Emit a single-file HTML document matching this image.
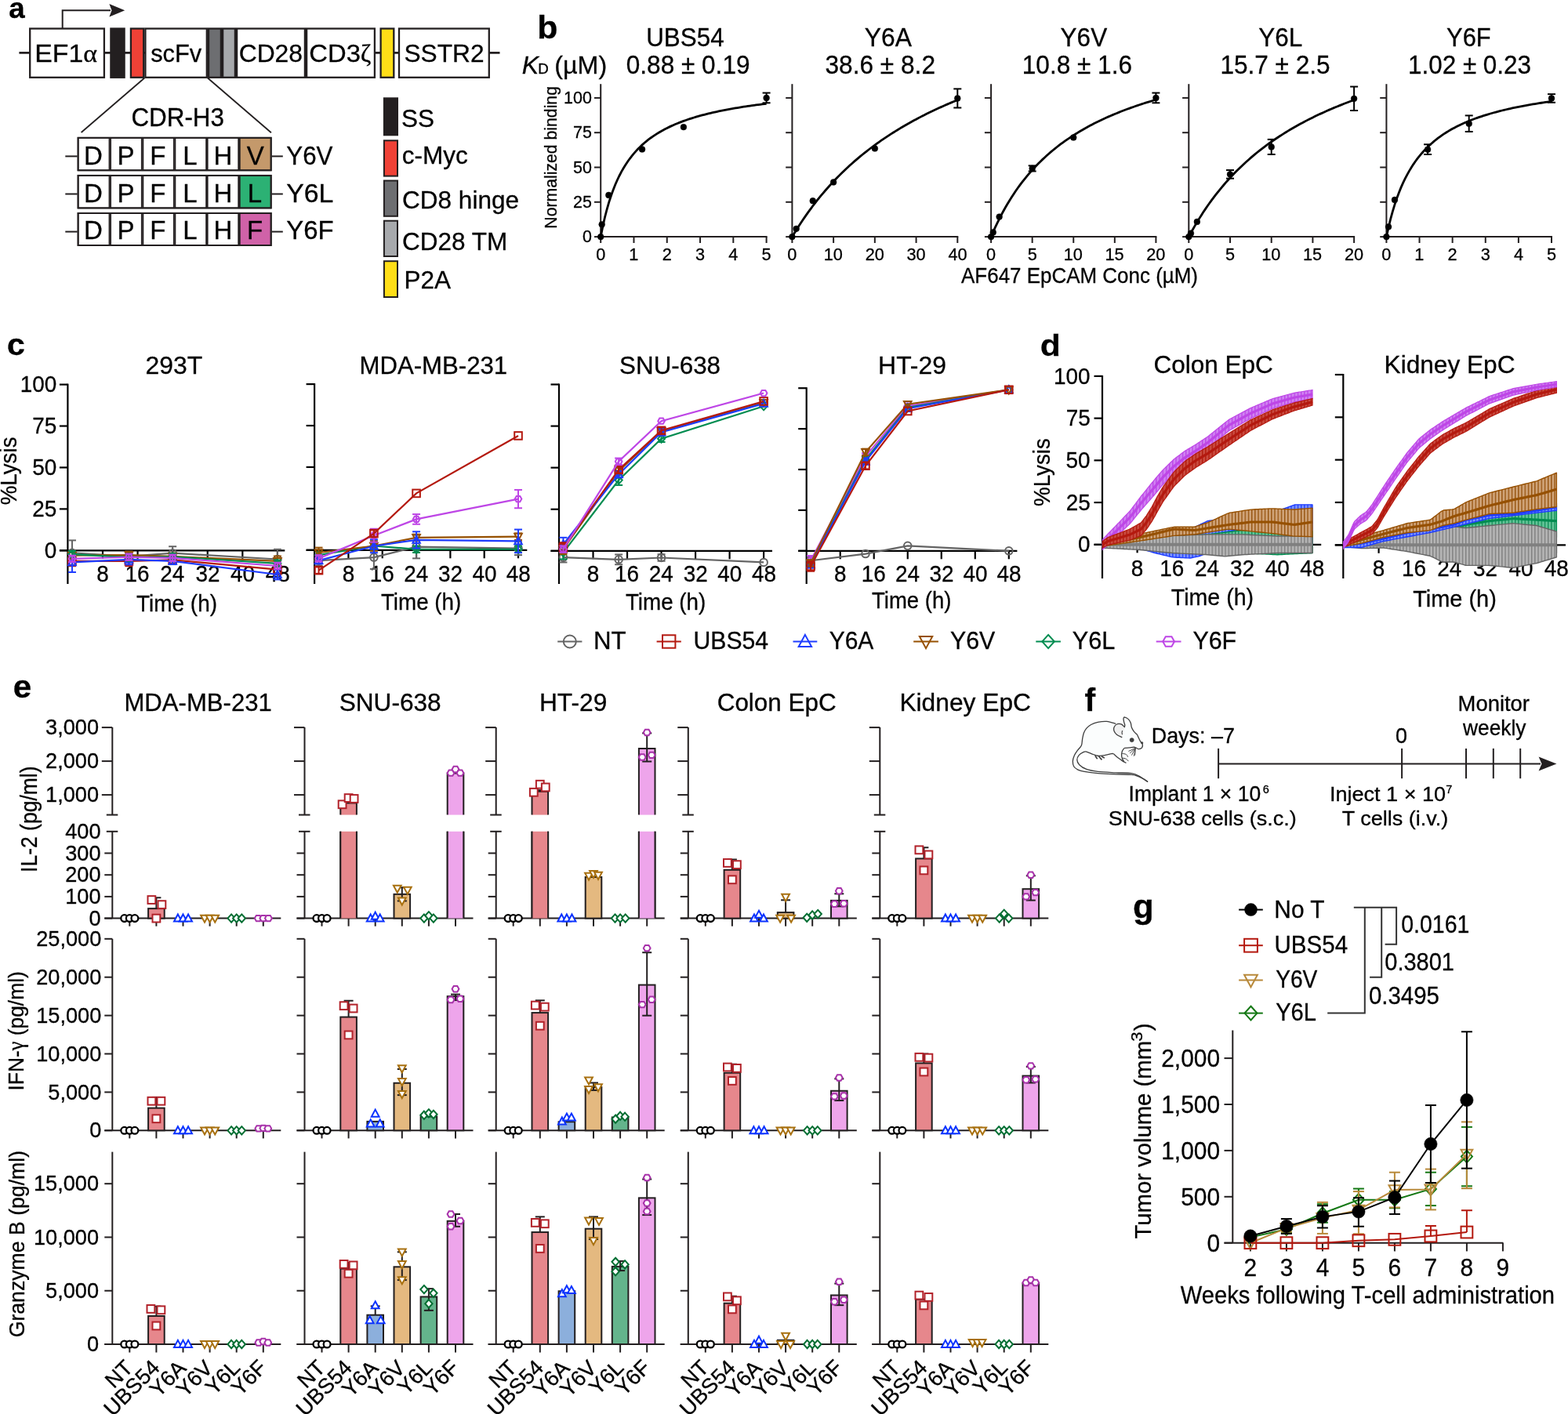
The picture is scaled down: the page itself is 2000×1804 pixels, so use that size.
<!DOCTYPE html><html><head><meta charset="utf-8"><title>Figure</title><style>html,body{margin:0;padding:0;background:#fff;}svg{display:block;}</style></head><body>
<svg width="2000" height="1804" viewBox="0 0 2000 1804" font-family="Liberation Sans, Arial, Helvetica, sans-serif" fill="#000">
<style>text{stroke:#000;stroke-width:0.3px;}</style>
<rect x="0" y="0" width="2000" height="1804" fill="#fff"/>
<text x="11.32" y="22.6" font-size="36.5" font-weight="bold" textLength="20.44" lengthAdjust="spacingAndGlyphs">a</text>
<polyline points="79.7,36 79.7,13.2 141,13.2" fill="none" stroke="#231f20" stroke-width="2"/>
<polygon points="139.4,5 159.2,13.2 139.4,21.5 142.5,13.2" fill="#231f20"/>
<line x1="24.4" y1="67.4" x2="637.5" y2="67.4" stroke="#231f20" stroke-width="2.8"/>
<rect x="38.2" y="36.5" width="94.7" height="62.3" fill="#fff" stroke="#231f20" stroke-width="2.3"/>
<rect x="141.4" y="36.5" width="17.2" height="62.3" fill="#231f20" stroke="#231f20" stroke-width="2.3"/>
<rect x="166.9" y="36.5" width="16.3" height="62.3" fill="#ef4136" stroke="#231f20" stroke-width="2.3"/>
<rect x="185.4" y="36.5" width="78.4" height="62.3" fill="#fff" stroke="#231f20" stroke-width="2.3"/>
<rect x="266" y="36.5" width="15.9" height="62.3" fill="#6d6e71" stroke="#231f20" stroke-width="2.3"/>
<rect x="284.1" y="36.5" width="15.8" height="62.3" fill="#a7a9ac" stroke="#231f20" stroke-width="2.3"/>
<rect x="302.1" y="36.5" width="86.8" height="62.3" fill="#fff" stroke="#231f20" stroke-width="2.3"/>
<rect x="391.1" y="36.5" width="86.8" height="62.3" fill="#fff" stroke="#231f20" stroke-width="2.3"/>
<rect x="485.6" y="36.5" width="16.7" height="62.3" fill="#ffde17" stroke="#231f20" stroke-width="2.3"/>
<rect x="509" y="36.5" width="114.8" height="62.3" fill="#fff" stroke="#231f20" stroke-width="2.3"/>
<text x="44.29" y="79.2" font-size="32" textLength="79.66" lengthAdjust="spacingAndGlyphs">EF1<tspan font-family="Liberation Serif, serif">α</tspan></text>
<text x="192.14" y="79.2" font-size="32" textLength="64.96" lengthAdjust="spacingAndGlyphs">scFv</text>
<text x="304.69" y="78.7" font-size="32" textLength="81.3" lengthAdjust="spacingAndGlyphs">CD28</text>
<text x="394.36" y="78.7" font-size="32" textLength="79.06" lengthAdjust="spacingAndGlyphs">CD3<tspan font-family="Liberation Serif, serif">ζ</tspan></text>
<text x="515.46" y="78.7" font-size="32" textLength="102.03" lengthAdjust="spacingAndGlyphs">SSTR2</text>
<line x1="184.3" y1="99.5" x2="103.6" y2="169" stroke="#231f20" stroke-width="1.8"/>
<line x1="264.9" y1="99.5" x2="345.9" y2="169.2" stroke="#231f20" stroke-width="1.8"/>
<text x="167.41" y="161" font-size="32.5" textLength="118.57" lengthAdjust="spacingAndGlyphs">CDR-H3</text>
<line x1="83.3" y1="199.4" x2="98.7" y2="199.4" stroke="#231f20" stroke-width="2"/>
<line x1="346.6" y1="199.4" x2="360.8" y2="199.4" stroke="#231f20" stroke-width="2"/>
<rect x="99.5" y="175.8" width="40" height="41.5" fill="#fff" stroke="#231f20" stroke-width="1.8"/>
<rect x="141.1" y="175.8" width="39.7" height="41.5" fill="#fff" stroke="#231f20" stroke-width="1.8"/>
<rect x="182.4" y="175.8" width="39.4" height="41.5" fill="#fff" stroke="#231f20" stroke-width="1.8"/>
<rect x="223.4" y="175.8" width="39.7" height="41.5" fill="#fff" stroke="#231f20" stroke-width="1.8"/>
<rect x="264.7" y="175.8" width="39.5" height="41.5" fill="#fff" stroke="#231f20" stroke-width="1.8"/>
<rect x="305.8" y="175.8" width="40" height="41.5" fill="#c4996b" stroke="#231f20" stroke-width="1.8"/>
<rect x="99.7" y="175.8" width="245.9" height="41.5" fill="none" stroke="#231f20" stroke-width="2"/>
<text x="107.02" y="209.6" font-size="33">D</text>
<text x="149.46" y="209.6" font-size="33">P</text>
<text x="191.33" y="209.6" font-size="33">F</text>
<text x="233.27" y="209.6" font-size="33">L</text>
<text x="272.53" y="209.6" font-size="33">H</text>
<text x="314.79" y="209.6" font-size="33">V</text>
<text x="365.31" y="209.6" font-size="33" textLength="59.12" lengthAdjust="spacingAndGlyphs">Y6V</text>
<line x1="83.3" y1="247.5" x2="98.7" y2="247.5" stroke="#231f20" stroke-width="2"/>
<line x1="346.6" y1="247.5" x2="360.8" y2="247.5" stroke="#231f20" stroke-width="2"/>
<rect x="99.5" y="223.9" width="40" height="41.5" fill="#fff" stroke="#231f20" stroke-width="1.8"/>
<rect x="141.1" y="223.9" width="39.7" height="41.5" fill="#fff" stroke="#231f20" stroke-width="1.8"/>
<rect x="182.4" y="223.9" width="39.4" height="41.5" fill="#fff" stroke="#231f20" stroke-width="1.8"/>
<rect x="223.4" y="223.9" width="39.7" height="41.5" fill="#fff" stroke="#231f20" stroke-width="1.8"/>
<rect x="264.7" y="223.9" width="39.5" height="41.5" fill="#fff" stroke="#231f20" stroke-width="1.8"/>
<rect x="305.8" y="223.9" width="40" height="41.5" fill="#2cb174" stroke="#231f20" stroke-width="1.8"/>
<rect x="99.7" y="223.9" width="245.9" height="41.5" fill="none" stroke="#231f20" stroke-width="2"/>
<text x="107.02" y="257.7" font-size="33">D</text>
<text x="149.46" y="257.7" font-size="33">P</text>
<text x="191.33" y="257.7" font-size="33">F</text>
<text x="233.27" y="257.7" font-size="33">L</text>
<text x="272.53" y="257.7" font-size="33">H</text>
<text x="315.82" y="257.7" font-size="33">L</text>
<text x="365.26" y="257.7" font-size="33" textLength="60.17" lengthAdjust="spacingAndGlyphs">Y6L</text>
<line x1="83.3" y1="295.6" x2="98.7" y2="295.6" stroke="#231f20" stroke-width="2"/>
<line x1="346.6" y1="295.6" x2="360.8" y2="295.6" stroke="#231f20" stroke-width="2"/>
<rect x="99.5" y="272" width="40" height="41" fill="#fff" stroke="#231f20" stroke-width="1.8"/>
<rect x="141.1" y="272" width="39.7" height="41" fill="#fff" stroke="#231f20" stroke-width="1.8"/>
<rect x="182.4" y="272" width="39.4" height="41" fill="#fff" stroke="#231f20" stroke-width="1.8"/>
<rect x="223.4" y="272" width="39.7" height="41" fill="#fff" stroke="#231f20" stroke-width="1.8"/>
<rect x="264.7" y="272" width="39.5" height="41" fill="#fff" stroke="#231f20" stroke-width="1.8"/>
<rect x="305.8" y="272" width="40" height="41" fill="#d062a8" stroke="#231f20" stroke-width="1.8"/>
<rect x="99.7" y="272" width="245.9" height="41" fill="none" stroke="#231f20" stroke-width="2"/>
<text x="107.02" y="305.3" font-size="33">D</text>
<text x="149.46" y="305.3" font-size="33">P</text>
<text x="191.33" y="305.3" font-size="33">F</text>
<text x="233.27" y="305.3" font-size="33">L</text>
<text x="272.53" y="305.3" font-size="33">H</text>
<text x="315.03" y="305.3" font-size="33">F</text>
<text x="365.28" y="305.3" font-size="33" textLength="60.34" lengthAdjust="spacingAndGlyphs">Y6F</text>
<rect x="489.9" y="125.3" width="17.1" height="47" fill="#231f20" stroke="#231f20" stroke-width="2"/>
<text x="511.97" y="162" font-size="31.5">SS</text>
<rect x="489.9" y="179.3" width="17.1" height="45.3" fill="#ef4136" stroke="#231f20" stroke-width="2"/>
<text x="512.66" y="209.3" font-size="31.5">c-Myc</text>
<rect x="489.9" y="230.5" width="17.1" height="45.3" fill="#6d6e71" stroke="#231f20" stroke-width="2"/>
<text x="513.1" y="266" font-size="31.5">CD8 hinge</text>
<rect x="489.9" y="281.7" width="17.1" height="45.3" fill="#a7a9ac" stroke="#231f20" stroke-width="2"/>
<text x="513.1" y="318.7" font-size="31.5">CD28 TM</text>
<rect x="489.9" y="333.2" width="17.1" height="45.8" fill="#ffde17" stroke="#231f20" stroke-width="2"/>
<text x="515.42" y="368.3" font-size="31.5">P2A</text>
<text x="685.17" y="49" font-size="40.5" font-weight="bold" textLength="26.18" lengthAdjust="spacingAndGlyphs">b</text>
<text x="665.67" y="93.5" font-size="32" font-style="italic">K</text>
<text x="686.37" y="93.9" font-size="18.7">D</text>
<text x="707.3" y="93.5" font-size="32" textLength="66.9" lengthAdjust="spacingAndGlyphs">(µM)</text>
<text x="824.18" y="58.7" font-size="33.4" textLength="99.44" lengthAdjust="spacingAndGlyphs">UBS54</text>
<text x="798.77" y="93.8" font-size="33.4" textLength="157.73" lengthAdjust="spacingAndGlyphs">0.88 ± 0.19</text>
<line x1="766.2" y1="107.2" x2="766.2" y2="303.1" stroke="#231f20" stroke-width="2"/>
<line x1="765.2" y1="302.1" x2="978.6" y2="302.1" stroke="#231f20" stroke-width="2"/>
<line x1="758" y1="302.1" x2="766.2" y2="302.1" stroke="#231f20" stroke-width="2"/>
<text x="742.9" y="309.3" font-size="22.6" textLength="11.94" lengthAdjust="spacingAndGlyphs">0</text>
<line x1="758" y1="257.8" x2="766.2" y2="257.8" stroke="#231f20" stroke-width="2"/>
<text x="731.02" y="265" font-size="22.6" textLength="23.88" lengthAdjust="spacingAndGlyphs">25</text>
<line x1="758" y1="213.5" x2="766.2" y2="213.5" stroke="#231f20" stroke-width="2"/>
<text x="730.96" y="220.7" font-size="22.6" textLength="23.88" lengthAdjust="spacingAndGlyphs">50</text>
<line x1="758" y1="169.2" x2="766.2" y2="169.2" stroke="#231f20" stroke-width="2"/>
<text x="731.02" y="176.4" font-size="22.6" textLength="23.88" lengthAdjust="spacingAndGlyphs">75</text>
<line x1="758" y1="124.9" x2="766.2" y2="124.9" stroke="#231f20" stroke-width="2"/>
<text x="719.02" y="132.1" font-size="22.6" textLength="35.82" lengthAdjust="spacingAndGlyphs">100</text>
<line x1="766.2" y1="302.1" x2="766.2" y2="310" stroke="#231f20" stroke-width="2"/>
<text x="760.17" y="332" font-size="22.6" textLength="12.07" lengthAdjust="spacingAndGlyphs">0</text>
<line x1="808.48" y1="302.1" x2="808.48" y2="310" stroke="#231f20" stroke-width="2"/>
<text x="802.15" y="332" font-size="22.6" textLength="12.07" lengthAdjust="spacingAndGlyphs">1</text>
<line x1="850.76" y1="302.1" x2="850.76" y2="310" stroke="#231f20" stroke-width="2"/>
<text x="844.73" y="332" font-size="22.6" textLength="12.07" lengthAdjust="spacingAndGlyphs">2</text>
<line x1="893.04" y1="302.1" x2="893.04" y2="310" stroke="#231f20" stroke-width="2"/>
<text x="887.07" y="332" font-size="22.6" textLength="12.07" lengthAdjust="spacingAndGlyphs">3</text>
<line x1="935.32" y1="302.1" x2="935.32" y2="310" stroke="#231f20" stroke-width="2"/>
<text x="929.36" y="332" font-size="22.6" textLength="12.07" lengthAdjust="spacingAndGlyphs">4</text>
<line x1="977.6" y1="302.1" x2="977.6" y2="310" stroke="#231f20" stroke-width="2"/>
<text x="971.59" y="332" font-size="22.6" textLength="12.07" lengthAdjust="spacingAndGlyphs">5</text>
<polyline points="766.2,302.1 768.84,288.86 771.49,277.26 774.13,267.02 776.77,257.92 779.41,249.77 782.06,242.43 784.7,235.78 787.34,229.74 789.98,224.23 792.62,219.17 795.27,214.51 797.91,210.21 800.55,206.23 803.2,202.53 805.84,199.09 808.48,195.87 811.12,192.87 813.77,190.05 816.41,187.4 819.05,184.9 821.69,182.55 824.34,180.33 826.98,178.23 829.62,176.24 832.26,174.35 834.91,172.55 837.55,170.84 840.19,169.22 842.83,167.67 845.48,166.19 848.12,164.77 850.76,163.42 853.4,162.12 856.05,160.88 858.69,159.69 861.33,158.54 863.97,157.44 866.62,156.39 869.26,155.37 871.9,154.39 874.54,153.45 877.19,152.54 879.83,151.66 882.47,150.81 885.11,149.99 887.75,149.2 890.4,148.43 893.04,147.69 895.68,146.97 898.33,146.28 900.97,145.6 903.61,144.95 906.25,144.31 908.89,143.7 911.54,143.1 914.18,142.52 916.82,141.95 919.47,141.41 922.11,140.87 924.75,140.35 927.39,139.85 930.04,139.35 932.68,138.88 935.32,138.41 937.96,137.95 940.61,137.51 943.25,137.08 945.89,136.65 948.53,136.24 951.17,135.84 953.82,135.44 956.46,135.06 959.1,134.69 961.75,134.32 964.39,133.96 967.03,133.61 969.67,133.27 972.32,132.93 974.96,132.6 977.6,132.28" fill="none" stroke="#000" stroke-width="2.8"/>
<circle cx="766.2" cy="302.1" r="3.9" fill="#000" stroke="#000" stroke-width="0.5"/>
<circle cx="767.68" cy="286.33" r="3.9" fill="#000" stroke="#000" stroke-width="0.5"/>
<circle cx="776.35" cy="248.94" r="3.9" fill="#000" stroke="#000" stroke-width="0.5"/>
<circle cx="819.05" cy="190.46" r="3.9" fill="#000" stroke="#000" stroke-width="0.5"/>
<circle cx="871.9" cy="162.11" r="3.9" fill="#000" stroke="#000" stroke-width="0.5"/>
<line x1="977.6" y1="131.28" x2="977.6" y2="118.52" stroke="#000" stroke-width="2"/>
<line x1="972.6" y1="131.28" x2="982.6" y2="131.28" stroke="#000" stroke-width="2"/>
<line x1="972.6" y1="118.52" x2="982.6" y2="118.52" stroke="#000" stroke-width="2"/>
<circle cx="977.6" cy="124.9" r="3.9" fill="#000" stroke="#000" stroke-width="0.5"/>
<text x="1102.8" y="58.7" font-size="33.4" textLength="60.16" lengthAdjust="spacingAndGlyphs">Y6A</text>
<text x="1052.5" y="93.8" font-size="33.4" textLength="140.5" lengthAdjust="spacingAndGlyphs">38.6 ± 8.2</text>
<line x1="1010.4" y1="107.2" x2="1010.4" y2="303.1" stroke="#231f20" stroke-width="2"/>
<line x1="1009.4" y1="302.1" x2="1222.3" y2="302.1" stroke="#231f20" stroke-width="2"/>
<line x1="1002.2" y1="302.1" x2="1010.4" y2="302.1" stroke="#231f20" stroke-width="2"/>
<line x1="1002.2" y1="257.8" x2="1010.4" y2="257.8" stroke="#231f20" stroke-width="2"/>
<line x1="1002.2" y1="213.5" x2="1010.4" y2="213.5" stroke="#231f20" stroke-width="2"/>
<line x1="1002.2" y1="169.2" x2="1010.4" y2="169.2" stroke="#231f20" stroke-width="2"/>
<line x1="1002.2" y1="124.9" x2="1010.4" y2="124.9" stroke="#231f20" stroke-width="2"/>
<line x1="1010.4" y1="302.1" x2="1010.4" y2="310" stroke="#231f20" stroke-width="2"/>
<text x="1004.37" y="332" font-size="22.6" textLength="12.07" lengthAdjust="spacingAndGlyphs">0</text>
<line x1="1063.12" y1="302.1" x2="1063.12" y2="310" stroke="#231f20" stroke-width="2"/>
<text x="1050.66" y="332" font-size="22.6" textLength="24.13" lengthAdjust="spacingAndGlyphs">10</text>
<line x1="1115.85" y1="302.1" x2="1115.85" y2="310" stroke="#231f20" stroke-width="2"/>
<text x="1103.66" y="332" font-size="22.6" textLength="24.13" lengthAdjust="spacingAndGlyphs">20</text>
<line x1="1168.58" y1="302.1" x2="1168.58" y2="310" stroke="#231f20" stroke-width="2"/>
<text x="1156.52" y="332" font-size="22.6" textLength="24.13" lengthAdjust="spacingAndGlyphs">30</text>
<line x1="1221.3" y1="302.1" x2="1221.3" y2="310" stroke="#231f20" stroke-width="2"/>
<text x="1209.41" y="332" font-size="22.6" textLength="24.13" lengthAdjust="spacingAndGlyphs">40</text>
<polyline points="1010.4,302.1 1013.04,297.72 1015.67,293.44 1018.31,289.27 1020.94,285.21 1023.58,281.24 1026.22,277.37 1028.85,273.59 1031.49,269.9 1034.13,266.3 1036.76,262.78 1039.4,259.34 1042.04,255.97 1044.67,252.68 1047.31,249.46 1049.94,246.32 1052.58,243.24 1055.22,240.22 1057.85,237.27 1060.49,234.38 1063.12,231.55 1065.76,228.77 1068.4,226.06 1071.03,223.39 1073.67,220.78 1076.31,218.22 1078.94,215.72 1081.58,213.25 1084.21,210.84 1086.85,208.47 1089.49,206.14 1092.12,203.86 1094.76,201.62 1097.4,199.42 1100.03,197.26 1102.67,195.14 1105.31,193.06 1107.94,191.01 1110.58,189 1113.21,187.02 1115.85,185.08 1118.49,183.16 1121.12,181.29 1123.76,179.44 1126.39,177.62 1129.03,175.83 1131.67,174.08 1134.3,172.35 1136.94,170.64 1139.58,168.97 1142.21,167.32 1144.85,165.7 1147.48,164.1 1150.12,162.52 1152.76,160.97 1155.39,159.45 1158.03,157.95 1160.67,156.46 1163.3,155.01 1165.94,153.57 1168.58,152.15 1171.21,150.76 1173.85,149.38 1176.48,148.02 1179.12,146.69 1181.76,145.37 1184.39,144.07 1187.03,142.79 1189.66,141.52 1192.3,140.27 1194.94,139.04 1197.57,137.83 1200.21,136.63 1202.85,135.45 1205.48,134.29 1208.12,133.14 1210.75,132 1213.39,130.88 1216.03,129.78 1218.66,128.68 1221.3,127.61" fill="none" stroke="#000" stroke-width="2.8"/>
<circle cx="1010.4" cy="302.1" r="3.9" fill="#000" stroke="#000" stroke-width="0.5"/>
<circle cx="1015.67" cy="291.82" r="3.9" fill="#000" stroke="#000" stroke-width="0.5"/>
<circle cx="1036.76" cy="256.21" r="3.9" fill="#000" stroke="#000" stroke-width="0.5"/>
<circle cx="1063.12" cy="232.46" r="3.9" fill="#000" stroke="#000" stroke-width="0.5"/>
<circle cx="1115.85" cy="189.4" r="3.9" fill="#000" stroke="#000" stroke-width="0.5"/>
<line x1="1221.3" y1="137.48" x2="1221.3" y2="113.38" stroke="#000" stroke-width="2"/>
<line x1="1216.3" y1="137.48" x2="1226.3" y2="137.48" stroke="#000" stroke-width="2"/>
<line x1="1216.3" y1="113.38" x2="1226.3" y2="113.38" stroke="#000" stroke-width="2"/>
<circle cx="1221.3" cy="125.43" r="3.9" fill="#000" stroke="#000" stroke-width="0.5"/>
<text x="1352.61" y="58.7" font-size="33.4" textLength="59.53" lengthAdjust="spacingAndGlyphs">Y6V</text>
<text x="1303.8" y="93.8" font-size="33.4" textLength="140.19" lengthAdjust="spacingAndGlyphs">10.8 ± 1.6</text>
<line x1="1264.1" y1="107.2" x2="1264.1" y2="303.1" stroke="#231f20" stroke-width="2"/>
<line x1="1263.1" y1="302.1" x2="1475.4" y2="302.1" stroke="#231f20" stroke-width="2"/>
<line x1="1255.9" y1="302.1" x2="1264.1" y2="302.1" stroke="#231f20" stroke-width="2"/>
<line x1="1255.9" y1="257.8" x2="1264.1" y2="257.8" stroke="#231f20" stroke-width="2"/>
<line x1="1255.9" y1="213.5" x2="1264.1" y2="213.5" stroke="#231f20" stroke-width="2"/>
<line x1="1255.9" y1="169.2" x2="1264.1" y2="169.2" stroke="#231f20" stroke-width="2"/>
<line x1="1255.9" y1="124.9" x2="1264.1" y2="124.9" stroke="#231f20" stroke-width="2"/>
<line x1="1264.1" y1="302.1" x2="1264.1" y2="310" stroke="#231f20" stroke-width="2"/>
<text x="1258.07" y="332" font-size="22.6" textLength="12.07" lengthAdjust="spacingAndGlyphs">0</text>
<line x1="1316.67" y1="302.1" x2="1316.67" y2="310" stroke="#231f20" stroke-width="2"/>
<text x="1310.66" y="332" font-size="22.6" textLength="12.07" lengthAdjust="spacingAndGlyphs">5</text>
<line x1="1369.25" y1="302.1" x2="1369.25" y2="310" stroke="#231f20" stroke-width="2"/>
<text x="1356.78" y="332" font-size="22.6" textLength="24.13" lengthAdjust="spacingAndGlyphs">10</text>
<line x1="1421.83" y1="302.1" x2="1421.83" y2="310" stroke="#231f20" stroke-width="2"/>
<text x="1409.39" y="332" font-size="22.6" textLength="24.13" lengthAdjust="spacingAndGlyphs">15</text>
<line x1="1474.4" y1="302.1" x2="1474.4" y2="310" stroke="#231f20" stroke-width="2"/>
<text x="1462.21" y="332" font-size="22.6" textLength="24.13" lengthAdjust="spacingAndGlyphs">20</text>
<polyline points="1264.1,302.1 1266.73,296.01 1269.36,290.18 1271.99,284.61 1274.62,279.27 1277.24,274.16 1279.87,269.25 1282.5,264.54 1285.13,260.02 1287.76,255.66 1290.39,251.47 1293.02,247.44 1295.64,243.55 1298.27,239.8 1300.9,236.18 1303.53,232.68 1306.16,229.3 1308.79,226.04 1311.42,222.88 1314.05,219.82 1316.67,216.86 1319.3,214 1321.93,211.22 1324.56,208.52 1327.19,205.91 1329.82,203.37 1332.45,200.9 1335.08,198.51 1337.7,196.18 1340.33,193.91 1342.96,191.71 1345.59,189.57 1348.22,187.49 1350.85,185.45 1353.48,183.48 1356.11,181.55 1358.73,179.67 1361.36,177.84 1363.99,176.05 1366.62,174.31 1369.25,172.61 1371.88,170.95 1374.51,169.32 1377.14,167.74 1379.77,166.19 1382.39,164.68 1385.02,163.2 1387.65,161.75 1390.28,160.34 1392.91,158.96 1395.54,157.6 1398.17,156.28 1400.8,154.98 1403.42,153.71 1406.05,152.46 1408.68,151.25 1411.31,150.05 1413.94,148.88 1416.57,147.73 1419.2,146.61 1421.83,145.5 1424.45,144.42 1427.08,143.36 1429.71,142.32 1432.34,141.3 1434.97,140.29 1437.6,139.31 1440.23,138.34 1442.86,137.39 1445.48,136.46 1448.11,135.54 1450.74,134.64 1453.37,133.76 1456,132.89 1458.63,132.04 1461.26,131.2 1463.88,130.37 1466.51,129.56 1469.14,128.76 1471.77,127.97 1474.4,127.2" fill="none" stroke="#000" stroke-width="2.8"/>
<circle cx="1264.1" cy="302.1" r="3.9" fill="#000" stroke="#000" stroke-width="0.5"/>
<circle cx="1266.73" cy="296.43" r="3.9" fill="#000" stroke="#000" stroke-width="0.5"/>
<circle cx="1274.62" cy="276.58" r="3.9" fill="#000" stroke="#000" stroke-width="0.5"/>
<line x1="1316.67" y1="218.46" x2="1316.67" y2="211.37" stroke="#000" stroke-width="2"/>
<line x1="1311.67" y1="218.46" x2="1321.67" y2="218.46" stroke="#000" stroke-width="2"/>
<line x1="1311.67" y1="211.37" x2="1321.67" y2="211.37" stroke="#000" stroke-width="2"/>
<circle cx="1316.67" cy="214.92" r="3.9" fill="#000" stroke="#000" stroke-width="0.5"/>
<circle cx="1369.25" cy="175.4" r="3.9" fill="#000" stroke="#000" stroke-width="0.5"/>
<line x1="1474.4" y1="131.28" x2="1474.4" y2="118.52" stroke="#000" stroke-width="2"/>
<line x1="1469.4" y1="131.28" x2="1479.4" y2="131.28" stroke="#000" stroke-width="2"/>
<line x1="1469.4" y1="118.52" x2="1479.4" y2="118.52" stroke="#000" stroke-width="2"/>
<circle cx="1474.4" cy="124.9" r="3.9" fill="#000" stroke="#000" stroke-width="0.5"/>
<text x="1605.31" y="58.7" font-size="33.4" textLength="56.04" lengthAdjust="spacingAndGlyphs">Y6L</text>
<text x="1556.39" y="93.8" font-size="33.4" textLength="140.23" lengthAdjust="spacingAndGlyphs">15.7 ± 2.5</text>
<line x1="1516.3" y1="107.2" x2="1516.3" y2="303.1" stroke="#231f20" stroke-width="2"/>
<line x1="1515.3" y1="302.1" x2="1728.1" y2="302.1" stroke="#231f20" stroke-width="2"/>
<line x1="1508.1" y1="302.1" x2="1516.3" y2="302.1" stroke="#231f20" stroke-width="2"/>
<line x1="1508.1" y1="257.8" x2="1516.3" y2="257.8" stroke="#231f20" stroke-width="2"/>
<line x1="1508.1" y1="213.5" x2="1516.3" y2="213.5" stroke="#231f20" stroke-width="2"/>
<line x1="1508.1" y1="169.2" x2="1516.3" y2="169.2" stroke="#231f20" stroke-width="2"/>
<line x1="1508.1" y1="124.9" x2="1516.3" y2="124.9" stroke="#231f20" stroke-width="2"/>
<line x1="1516.3" y1="302.1" x2="1516.3" y2="310" stroke="#231f20" stroke-width="2"/>
<text x="1510.27" y="332" font-size="22.6" textLength="12.07" lengthAdjust="spacingAndGlyphs">0</text>
<line x1="1569" y1="302.1" x2="1569" y2="310" stroke="#231f20" stroke-width="2"/>
<text x="1562.99" y="332" font-size="22.6" textLength="12.07" lengthAdjust="spacingAndGlyphs">5</text>
<line x1="1621.7" y1="302.1" x2="1621.7" y2="310" stroke="#231f20" stroke-width="2"/>
<text x="1609.23" y="332" font-size="22.6" textLength="24.13" lengthAdjust="spacingAndGlyphs">10</text>
<line x1="1674.4" y1="302.1" x2="1674.4" y2="310" stroke="#231f20" stroke-width="2"/>
<text x="1661.96" y="332" font-size="22.6" textLength="24.13" lengthAdjust="spacingAndGlyphs">15</text>
<line x1="1727.1" y1="302.1" x2="1727.1" y2="310" stroke="#231f20" stroke-width="2"/>
<text x="1714.91" y="332" font-size="22.6" textLength="24.13" lengthAdjust="spacingAndGlyphs">20</text>
<polyline points="1516.3,302.1 1518.93,297.22 1521.57,292.49 1524.2,287.9 1526.84,283.45 1529.47,279.13 1532.11,274.93 1534.74,270.86 1537.38,266.9 1540.01,263.05 1542.65,259.31 1545.28,255.67 1547.92,252.12 1550.55,248.67 1553.19,245.31 1555.83,242.04 1558.46,238.85 1561.1,235.74 1563.73,232.7 1566.37,229.74 1569,226.85 1571.63,224.03 1574.27,221.28 1576.9,218.59 1579.54,215.97 1582.17,213.4 1584.81,210.89 1587.44,208.44 1590.08,206.04 1592.71,203.69 1595.35,201.39 1597.98,199.15 1600.62,196.95 1603.25,194.79 1605.89,192.68 1608.52,190.62 1611.16,188.59 1613.79,186.61 1616.43,184.66 1619.07,182.76 1621.7,180.89 1624.34,179.05 1626.97,177.26 1629.61,175.49 1632.24,173.76 1634.88,172.06 1637.51,170.39 1640.14,168.75 1642.78,167.15 1645.41,165.57 1648.05,164.02 1650.68,162.49 1653.32,160.99 1655.95,159.52 1658.59,158.08 1661.22,156.65 1663.86,155.26 1666.49,153.88 1669.13,152.53 1671.76,151.2 1674.4,149.89 1677.03,148.61 1679.67,147.34 1682.3,146.09 1684.94,144.87 1687.57,143.66 1690.21,142.47 1692.84,141.3 1695.48,140.15 1698.12,139.01 1700.75,137.9 1703.38,136.8 1706.02,135.71 1708.65,134.64 1711.29,133.59 1713.92,132.55 1716.56,131.53 1719.19,130.52 1721.83,129.53 1724.46,128.55 1727.1,127.58" fill="none" stroke="#000" stroke-width="2.8"/>
<circle cx="1516.3" cy="302.1" r="3.9" fill="#000" stroke="#000" stroke-width="0.5"/>
<circle cx="1518.93" cy="297.67" r="3.9" fill="#000" stroke="#000" stroke-width="0.5"/>
<circle cx="1526.84" cy="282.96" r="3.9" fill="#000" stroke="#000" stroke-width="0.5"/>
<line x1="1569" y1="227.68" x2="1569" y2="217.04" stroke="#000" stroke-width="2"/>
<line x1="1564" y1="227.68" x2="1574" y2="227.68" stroke="#000" stroke-width="2"/>
<line x1="1564" y1="217.04" x2="1574" y2="217.04" stroke="#000" stroke-width="2"/>
<circle cx="1569" cy="222.36" r="3.9" fill="#000" stroke="#000" stroke-width="0.5"/>
<line x1="1621.7" y1="197.02" x2="1621.7" y2="177.88" stroke="#000" stroke-width="2"/>
<line x1="1616.7" y1="197.02" x2="1626.7" y2="197.02" stroke="#000" stroke-width="2"/>
<line x1="1616.7" y1="177.88" x2="1626.7" y2="177.88" stroke="#000" stroke-width="2"/>
<circle cx="1621.7" cy="187.45" r="3.9" fill="#000" stroke="#000" stroke-width="0.5"/>
<line x1="1727.1" y1="141.03" x2="1727.1" y2="110.55" stroke="#000" stroke-width="2"/>
<line x1="1722.1" y1="141.03" x2="1732.1" y2="141.03" stroke="#000" stroke-width="2"/>
<line x1="1722.1" y1="110.55" x2="1732.1" y2="110.55" stroke="#000" stroke-width="2"/>
<circle cx="1727.1" cy="125.79" r="3.9" fill="#000" stroke="#000" stroke-width="0.5"/>
<text x="1845.02" y="58.7" font-size="33.4" textLength="56.72" lengthAdjust="spacingAndGlyphs">Y6F</text>
<text x="1796.11" y="93.8" font-size="33.4" textLength="156.77" lengthAdjust="spacingAndGlyphs">1.02 ± 0.23</text>
<line x1="1768.4" y1="107.2" x2="1768.4" y2="303.1" stroke="#231f20" stroke-width="2"/>
<line x1="1767.4" y1="302.1" x2="1980" y2="302.1" stroke="#231f20" stroke-width="2"/>
<line x1="1760.2" y1="302.1" x2="1768.4" y2="302.1" stroke="#231f20" stroke-width="2"/>
<line x1="1760.2" y1="257.8" x2="1768.4" y2="257.8" stroke="#231f20" stroke-width="2"/>
<line x1="1760.2" y1="213.5" x2="1768.4" y2="213.5" stroke="#231f20" stroke-width="2"/>
<line x1="1760.2" y1="169.2" x2="1768.4" y2="169.2" stroke="#231f20" stroke-width="2"/>
<line x1="1760.2" y1="124.9" x2="1768.4" y2="124.9" stroke="#231f20" stroke-width="2"/>
<line x1="1768.4" y1="302.1" x2="1768.4" y2="310" stroke="#231f20" stroke-width="2"/>
<text x="1762.37" y="332" font-size="22.6" textLength="12.07" lengthAdjust="spacingAndGlyphs">0</text>
<line x1="1810.52" y1="302.1" x2="1810.52" y2="310" stroke="#231f20" stroke-width="2"/>
<text x="1804.19" y="332" font-size="22.6" textLength="12.07" lengthAdjust="spacingAndGlyphs">1</text>
<line x1="1852.64" y1="302.1" x2="1852.64" y2="310" stroke="#231f20" stroke-width="2"/>
<text x="1846.61" y="332" font-size="22.6" textLength="12.07" lengthAdjust="spacingAndGlyphs">2</text>
<line x1="1894.76" y1="302.1" x2="1894.76" y2="310" stroke="#231f20" stroke-width="2"/>
<text x="1888.79" y="332" font-size="22.6" textLength="12.07" lengthAdjust="spacingAndGlyphs">3</text>
<line x1="1936.88" y1="302.1" x2="1936.88" y2="310" stroke="#231f20" stroke-width="2"/>
<text x="1930.92" y="332" font-size="22.6" textLength="12.07" lengthAdjust="spacingAndGlyphs">4</text>
<line x1="1979" y1="302.1" x2="1979" y2="310" stroke="#231f20" stroke-width="2"/>
<text x="1972.99" y="332" font-size="22.6" textLength="12.07" lengthAdjust="spacingAndGlyphs">5</text>
<polyline points="1768.4,302.1 1771.03,290.09 1773.67,279.39 1776.3,269.8 1778.93,261.15 1781.56,253.31 1784.2,246.18 1786.83,239.65 1789.46,233.67 1792.09,228.15 1794.73,223.06 1797.36,218.34 1799.99,213.95 1802.62,209.86 1805.26,206.04 1807.89,202.47 1810.52,199.11 1813.15,195.96 1815.79,192.99 1818.42,190.19 1821.05,187.54 1823.68,185.04 1826.32,182.67 1828.95,180.41 1831.58,178.27 1834.21,176.23 1836.85,174.29 1839.48,172.44 1842.11,170.67 1844.74,168.98 1847.38,167.36 1850.01,165.81 1852.64,164.33 1855.27,162.91 1857.9,161.54 1860.54,160.22 1863.17,158.96 1865.8,157.74 1868.43,156.57 1871.07,155.44 1873.7,154.35 1876.33,153.3 1878.97,152.28 1881.6,151.3 1884.23,150.35 1886.86,149.43 1889.5,148.55 1892.13,147.69 1894.76,146.85 1897.39,146.04 1900.03,145.26 1902.66,144.5 1905.29,143.76 1907.92,143.04 1910.56,142.35 1913.19,141.67 1915.82,141.01 1918.45,140.37 1921.09,139.75 1923.72,139.14 1926.35,138.55 1928.98,137.98 1931.62,137.42 1934.25,136.87 1936.88,136.34 1939.51,135.82 1942.14,135.31 1944.78,134.81 1947.41,134.33 1950.04,133.86 1952.67,133.4 1955.31,132.95 1957.94,132.51 1960.57,132.08 1963.2,131.66 1965.84,131.25 1968.47,130.84 1971.1,130.45 1973.73,130.06 1976.37,129.69 1979,129.32" fill="none" stroke="#000" stroke-width="2.8"/>
<circle cx="1768.4" cy="302.1" r="3.9" fill="#000" stroke="#000" stroke-width="0.5"/>
<circle cx="1771.03" cy="289.34" r="3.9" fill="#000" stroke="#000" stroke-width="0.5"/>
<circle cx="1778.93" cy="254.96" r="3.9" fill="#000" stroke="#000" stroke-width="0.5"/>
<line x1="1821.05" y1="197.02" x2="1821.05" y2="184.26" stroke="#000" stroke-width="2"/>
<line x1="1816.05" y1="197.02" x2="1826.05" y2="197.02" stroke="#000" stroke-width="2"/>
<line x1="1816.05" y1="184.26" x2="1826.05" y2="184.26" stroke="#000" stroke-width="2"/>
<circle cx="1821.05" cy="190.64" r="3.9" fill="#000" stroke="#000" stroke-width="0.5"/>
<line x1="1873.7" y1="167.96" x2="1873.7" y2="147.4" stroke="#000" stroke-width="2"/>
<line x1="1868.7" y1="167.96" x2="1878.7" y2="167.96" stroke="#000" stroke-width="2"/>
<line x1="1868.7" y1="147.4" x2="1878.7" y2="147.4" stroke="#000" stroke-width="2"/>
<circle cx="1873.7" cy="157.68" r="3.9" fill="#000" stroke="#000" stroke-width="0.5"/>
<line x1="1979" y1="130.75" x2="1979" y2="120.12" stroke="#000" stroke-width="2"/>
<line x1="1974" y1="130.75" x2="1984" y2="130.75" stroke="#000" stroke-width="2"/>
<line x1="1974" y1="120.12" x2="1984" y2="120.12" stroke="#000" stroke-width="2"/>
<circle cx="1979" cy="125.43" r="3.9" fill="#000" stroke="#000" stroke-width="0.5"/>
<text transform="translate(709.6,289.9) rotate(-90)" x="-1.74" y="0" font-size="22" textLength="181.61" lengthAdjust="spacingAndGlyphs">Normalized binding</text>
<text x="1226.05" y="360.6" font-size="27.9" textLength="301.96" lengthAdjust="spacingAndGlyphs">AF647 EpCAM Conc (µM)</text>
<text x="8.9" y="453.4" font-size="38" font-weight="bold" textLength="22.8" lengthAdjust="spacingAndGlyphs">c</text>
<text x="185.4" y="476.6" font-size="31.5" textLength="72.74" lengthAdjust="spacingAndGlyphs">293T</text>
<text x="174.08" y="779.6" font-size="30" textLength="102.94" lengthAdjust="spacingAndGlyphs">Time (h)</text>
<line x1="86.4" y1="489.6" x2="86.4" y2="745" stroke="#000" stroke-width="2.2"/>
<line x1="75.9" y1="702.3" x2="363.3" y2="702.3" stroke="#000" stroke-width="2.2"/>
<line x1="75.9" y1="702.3" x2="86.4" y2="702.3" stroke="#000" stroke-width="2.2"/>
<text x="56.77" y="711.9" font-size="30" textLength="15.52" lengthAdjust="spacingAndGlyphs">0</text>
<line x1="75.9" y1="649.38" x2="86.4" y2="649.38" stroke="#000" stroke-width="2.2"/>
<text x="41.34" y="658.98" font-size="30" textLength="31.03" lengthAdjust="spacingAndGlyphs">25</text>
<line x1="75.9" y1="596.45" x2="86.4" y2="596.45" stroke="#000" stroke-width="2.2"/>
<text x="41.26" y="606.05" font-size="30" textLength="31.03" lengthAdjust="spacingAndGlyphs">50</text>
<line x1="75.9" y1="543.52" x2="86.4" y2="543.52" stroke="#000" stroke-width="2.2"/>
<text x="41.34" y="553.12" font-size="30" textLength="31.03" lengthAdjust="spacingAndGlyphs">75</text>
<line x1="75.9" y1="490.6" x2="86.4" y2="490.6" stroke="#000" stroke-width="2.2"/>
<text x="25.74" y="500.2" font-size="30" textLength="46.55" lengthAdjust="spacingAndGlyphs">100</text>
<line x1="130.98" y1="702.3" x2="130.98" y2="712.8" stroke="#000" stroke-width="2.2"/>
<text x="123.23" y="742.3" font-size="30" textLength="15.52" lengthAdjust="spacingAndGlyphs">8</text>
<line x1="175.57" y1="702.3" x2="175.57" y2="712.8" stroke="#000" stroke-width="2.2"/>
<text x="159.6" y="742.3" font-size="30" textLength="31.03" lengthAdjust="spacingAndGlyphs">16</text>
<line x1="220.15" y1="702.3" x2="220.15" y2="712.8" stroke="#000" stroke-width="2.2"/>
<text x="204.34" y="742.3" font-size="30" textLength="31.03" lengthAdjust="spacingAndGlyphs">24</text>
<line x1="264.74" y1="702.3" x2="264.74" y2="712.8" stroke="#000" stroke-width="2.2"/>
<text x="249.39" y="742.3" font-size="30" textLength="31.03" lengthAdjust="spacingAndGlyphs">32</text>
<line x1="309.32" y1="702.3" x2="309.32" y2="712.8" stroke="#000" stroke-width="2.2"/>
<text x="294.03" y="742.3" font-size="30" textLength="31.03" lengthAdjust="spacingAndGlyphs">40</text>
<line x1="353.9" y1="702.3" x2="353.9" y2="712.8" stroke="#000" stroke-width="2.2"/>
<text x="338.67" y="742.3" font-size="30" textLength="31.03" lengthAdjust="spacingAndGlyphs">48</text>
<polyline points="91.97,705.26 164.42,709.92 220.15,705.69 353.9,713.52" fill="none" stroke="#646464" stroke-width="2.2"/>
<line x1="91.97" y1="689.39" x2="91.97" y2="721.14" stroke="#646464" stroke-width="2"/>
<line x1="86.97" y1="689.39" x2="96.97" y2="689.39" stroke="#646464" stroke-width="2"/>
<line x1="86.97" y1="721.14" x2="96.97" y2="721.14" stroke="#646464" stroke-width="2"/>
<line x1="164.42" y1="703.57" x2="164.42" y2="716.27" stroke="#646464" stroke-width="2"/>
<line x1="159.42" y1="703.57" x2="169.42" y2="703.57" stroke="#646464" stroke-width="2"/>
<line x1="159.42" y1="716.27" x2="169.42" y2="716.27" stroke="#646464" stroke-width="2"/>
<line x1="220.15" y1="697.22" x2="220.15" y2="714.16" stroke="#646464" stroke-width="2"/>
<line x1="215.15" y1="697.22" x2="225.15" y2="697.22" stroke="#646464" stroke-width="2"/>
<line x1="215.15" y1="714.16" x2="225.15" y2="714.16" stroke="#646464" stroke-width="2"/>
<line x1="353.9" y1="700.82" x2="353.9" y2="726.22" stroke="#646464" stroke-width="2"/>
<line x1="348.9" y1="700.82" x2="358.9" y2="700.82" stroke="#646464" stroke-width="2"/>
<line x1="348.9" y1="726.22" x2="358.9" y2="726.22" stroke="#646464" stroke-width="2"/>
<circle cx="91.97" cy="705.26" r="4.8" fill="none" stroke="#646464" stroke-width="2"/>
<circle cx="164.42" cy="709.92" r="4.8" fill="none" stroke="#646464" stroke-width="2"/>
<circle cx="220.15" cy="705.69" r="4.8" fill="none" stroke="#646464" stroke-width="2"/>
<circle cx="353.9" cy="713.52" r="4.8" fill="none" stroke="#646464" stroke-width="2"/>
<polyline points="91.97,715.85 164.42,715.85 220.15,714.37 353.9,726.65" fill="none" stroke="#b4190f" stroke-width="2.2"/>
<line x1="91.97" y1="709.5" x2="91.97" y2="722.2" stroke="#b4190f" stroke-width="2"/>
<line x1="86.97" y1="709.5" x2="96.97" y2="709.5" stroke="#b4190f" stroke-width="2"/>
<line x1="86.97" y1="722.2" x2="96.97" y2="722.2" stroke="#b4190f" stroke-width="2"/>
<line x1="164.42" y1="709.5" x2="164.42" y2="722.2" stroke="#b4190f" stroke-width="2"/>
<line x1="159.42" y1="709.5" x2="169.42" y2="709.5" stroke="#b4190f" stroke-width="2"/>
<line x1="159.42" y1="722.2" x2="169.42" y2="722.2" stroke="#b4190f" stroke-width="2"/>
<line x1="220.15" y1="710.13" x2="220.15" y2="718.6" stroke="#b4190f" stroke-width="2"/>
<line x1="215.15" y1="710.13" x2="225.15" y2="710.13" stroke="#b4190f" stroke-width="2"/>
<line x1="215.15" y1="718.6" x2="225.15" y2="718.6" stroke="#b4190f" stroke-width="2"/>
<line x1="353.9" y1="720.29" x2="353.9" y2="733" stroke="#b4190f" stroke-width="2"/>
<line x1="348.9" y1="720.29" x2="358.9" y2="720.29" stroke="#b4190f" stroke-width="2"/>
<line x1="348.9" y1="733" x2="358.9" y2="733" stroke="#b4190f" stroke-width="2"/>
<rect x="87.17" y="711.05" width="9.6" height="9.6" fill="none" stroke="#b4190f" stroke-width="2"/>
<rect x="159.62" y="711.05" width="9.6" height="9.6" fill="none" stroke="#b4190f" stroke-width="2"/>
<rect x="215.35" y="709.57" width="9.6" height="9.6" fill="none" stroke="#b4190f" stroke-width="2"/>
<rect x="349.1" y="721.85" width="9.6" height="9.6" fill="none" stroke="#b4190f" stroke-width="2"/>
<polyline points="91.97,717.33 164.42,713.94 220.15,715.85 353.9,733" fill="none" stroke="#1e3cff" stroke-width="2.2"/>
<line x1="91.97" y1="704.63" x2="91.97" y2="730.03" stroke="#1e3cff" stroke-width="2"/>
<line x1="86.97" y1="704.63" x2="96.97" y2="704.63" stroke="#1e3cff" stroke-width="2"/>
<line x1="86.97" y1="730.03" x2="96.97" y2="730.03" stroke="#1e3cff" stroke-width="2"/>
<line x1="164.42" y1="707.59" x2="164.42" y2="720.29" stroke="#1e3cff" stroke-width="2"/>
<line x1="159.42" y1="707.59" x2="169.42" y2="707.59" stroke="#1e3cff" stroke-width="2"/>
<line x1="159.42" y1="720.29" x2="169.42" y2="720.29" stroke="#1e3cff" stroke-width="2"/>
<line x1="220.15" y1="711.61" x2="220.15" y2="720.08" stroke="#1e3cff" stroke-width="2"/>
<line x1="215.15" y1="711.61" x2="225.15" y2="711.61" stroke="#1e3cff" stroke-width="2"/>
<line x1="215.15" y1="720.08" x2="225.15" y2="720.08" stroke="#1e3cff" stroke-width="2"/>
<line x1="353.9" y1="726.65" x2="353.9" y2="739.35" stroke="#1e3cff" stroke-width="2"/>
<line x1="348.9" y1="726.65" x2="358.9" y2="726.65" stroke="#1e3cff" stroke-width="2"/>
<line x1="348.9" y1="739.35" x2="358.9" y2="739.35" stroke="#1e3cff" stroke-width="2"/>
<polygon points="91.97,712.29 96.77,721.17 87.17,721.17" fill="none" stroke="#1e3cff" stroke-width="2"/>
<polygon points="164.42,708.9 169.22,717.78 159.62,717.78" fill="none" stroke="#1e3cff" stroke-width="2"/>
<polygon points="220.15,710.81 224.95,719.69 215.35,719.69" fill="none" stroke="#1e3cff" stroke-width="2"/>
<polygon points="353.9,727.96 358.7,736.84 349.1,736.84" fill="none" stroke="#1e3cff" stroke-width="2"/>
<polyline points="91.97,708.65 164.42,708.02 220.15,709.92 353.9,715.85" fill="none" stroke="#965000" stroke-width="2.2"/>
<line x1="91.97" y1="704.42" x2="91.97" y2="712.88" stroke="#965000" stroke-width="2"/>
<line x1="86.97" y1="704.42" x2="96.97" y2="704.42" stroke="#965000" stroke-width="2"/>
<line x1="86.97" y1="712.88" x2="96.97" y2="712.88" stroke="#965000" stroke-width="2"/>
<line x1="164.42" y1="703.78" x2="164.42" y2="712.25" stroke="#965000" stroke-width="2"/>
<line x1="159.42" y1="703.78" x2="169.42" y2="703.78" stroke="#965000" stroke-width="2"/>
<line x1="159.42" y1="712.25" x2="169.42" y2="712.25" stroke="#965000" stroke-width="2"/>
<line x1="220.15" y1="705.69" x2="220.15" y2="714.16" stroke="#965000" stroke-width="2"/>
<line x1="215.15" y1="705.69" x2="225.15" y2="705.69" stroke="#965000" stroke-width="2"/>
<line x1="215.15" y1="714.16" x2="225.15" y2="714.16" stroke="#965000" stroke-width="2"/>
<line x1="353.9" y1="709.5" x2="353.9" y2="722.2" stroke="#965000" stroke-width="2"/>
<line x1="348.9" y1="709.5" x2="358.9" y2="709.5" stroke="#965000" stroke-width="2"/>
<line x1="348.9" y1="722.2" x2="358.9" y2="722.2" stroke="#965000" stroke-width="2"/>
<polygon points="91.97,713.69 96.77,704.81 87.17,704.81" fill="none" stroke="#965000" stroke-width="2"/>
<polygon points="164.42,713.06 169.22,704.18 159.62,704.18" fill="none" stroke="#965000" stroke-width="2"/>
<polygon points="220.15,714.96 224.95,706.08 215.35,706.08" fill="none" stroke="#965000" stroke-width="2"/>
<polygon points="353.9,720.89 358.7,712.01 349.1,712.01" fill="none" stroke="#965000" stroke-width="2"/>
<polyline points="91.97,707.17 164.42,711.19 220.15,710.34 353.9,718.81" fill="none" stroke="#008c50" stroke-width="2.2"/>
<line x1="91.97" y1="702.94" x2="91.97" y2="711.4" stroke="#008c50" stroke-width="2"/>
<line x1="86.97" y1="702.94" x2="96.97" y2="702.94" stroke="#008c50" stroke-width="2"/>
<line x1="86.97" y1="711.4" x2="96.97" y2="711.4" stroke="#008c50" stroke-width="2"/>
<line x1="164.42" y1="706.96" x2="164.42" y2="715.43" stroke="#008c50" stroke-width="2"/>
<line x1="159.42" y1="706.96" x2="169.42" y2="706.96" stroke="#008c50" stroke-width="2"/>
<line x1="159.42" y1="715.43" x2="169.42" y2="715.43" stroke="#008c50" stroke-width="2"/>
<line x1="220.15" y1="706.11" x2="220.15" y2="714.58" stroke="#008c50" stroke-width="2"/>
<line x1="215.15" y1="706.11" x2="225.15" y2="706.11" stroke="#008c50" stroke-width="2"/>
<line x1="215.15" y1="714.58" x2="225.15" y2="714.58" stroke="#008c50" stroke-width="2"/>
<line x1="353.9" y1="714.58" x2="353.9" y2="723.05" stroke="#008c50" stroke-width="2"/>
<line x1="348.9" y1="714.58" x2="358.9" y2="714.58" stroke="#008c50" stroke-width="2"/>
<line x1="348.9" y1="723.05" x2="358.9" y2="723.05" stroke="#008c50" stroke-width="2"/>
<polygon points="91.97,702.13 96.53,707.17 91.97,712.21 87.41,707.17" fill="none" stroke="#008c50" stroke-width="2"/>
<polygon points="164.42,706.15 168.98,711.19 164.42,716.23 159.86,711.19" fill="none" stroke="#008c50" stroke-width="2"/>
<polygon points="220.15,705.3 224.71,710.34 220.15,715.38 215.59,710.34" fill="none" stroke="#008c50" stroke-width="2"/>
<polygon points="353.9,713.77 358.46,718.81 353.9,723.85 349.34,718.81" fill="none" stroke="#008c50" stroke-width="2"/>
<polyline points="91.97,712.88 164.42,710.77 220.15,711.83 353.9,721.99" fill="none" stroke="#be46e6" stroke-width="2.2"/>
<line x1="91.97" y1="708.65" x2="91.97" y2="717.12" stroke="#be46e6" stroke-width="2"/>
<line x1="86.97" y1="708.65" x2="96.97" y2="708.65" stroke="#be46e6" stroke-width="2"/>
<line x1="86.97" y1="717.12" x2="96.97" y2="717.12" stroke="#be46e6" stroke-width="2"/>
<line x1="164.42" y1="706.53" x2="164.42" y2="715" stroke="#be46e6" stroke-width="2"/>
<line x1="159.42" y1="706.53" x2="169.42" y2="706.53" stroke="#be46e6" stroke-width="2"/>
<line x1="159.42" y1="715" x2="169.42" y2="715" stroke="#be46e6" stroke-width="2"/>
<line x1="220.15" y1="707.59" x2="220.15" y2="716.06" stroke="#be46e6" stroke-width="2"/>
<line x1="215.15" y1="707.59" x2="225.15" y2="707.59" stroke="#be46e6" stroke-width="2"/>
<line x1="215.15" y1="716.06" x2="225.15" y2="716.06" stroke="#be46e6" stroke-width="2"/>
<line x1="353.9" y1="717.75" x2="353.9" y2="726.22" stroke="#be46e6" stroke-width="2"/>
<line x1="348.9" y1="717.75" x2="358.9" y2="717.75" stroke="#be46e6" stroke-width="2"/>
<line x1="348.9" y1="726.22" x2="358.9" y2="726.22" stroke="#be46e6" stroke-width="2"/>
<polygon points="87.65,712.88 89.72,709.24 94.23,709.24 96.29,712.88 94.23,716.53 89.72,716.53" fill="none" stroke="#be46e6" stroke-width="2"/>
<polygon points="160.1,710.77 162.17,707.12 166.68,707.12 168.74,710.77 166.68,714.42 162.17,714.42" fill="none" stroke="#be46e6" stroke-width="2"/>
<polygon points="215.83,711.83 217.9,708.18 222.41,708.18 224.47,711.83 222.41,715.47 217.9,715.47" fill="none" stroke="#be46e6" stroke-width="2"/>
<polygon points="349.58,721.99 351.65,718.34 356.16,718.34 358.22,721.99 356.16,725.64 351.65,725.64" fill="none" stroke="#be46e6" stroke-width="2"/>
<text x="458.44" y="476.6" font-size="31.5" textLength="188.68" lengthAdjust="spacingAndGlyphs">MDA-MB-231</text>
<text x="485.88" y="778.2" font-size="30" textLength="102.42" lengthAdjust="spacingAndGlyphs">Time (h)</text>
<line x1="401.1" y1="489.1" x2="401.1" y2="745" stroke="#000" stroke-width="2.2"/>
<line x1="390.6" y1="701.8" x2="672.3" y2="701.8" stroke="#000" stroke-width="2.2"/>
<line x1="390.6" y1="701.8" x2="401.1" y2="701.8" stroke="#000" stroke-width="2.2"/>
<line x1="390.6" y1="648.88" x2="401.1" y2="648.88" stroke="#000" stroke-width="2.2"/>
<line x1="390.6" y1="595.95" x2="401.1" y2="595.95" stroke="#000" stroke-width="2.2"/>
<line x1="390.6" y1="543.02" x2="401.1" y2="543.02" stroke="#000" stroke-width="2.2"/>
<line x1="390.6" y1="490.1" x2="401.1" y2="490.1" stroke="#000" stroke-width="2.2"/>
<line x1="444.42" y1="701.8" x2="444.42" y2="712.3" stroke="#000" stroke-width="2.2"/>
<text x="436.66" y="742.3" font-size="30" textLength="15.52" lengthAdjust="spacingAndGlyphs">8</text>
<line x1="487.74" y1="701.8" x2="487.74" y2="712.3" stroke="#000" stroke-width="2.2"/>
<text x="471.77" y="742.3" font-size="30" textLength="31.03" lengthAdjust="spacingAndGlyphs">16</text>
<line x1="531.06" y1="701.8" x2="531.06" y2="712.3" stroke="#000" stroke-width="2.2"/>
<text x="515.25" y="742.3" font-size="30" textLength="31.03" lengthAdjust="spacingAndGlyphs">24</text>
<line x1="574.38" y1="701.8" x2="574.38" y2="712.3" stroke="#000" stroke-width="2.2"/>
<text x="559.03" y="742.3" font-size="30" textLength="31.03" lengthAdjust="spacingAndGlyphs">32</text>
<line x1="617.7" y1="701.8" x2="617.7" y2="712.3" stroke="#000" stroke-width="2.2"/>
<text x="602.41" y="742.3" font-size="30" textLength="31.03" lengthAdjust="spacingAndGlyphs">40</text>
<line x1="661.02" y1="701.8" x2="661.02" y2="712.3" stroke="#000" stroke-width="2.2"/>
<text x="645.79" y="742.3" font-size="30" textLength="31.03" lengthAdjust="spacingAndGlyphs">48</text>
<polyline points="406.52,715.14 476.91,711.11 531.06,697.57 661.02,699.68" fill="none" stroke="#646464" stroke-width="2.2"/>
<line x1="406.52" y1="708.79" x2="406.52" y2="721.49" stroke="#646464" stroke-width="2"/>
<line x1="401.52" y1="708.79" x2="411.52" y2="708.79" stroke="#646464" stroke-width="2"/>
<line x1="401.52" y1="721.49" x2="411.52" y2="721.49" stroke="#646464" stroke-width="2"/>
<line x1="476.91" y1="696.3" x2="476.91" y2="725.93" stroke="#646464" stroke-width="2"/>
<line x1="471.91" y1="696.3" x2="481.91" y2="696.3" stroke="#646464" stroke-width="2"/>
<line x1="471.91" y1="725.93" x2="481.91" y2="725.93" stroke="#646464" stroke-width="2"/>
<line x1="531.06" y1="682.75" x2="531.06" y2="712.38" stroke="#646464" stroke-width="2"/>
<line x1="526.06" y1="682.75" x2="536.06" y2="682.75" stroke="#646464" stroke-width="2"/>
<line x1="526.06" y1="712.38" x2="536.06" y2="712.38" stroke="#646464" stroke-width="2"/>
<line x1="661.02" y1="691.22" x2="661.02" y2="708.15" stroke="#646464" stroke-width="2"/>
<line x1="656.02" y1="691.22" x2="666.02" y2="691.22" stroke="#646464" stroke-width="2"/>
<line x1="656.02" y1="708.15" x2="666.02" y2="708.15" stroke="#646464" stroke-width="2"/>
<circle cx="406.52" cy="715.14" r="4.8" fill="none" stroke="#646464" stroke-width="2"/>
<circle cx="476.91" cy="711.11" r="4.8" fill="none" stroke="#646464" stroke-width="2"/>
<circle cx="531.06" cy="697.57" r="4.8" fill="none" stroke="#646464" stroke-width="2"/>
<circle cx="661.02" cy="699.68" r="4.8" fill="none" stroke="#646464" stroke-width="2"/>
<polyline points="406.52,708.15 476.91,696.51 531.06,700.74 661.02,700.74" fill="none" stroke="#008c50" stroke-width="2.2"/>
<line x1="406.52" y1="703.92" x2="406.52" y2="712.38" stroke="#008c50" stroke-width="2"/>
<line x1="401.52" y1="703.92" x2="411.52" y2="703.92" stroke="#008c50" stroke-width="2"/>
<line x1="401.52" y1="712.38" x2="411.52" y2="712.38" stroke="#008c50" stroke-width="2"/>
<line x1="476.91" y1="692.27" x2="476.91" y2="700.74" stroke="#008c50" stroke-width="2"/>
<line x1="471.91" y1="692.27" x2="481.91" y2="692.27" stroke="#008c50" stroke-width="2"/>
<line x1="471.91" y1="700.74" x2="481.91" y2="700.74" stroke="#008c50" stroke-width="2"/>
<line x1="531.06" y1="696.51" x2="531.06" y2="704.98" stroke="#008c50" stroke-width="2"/>
<line x1="526.06" y1="696.51" x2="536.06" y2="696.51" stroke="#008c50" stroke-width="2"/>
<line x1="526.06" y1="704.98" x2="536.06" y2="704.98" stroke="#008c50" stroke-width="2"/>
<line x1="661.02" y1="696.51" x2="661.02" y2="704.98" stroke="#008c50" stroke-width="2"/>
<line x1="656.02" y1="696.51" x2="666.02" y2="696.51" stroke="#008c50" stroke-width="2"/>
<line x1="656.02" y1="704.98" x2="666.02" y2="704.98" stroke="#008c50" stroke-width="2"/>
<polygon points="406.52,703.11 411.08,708.15 406.52,713.19 401.96,708.15" fill="none" stroke="#008c50" stroke-width="2"/>
<polygon points="476.91,691.47 481.47,696.51 476.91,701.55 472.35,696.51" fill="none" stroke="#008c50" stroke-width="2"/>
<polygon points="531.06,695.7 535.62,700.74 531.06,705.78 526.5,700.74" fill="none" stroke="#008c50" stroke-width="2"/>
<polygon points="661.02,695.7 665.58,700.74 661.02,705.78 656.46,700.74" fill="none" stroke="#008c50" stroke-width="2"/>
<polyline points="406.52,704.98 476.91,696.51 531.06,685.92 661.02,684.65" fill="none" stroke="#965000" stroke-width="2.2"/>
<line x1="406.52" y1="698.62" x2="406.52" y2="711.33" stroke="#965000" stroke-width="2"/>
<line x1="401.52" y1="698.62" x2="411.52" y2="698.62" stroke="#965000" stroke-width="2"/>
<line x1="401.52" y1="711.33" x2="411.52" y2="711.33" stroke="#965000" stroke-width="2"/>
<line x1="476.91" y1="690.16" x2="476.91" y2="702.86" stroke="#965000" stroke-width="2"/>
<line x1="471.91" y1="690.16" x2="481.91" y2="690.16" stroke="#965000" stroke-width="2"/>
<line x1="471.91" y1="702.86" x2="481.91" y2="702.86" stroke="#965000" stroke-width="2"/>
<line x1="531.06" y1="681.69" x2="531.06" y2="690.16" stroke="#965000" stroke-width="2"/>
<line x1="526.06" y1="681.69" x2="536.06" y2="681.69" stroke="#965000" stroke-width="2"/>
<line x1="526.06" y1="690.16" x2="536.06" y2="690.16" stroke="#965000" stroke-width="2"/>
<line x1="661.02" y1="680.42" x2="661.02" y2="688.89" stroke="#965000" stroke-width="2"/>
<line x1="656.02" y1="680.42" x2="666.02" y2="680.42" stroke="#965000" stroke-width="2"/>
<line x1="656.02" y1="688.89" x2="666.02" y2="688.89" stroke="#965000" stroke-width="2"/>
<polygon points="406.52,710.02 411.32,701.14 401.72,701.14" fill="none" stroke="#965000" stroke-width="2"/>
<polygon points="476.91,701.55 481.71,692.67 472.11,692.67" fill="none" stroke="#965000" stroke-width="2"/>
<polygon points="531.06,690.96 535.86,682.08 526.26,682.08" fill="none" stroke="#965000" stroke-width="2"/>
<polygon points="661.02,689.69 665.82,680.81 656.22,680.81" fill="none" stroke="#965000" stroke-width="2"/>
<polyline points="406.52,715.14 476.91,696.72 531.06,688.89 661.02,690.37" fill="none" stroke="#1e3cff" stroke-width="2.2"/>
<line x1="406.52" y1="710.9" x2="406.52" y2="719.37" stroke="#1e3cff" stroke-width="2"/>
<line x1="401.52" y1="710.9" x2="411.52" y2="710.9" stroke="#1e3cff" stroke-width="2"/>
<line x1="401.52" y1="719.37" x2="411.52" y2="719.37" stroke="#1e3cff" stroke-width="2"/>
<line x1="476.91" y1="688.25" x2="476.91" y2="705.19" stroke="#1e3cff" stroke-width="2"/>
<line x1="471.91" y1="688.25" x2="481.91" y2="688.25" stroke="#1e3cff" stroke-width="2"/>
<line x1="471.91" y1="705.19" x2="481.91" y2="705.19" stroke="#1e3cff" stroke-width="2"/>
<line x1="531.06" y1="678.3" x2="531.06" y2="699.47" stroke="#1e3cff" stroke-width="2"/>
<line x1="526.06" y1="678.3" x2="536.06" y2="678.3" stroke="#1e3cff" stroke-width="2"/>
<line x1="526.06" y1="699.47" x2="536.06" y2="699.47" stroke="#1e3cff" stroke-width="2"/>
<line x1="661.02" y1="675.55" x2="661.02" y2="705.19" stroke="#1e3cff" stroke-width="2"/>
<line x1="656.02" y1="675.55" x2="666.02" y2="675.55" stroke="#1e3cff" stroke-width="2"/>
<line x1="656.02" y1="705.19" x2="666.02" y2="705.19" stroke="#1e3cff" stroke-width="2"/>
<polygon points="406.52,710.1 411.32,718.98 401.72,718.98" fill="none" stroke="#1e3cff" stroke-width="2"/>
<polygon points="476.91,691.68 481.71,700.56 472.11,700.56" fill="none" stroke="#1e3cff" stroke-width="2"/>
<polygon points="531.06,683.85 535.86,692.73 526.26,692.73" fill="none" stroke="#1e3cff" stroke-width="2"/>
<polygon points="661.02,685.33 665.82,694.21 656.22,694.21" fill="none" stroke="#1e3cff" stroke-width="2"/>
<polyline points="406.52,712.38 476.91,683.17 531.06,662.42 661.02,636.6" fill="none" stroke="#be46e6" stroke-width="2.2"/>
<line x1="406.52" y1="708.15" x2="406.52" y2="716.62" stroke="#be46e6" stroke-width="2"/>
<line x1="401.52" y1="708.15" x2="411.52" y2="708.15" stroke="#be46e6" stroke-width="2"/>
<line x1="401.52" y1="716.62" x2="411.52" y2="716.62" stroke="#be46e6" stroke-width="2"/>
<line x1="476.91" y1="674.7" x2="476.91" y2="691.64" stroke="#be46e6" stroke-width="2"/>
<line x1="471.91" y1="674.7" x2="481.91" y2="674.7" stroke="#be46e6" stroke-width="2"/>
<line x1="471.91" y1="691.64" x2="481.91" y2="691.64" stroke="#be46e6" stroke-width="2"/>
<line x1="531.06" y1="656.07" x2="531.06" y2="668.77" stroke="#be46e6" stroke-width="2"/>
<line x1="526.06" y1="656.07" x2="536.06" y2="656.07" stroke="#be46e6" stroke-width="2"/>
<line x1="526.06" y1="668.77" x2="536.06" y2="668.77" stroke="#be46e6" stroke-width="2"/>
<line x1="661.02" y1="624.95" x2="661.02" y2="648.24" stroke="#be46e6" stroke-width="2"/>
<line x1="656.02" y1="624.95" x2="666.02" y2="624.95" stroke="#be46e6" stroke-width="2"/>
<line x1="656.02" y1="648.24" x2="666.02" y2="648.24" stroke="#be46e6" stroke-width="2"/>
<polygon points="402.2,712.38 404.26,708.74 408.77,708.74 410.84,712.38 408.77,716.03 404.26,716.03" fill="none" stroke="#be46e6" stroke-width="2"/>
<polygon points="472.59,683.17 474.65,679.52 479.17,679.52 481.23,683.17 479.17,686.82 474.65,686.82" fill="none" stroke="#be46e6" stroke-width="2"/>
<polygon points="526.74,662.42 528.8,658.78 533.32,658.78 535.38,662.42 533.32,666.07 528.8,666.07" fill="none" stroke="#be46e6" stroke-width="2"/>
<polygon points="656.7,636.6 658.76,632.95 663.28,632.95 665.34,636.6 663.28,640.24 658.76,640.24" fill="none" stroke="#be46e6" stroke-width="2"/>
<polyline points="406.52,727.63 476.91,680.63 531.06,629.4 661.02,555.94" fill="none" stroke="#b4190f" stroke-width="2.2"/>
<line x1="406.52" y1="723.39" x2="406.52" y2="731.86" stroke="#b4190f" stroke-width="2"/>
<line x1="401.52" y1="723.39" x2="411.52" y2="723.39" stroke="#b4190f" stroke-width="2"/>
<line x1="401.52" y1="731.86" x2="411.52" y2="731.86" stroke="#b4190f" stroke-width="2"/>
<line x1="476.91" y1="676.4" x2="476.91" y2="684.86" stroke="#b4190f" stroke-width="2"/>
<line x1="471.91" y1="676.4" x2="481.91" y2="676.4" stroke="#b4190f" stroke-width="2"/>
<line x1="471.91" y1="684.86" x2="481.91" y2="684.86" stroke="#b4190f" stroke-width="2"/>
<rect x="401.72" y="722.83" width="9.6" height="9.6" fill="none" stroke="#b4190f" stroke-width="2"/>
<rect x="472.11" y="675.83" width="9.6" height="9.6" fill="none" stroke="#b4190f" stroke-width="2"/>
<rect x="526.26" y="624.6" width="9.6" height="9.6" fill="none" stroke="#b4190f" stroke-width="2"/>
<rect x="656.22" y="551.14" width="9.6" height="9.6" fill="none" stroke="#b4190f" stroke-width="2"/>
<text x="790.08" y="476.6" font-size="31.5" textLength="128.99" lengthAdjust="spacingAndGlyphs">SNU-638</text>
<text x="797.88" y="778.2" font-size="30" textLength="102.42" lengthAdjust="spacingAndGlyphs">Time (h)</text>
<line x1="713" y1="489.5" x2="713" y2="745" stroke="#000" stroke-width="2.2"/>
<line x1="702.5" y1="702.8" x2="985" y2="702.8" stroke="#000" stroke-width="2.2"/>
<line x1="702.5" y1="702.8" x2="713" y2="702.8" stroke="#000" stroke-width="2.2"/>
<line x1="702.5" y1="649.72" x2="713" y2="649.72" stroke="#000" stroke-width="2.2"/>
<line x1="702.5" y1="596.65" x2="713" y2="596.65" stroke="#000" stroke-width="2.2"/>
<line x1="702.5" y1="543.58" x2="713" y2="543.58" stroke="#000" stroke-width="2.2"/>
<line x1="702.5" y1="490.5" x2="713" y2="490.5" stroke="#000" stroke-width="2.2"/>
<line x1="756.52" y1="702.8" x2="756.52" y2="713.3" stroke="#000" stroke-width="2.2"/>
<text x="748.76" y="742.3" font-size="30" textLength="15.52" lengthAdjust="spacingAndGlyphs">8</text>
<line x1="800.04" y1="702.8" x2="800.04" y2="713.3" stroke="#000" stroke-width="2.2"/>
<text x="784.07" y="742.3" font-size="30" textLength="31.03" lengthAdjust="spacingAndGlyphs">16</text>
<line x1="843.56" y1="702.8" x2="843.56" y2="713.3" stroke="#000" stroke-width="2.2"/>
<text x="827.75" y="742.3" font-size="30" textLength="31.03" lengthAdjust="spacingAndGlyphs">24</text>
<line x1="887.08" y1="702.8" x2="887.08" y2="713.3" stroke="#000" stroke-width="2.2"/>
<text x="871.73" y="742.3" font-size="30" textLength="31.03" lengthAdjust="spacingAndGlyphs">32</text>
<line x1="930.6" y1="702.8" x2="930.6" y2="713.3" stroke="#000" stroke-width="2.2"/>
<text x="915.31" y="742.3" font-size="30" textLength="31.03" lengthAdjust="spacingAndGlyphs">40</text>
<line x1="974.12" y1="702.8" x2="974.12" y2="713.3" stroke="#000" stroke-width="2.2"/>
<text x="958.89" y="742.3" font-size="30" textLength="31.03" lengthAdjust="spacingAndGlyphs">48</text>
<polyline points="718.44,711.08 789.16,713.84 843.56,711.5 974.12,717.45" fill="none" stroke="#646464" stroke-width="2.2"/>
<line x1="718.44" y1="704.71" x2="718.44" y2="717.45" stroke="#646464" stroke-width="2"/>
<line x1="713.44" y1="704.71" x2="723.44" y2="704.71" stroke="#646464" stroke-width="2"/>
<line x1="713.44" y1="717.45" x2="723.44" y2="717.45" stroke="#646464" stroke-width="2"/>
<line x1="789.16" y1="707.47" x2="789.16" y2="720.21" stroke="#646464" stroke-width="2"/>
<line x1="784.16" y1="707.47" x2="794.16" y2="707.47" stroke="#646464" stroke-width="2"/>
<line x1="784.16" y1="720.21" x2="794.16" y2="720.21" stroke="#646464" stroke-width="2"/>
<line x1="843.56" y1="707.26" x2="843.56" y2="715.75" stroke="#646464" stroke-width="2"/>
<line x1="838.56" y1="707.26" x2="848.56" y2="707.26" stroke="#646464" stroke-width="2"/>
<line x1="838.56" y1="715.75" x2="848.56" y2="715.75" stroke="#646464" stroke-width="2"/>
<circle cx="718.44" cy="711.08" r="4.8" fill="none" stroke="#646464" stroke-width="2"/>
<circle cx="789.16" cy="713.84" r="4.8" fill="none" stroke="#646464" stroke-width="2"/>
<circle cx="843.56" cy="711.5" r="4.8" fill="none" stroke="#646464" stroke-width="2"/>
<circle cx="974.12" cy="717.45" r="4.8" fill="none" stroke="#646464" stroke-width="2"/>
<polyline points="718.44,704.92 789.16,612.57 843.56,559.71 974.12,518.31" fill="none" stroke="#008c50" stroke-width="2.2"/>
<line x1="718.44" y1="696.43" x2="718.44" y2="713.41" stroke="#008c50" stroke-width="2"/>
<line x1="713.44" y1="696.43" x2="723.44" y2="696.43" stroke="#008c50" stroke-width="2"/>
<line x1="713.44" y1="713.41" x2="723.44" y2="713.41" stroke="#008c50" stroke-width="2"/>
<line x1="789.16" y1="606.2" x2="789.16" y2="618.94" stroke="#008c50" stroke-width="2"/>
<line x1="784.16" y1="606.2" x2="794.16" y2="606.2" stroke="#008c50" stroke-width="2"/>
<line x1="784.16" y1="618.94" x2="794.16" y2="618.94" stroke="#008c50" stroke-width="2"/>
<line x1="843.56" y1="555.46" x2="843.56" y2="563.96" stroke="#008c50" stroke-width="2"/>
<line x1="838.56" y1="555.46" x2="848.56" y2="555.46" stroke="#008c50" stroke-width="2"/>
<line x1="838.56" y1="563.96" x2="848.56" y2="563.96" stroke="#008c50" stroke-width="2"/>
<polygon points="718.44,699.88 723,704.92 718.44,709.96 713.88,704.92" fill="none" stroke="#008c50" stroke-width="2"/>
<polygon points="789.16,607.53 793.72,612.57 789.16,617.61 784.6,612.57" fill="none" stroke="#008c50" stroke-width="2"/>
<polygon points="843.56,554.67 848.12,559.71 843.56,564.75 839,559.71" fill="none" stroke="#008c50" stroke-width="2"/>
<polygon points="974.12,513.27 978.68,518.31 974.12,523.35 969.56,518.31" fill="none" stroke="#008c50" stroke-width="2"/>
<polyline points="718.44,700.68 789.16,600.9 843.56,549.94 974.12,513.85" fill="none" stroke="#965000" stroke-width="2.2"/>
<line x1="718.44" y1="694.31" x2="718.44" y2="707.05" stroke="#965000" stroke-width="2"/>
<line x1="713.44" y1="694.31" x2="723.44" y2="694.31" stroke="#965000" stroke-width="2"/>
<line x1="713.44" y1="707.05" x2="723.44" y2="707.05" stroke="#965000" stroke-width="2"/>
<line x1="789.16" y1="596.65" x2="789.16" y2="605.14" stroke="#965000" stroke-width="2"/>
<line x1="784.16" y1="596.65" x2="794.16" y2="596.65" stroke="#965000" stroke-width="2"/>
<line x1="784.16" y1="605.14" x2="794.16" y2="605.14" stroke="#965000" stroke-width="2"/>
<line x1="843.56" y1="545.7" x2="843.56" y2="554.19" stroke="#965000" stroke-width="2"/>
<line x1="838.56" y1="545.7" x2="848.56" y2="545.7" stroke="#965000" stroke-width="2"/>
<line x1="838.56" y1="554.19" x2="848.56" y2="554.19" stroke="#965000" stroke-width="2"/>
<polygon points="718.44,705.72 723.24,696.84 713.64,696.84" fill="none" stroke="#965000" stroke-width="2"/>
<polygon points="789.16,605.94 793.96,597.06 784.36,597.06" fill="none" stroke="#965000" stroke-width="2"/>
<polygon points="843.56,554.98 848.36,546.1 838.76,546.1" fill="none" stroke="#965000" stroke-width="2"/>
<polygon points="974.12,518.89 978.92,510.01 969.32,510.01" fill="none" stroke="#965000" stroke-width="2"/>
<polyline points="718.44,694.31 789.16,605.14 843.56,551.43 974.12,514.91" fill="none" stroke="#1e3cff" stroke-width="2.2"/>
<line x1="718.44" y1="685.82" x2="718.44" y2="702.8" stroke="#1e3cff" stroke-width="2"/>
<line x1="713.44" y1="685.82" x2="723.44" y2="685.82" stroke="#1e3cff" stroke-width="2"/>
<line x1="713.44" y1="702.8" x2="723.44" y2="702.8" stroke="#1e3cff" stroke-width="2"/>
<line x1="789.16" y1="600.9" x2="789.16" y2="609.39" stroke="#1e3cff" stroke-width="2"/>
<line x1="784.16" y1="600.9" x2="794.16" y2="600.9" stroke="#1e3cff" stroke-width="2"/>
<line x1="784.16" y1="609.39" x2="794.16" y2="609.39" stroke="#1e3cff" stroke-width="2"/>
<line x1="843.56" y1="547.18" x2="843.56" y2="555.68" stroke="#1e3cff" stroke-width="2"/>
<line x1="838.56" y1="547.18" x2="848.56" y2="547.18" stroke="#1e3cff" stroke-width="2"/>
<line x1="838.56" y1="555.68" x2="848.56" y2="555.68" stroke="#1e3cff" stroke-width="2"/>
<polygon points="718.44,689.27 723.24,698.15 713.64,698.15" fill="none" stroke="#1e3cff" stroke-width="2"/>
<polygon points="789.16,600.1 793.96,608.98 784.36,608.98" fill="none" stroke="#1e3cff" stroke-width="2"/>
<polygon points="843.56,546.39 848.36,555.27 838.76,555.27" fill="none" stroke="#1e3cff" stroke-width="2"/>
<polygon points="974.12,509.87 978.92,518.75 969.32,518.75" fill="none" stroke="#1e3cff" stroke-width="2"/>
<polyline points="718.44,698.55 789.16,599.2 843.56,549.31 974.12,511.94" fill="none" stroke="#b4190f" stroke-width="2.2"/>
<line x1="718.44" y1="692.18" x2="718.44" y2="704.92" stroke="#b4190f" stroke-width="2"/>
<line x1="713.44" y1="692.18" x2="723.44" y2="692.18" stroke="#b4190f" stroke-width="2"/>
<line x1="713.44" y1="704.92" x2="723.44" y2="704.92" stroke="#b4190f" stroke-width="2"/>
<line x1="789.16" y1="594.95" x2="789.16" y2="603.44" stroke="#b4190f" stroke-width="2"/>
<line x1="784.16" y1="594.95" x2="794.16" y2="594.95" stroke="#b4190f" stroke-width="2"/>
<line x1="784.16" y1="603.44" x2="794.16" y2="603.44" stroke="#b4190f" stroke-width="2"/>
<line x1="843.56" y1="545.06" x2="843.56" y2="553.55" stroke="#b4190f" stroke-width="2"/>
<line x1="838.56" y1="545.06" x2="848.56" y2="545.06" stroke="#b4190f" stroke-width="2"/>
<line x1="838.56" y1="553.55" x2="848.56" y2="553.55" stroke="#b4190f" stroke-width="2"/>
<rect x="713.64" y="693.75" width="9.6" height="9.6" fill="none" stroke="#b4190f" stroke-width="2"/>
<rect x="784.36" y="594.4" width="9.6" height="9.6" fill="none" stroke="#b4190f" stroke-width="2"/>
<rect x="838.76" y="544.51" width="9.6" height="9.6" fill="none" stroke="#b4190f" stroke-width="2"/>
<rect x="969.32" y="507.14" width="9.6" height="9.6" fill="none" stroke="#b4190f" stroke-width="2"/>
<polyline points="718.44,700.68 789.16,588.79 843.56,537.21 974.12,501.54" fill="none" stroke="#be46e6" stroke-width="2.2"/>
<line x1="718.44" y1="696.43" x2="718.44" y2="704.92" stroke="#be46e6" stroke-width="2"/>
<line x1="713.44" y1="696.43" x2="723.44" y2="696.43" stroke="#be46e6" stroke-width="2"/>
<line x1="713.44" y1="704.92" x2="723.44" y2="704.92" stroke="#be46e6" stroke-width="2"/>
<line x1="789.16" y1="584.55" x2="789.16" y2="593.04" stroke="#be46e6" stroke-width="2"/>
<line x1="784.16" y1="584.55" x2="794.16" y2="584.55" stroke="#be46e6" stroke-width="2"/>
<line x1="784.16" y1="593.04" x2="794.16" y2="593.04" stroke="#be46e6" stroke-width="2"/>
<polygon points="714.12,700.68 716.18,697.03 720.7,697.03 722.76,700.68 720.7,704.32 716.18,704.32" fill="none" stroke="#be46e6" stroke-width="2"/>
<polygon points="784.84,588.79 786.9,585.15 791.42,585.15 793.48,588.79 791.42,592.44 786.9,592.44" fill="none" stroke="#be46e6" stroke-width="2"/>
<polygon points="839.24,537.21 841.3,533.56 845.82,533.56 847.88,537.21 845.82,540.85 841.3,540.85" fill="none" stroke="#be46e6" stroke-width="2"/>
<polygon points="969.8,501.54 971.86,497.89 976.38,497.89 978.44,501.54 976.38,505.19 971.86,505.19" fill="none" stroke="#be46e6" stroke-width="2"/>
<text x="1120.14" y="476.6" font-size="31.5" textLength="86.84" lengthAdjust="spacingAndGlyphs">HT-29</text>
<text x="1111.99" y="776.1" font-size="30" textLength="101.4" lengthAdjust="spacingAndGlyphs">Time (h)</text>
<line x1="1028.7" y1="494.2" x2="1028.7" y2="745" stroke="#000" stroke-width="2.2"/>
<line x1="1018.2" y1="702.8" x2="1297.4" y2="702.8" stroke="#000" stroke-width="2.2"/>
<line x1="1018.2" y1="702.8" x2="1028.7" y2="702.8" stroke="#000" stroke-width="2.2"/>
<line x1="1018.2" y1="650.9" x2="1028.7" y2="650.9" stroke="#000" stroke-width="2.2"/>
<line x1="1018.2" y1="599" x2="1028.7" y2="599" stroke="#000" stroke-width="2.2"/>
<line x1="1018.2" y1="547.1" x2="1028.7" y2="547.1" stroke="#000" stroke-width="2.2"/>
<line x1="1018.2" y1="495.2" x2="1028.7" y2="495.2" stroke="#000" stroke-width="2.2"/>
<line x1="1071.72" y1="702.8" x2="1071.72" y2="713.3" stroke="#000" stroke-width="2.2"/>
<text x="1063.96" y="742.3" font-size="30" textLength="15.52" lengthAdjust="spacingAndGlyphs">8</text>
<line x1="1114.73" y1="702.8" x2="1114.73" y2="713.3" stroke="#000" stroke-width="2.2"/>
<text x="1098.77" y="742.3" font-size="30" textLength="31.03" lengthAdjust="spacingAndGlyphs">16</text>
<line x1="1157.75" y1="702.8" x2="1157.75" y2="713.3" stroke="#000" stroke-width="2.2"/>
<text x="1141.94" y="742.3" font-size="30" textLength="31.03" lengthAdjust="spacingAndGlyphs">24</text>
<line x1="1200.76" y1="702.8" x2="1200.76" y2="713.3" stroke="#000" stroke-width="2.2"/>
<text x="1185.42" y="742.3" font-size="30" textLength="31.03" lengthAdjust="spacingAndGlyphs">32</text>
<line x1="1243.78" y1="702.8" x2="1243.78" y2="713.3" stroke="#000" stroke-width="2.2"/>
<text x="1228.49" y="742.3" font-size="30" textLength="31.03" lengthAdjust="spacingAndGlyphs">40</text>
<line x1="1286.8" y1="702.8" x2="1286.8" y2="713.3" stroke="#000" stroke-width="2.2"/>
<text x="1271.57" y="742.3" font-size="30" textLength="31.03" lengthAdjust="spacingAndGlyphs">48</text>
<polyline points="1034.08,715.26 1103.98,706.54 1157.75,696.36 1286.8,702.8" fill="none" stroke="#646464" stroke-width="2.2"/>
<line x1="1034.08" y1="711.1" x2="1034.08" y2="719.41" stroke="#646464" stroke-width="2"/>
<line x1="1029.08" y1="711.1" x2="1039.08" y2="711.1" stroke="#646464" stroke-width="2"/>
<line x1="1029.08" y1="719.41" x2="1039.08" y2="719.41" stroke="#646464" stroke-width="2"/>
<circle cx="1034.08" cy="715.26" r="4.8" fill="none" stroke="#646464" stroke-width="2"/>
<circle cx="1103.98" cy="706.54" r="4.8" fill="none" stroke="#646464" stroke-width="2"/>
<circle cx="1157.75" cy="696.36" r="4.8" fill="none" stroke="#646464" stroke-width="2"/>
<circle cx="1286.8" cy="702.8" r="4.8" fill="none" stroke="#646464" stroke-width="2"/>
<polyline points="1034.08,715.26 1103.98,582.39 1157.75,518.04 1286.8,497.28" fill="none" stroke="#be46e6" stroke-width="2.2"/>
<line x1="1034.08" y1="709.03" x2="1034.08" y2="721.48" stroke="#be46e6" stroke-width="2"/>
<line x1="1029.08" y1="709.03" x2="1039.08" y2="709.03" stroke="#be46e6" stroke-width="2"/>
<line x1="1029.08" y1="721.48" x2="1039.08" y2="721.48" stroke="#be46e6" stroke-width="2"/>
<line x1="1103.98" y1="578.24" x2="1103.98" y2="586.54" stroke="#be46e6" stroke-width="2"/>
<line x1="1098.98" y1="578.24" x2="1108.98" y2="578.24" stroke="#be46e6" stroke-width="2"/>
<line x1="1098.98" y1="586.54" x2="1108.98" y2="586.54" stroke="#be46e6" stroke-width="2"/>
<polygon points="1029.76,715.26 1031.82,711.61 1036.33,711.61 1038.4,715.26 1036.33,718.9 1031.82,718.9" fill="none" stroke="#be46e6" stroke-width="2"/>
<polygon points="1099.66,582.39 1101.72,578.74 1106.23,578.74 1108.3,582.39 1106.23,586.04 1101.72,586.04" fill="none" stroke="#be46e6" stroke-width="2"/>
<polygon points="1153.43,518.04 1155.49,514.39 1160,514.39 1162.07,518.04 1160,521.68 1155.49,521.68" fill="none" stroke="#be46e6" stroke-width="2"/>
<polygon points="1282.48,497.28 1284.54,493.63 1289.05,493.63 1291.12,497.28 1289.05,500.92 1284.54,500.92" fill="none" stroke="#be46e6" stroke-width="2"/>
<polyline points="1034.08,719.41 1103.98,586.54 1157.75,520.11 1286.8,497.28" fill="none" stroke="#008c50" stroke-width="2.2"/>
<line x1="1034.08" y1="715.26" x2="1034.08" y2="723.56" stroke="#008c50" stroke-width="2"/>
<line x1="1029.08" y1="715.26" x2="1039.08" y2="715.26" stroke="#008c50" stroke-width="2"/>
<line x1="1029.08" y1="723.56" x2="1039.08" y2="723.56" stroke="#008c50" stroke-width="2"/>
<line x1="1103.98" y1="582.39" x2="1103.98" y2="590.7" stroke="#008c50" stroke-width="2"/>
<line x1="1098.98" y1="582.39" x2="1108.98" y2="582.39" stroke="#008c50" stroke-width="2"/>
<line x1="1098.98" y1="590.7" x2="1108.98" y2="590.7" stroke="#008c50" stroke-width="2"/>
<polygon points="1034.08,714.37 1038.64,719.41 1034.08,724.45 1029.52,719.41" fill="none" stroke="#008c50" stroke-width="2"/>
<polygon points="1103.98,581.5 1108.54,586.54 1103.98,591.58 1099.42,586.54" fill="none" stroke="#008c50" stroke-width="2"/>
<polygon points="1157.75,515.07 1162.31,520.11 1157.75,525.15 1153.19,520.11" fill="none" stroke="#008c50" stroke-width="2"/>
<polygon points="1286.8,492.24 1291.36,497.28 1286.8,502.32 1282.24,497.28" fill="none" stroke="#008c50" stroke-width="2"/>
<polyline points="1034.08,720.45 1103.98,588.62 1157.75,521.15 1286.8,497.28" fill="none" stroke="#1e3cff" stroke-width="2.2"/>
<line x1="1034.08" y1="716.29" x2="1034.08" y2="724.6" stroke="#1e3cff" stroke-width="2"/>
<line x1="1029.08" y1="716.29" x2="1039.08" y2="716.29" stroke="#1e3cff" stroke-width="2"/>
<line x1="1029.08" y1="724.6" x2="1039.08" y2="724.6" stroke="#1e3cff" stroke-width="2"/>
<line x1="1103.98" y1="584.47" x2="1103.98" y2="592.77" stroke="#1e3cff" stroke-width="2"/>
<line x1="1098.98" y1="584.47" x2="1108.98" y2="584.47" stroke="#1e3cff" stroke-width="2"/>
<line x1="1098.98" y1="592.77" x2="1108.98" y2="592.77" stroke="#1e3cff" stroke-width="2"/>
<polygon points="1034.08,715.41 1038.88,724.29 1029.28,724.29" fill="none" stroke="#1e3cff" stroke-width="2"/>
<polygon points="1103.98,583.58 1108.78,592.46 1099.18,592.46" fill="none" stroke="#1e3cff" stroke-width="2"/>
<polygon points="1157.75,516.11 1162.55,524.99 1152.95,524.99" fill="none" stroke="#1e3cff" stroke-width="2"/>
<polygon points="1286.8,492.24 1291.6,501.12 1282,501.12" fill="none" stroke="#1e3cff" stroke-width="2"/>
<polyline points="1034.08,718.37 1103.98,576.79 1157.75,515.75 1286.8,497.28" fill="none" stroke="#965000" stroke-width="2.2"/>
<line x1="1034.08" y1="714.22" x2="1034.08" y2="722.52" stroke="#965000" stroke-width="2"/>
<line x1="1029.08" y1="714.22" x2="1039.08" y2="714.22" stroke="#965000" stroke-width="2"/>
<line x1="1029.08" y1="722.52" x2="1039.08" y2="722.52" stroke="#965000" stroke-width="2"/>
<line x1="1103.98" y1="572.63" x2="1103.98" y2="580.94" stroke="#965000" stroke-width="2"/>
<line x1="1098.98" y1="572.63" x2="1108.98" y2="572.63" stroke="#965000" stroke-width="2"/>
<line x1="1098.98" y1="580.94" x2="1108.98" y2="580.94" stroke="#965000" stroke-width="2"/>
<polygon points="1034.08,723.41 1038.88,714.53 1029.28,714.53" fill="none" stroke="#965000" stroke-width="2"/>
<polygon points="1103.98,581.83 1108.78,572.95 1099.18,572.95" fill="none" stroke="#965000" stroke-width="2"/>
<polygon points="1157.75,520.79 1162.55,511.91 1152.95,511.91" fill="none" stroke="#965000" stroke-width="2"/>
<polygon points="1286.8,502.32 1291.6,493.44 1282,493.44" fill="none" stroke="#965000" stroke-width="2"/>
<polyline points="1034.08,722.52 1103.98,594.23 1157.75,524.47 1286.8,497.28" fill="none" stroke="#b4190f" stroke-width="2.2"/>
<line x1="1034.08" y1="716.29" x2="1034.08" y2="728.75" stroke="#b4190f" stroke-width="2"/>
<line x1="1029.08" y1="716.29" x2="1039.08" y2="716.29" stroke="#b4190f" stroke-width="2"/>
<line x1="1029.08" y1="728.75" x2="1039.08" y2="728.75" stroke="#b4190f" stroke-width="2"/>
<line x1="1103.98" y1="590.07" x2="1103.98" y2="598.38" stroke="#b4190f" stroke-width="2"/>
<line x1="1098.98" y1="590.07" x2="1108.98" y2="590.07" stroke="#b4190f" stroke-width="2"/>
<line x1="1098.98" y1="598.38" x2="1108.98" y2="598.38" stroke="#b4190f" stroke-width="2"/>
<rect x="1029.28" y="717.72" width="9.6" height="9.6" fill="none" stroke="#b4190f" stroke-width="2"/>
<rect x="1099.18" y="589.43" width="9.6" height="9.6" fill="none" stroke="#b4190f" stroke-width="2"/>
<rect x="1152.95" y="519.67" width="9.6" height="9.6" fill="none" stroke="#b4190f" stroke-width="2"/>
<rect x="1282" y="492.48" width="9.6" height="9.6" fill="none" stroke="#b4190f" stroke-width="2"/>
<text transform="translate(21,643.3) rotate(-90)" x="-0.98" y="0" font-size="30" textLength="86.77" lengthAdjust="spacingAndGlyphs">%Lysis</text>
<text x="1326.75" y="453.5" font-size="39" font-weight="bold" textLength="26.06" lengthAdjust="spacingAndGlyphs">d</text>
<defs>
<pattern id="pNT" patternUnits="userSpaceOnUse" width="4.2" height="10"><rect width="4.2" height="10" fill="#b4b4b4"/><rect x="0" width="1.3" height="10" fill="#7d7d7d"/></pattern>
<pattern id="pUBS54" patternUnits="userSpaceOnUse" width="4.2" height="10"><rect width="4.2" height="10" fill="#c94b40"/><rect x="0" width="1.3" height="10" fill="#b01a0c"/></pattern>
<pattern id="pY6A" patternUnits="userSpaceOnUse" width="4.2" height="10"><rect width="4.2" height="10" fill="#7c94ff"/><rect x="0" width="1.3" height="10" fill="#1e3cff"/></pattern>
<pattern id="pY6V" patternUnits="userSpaceOnUse" width="4.2" height="10"><rect width="4.2" height="10" fill="#cfa378"/><rect x="0" width="1.3" height="10" fill="#94500a"/></pattern>
<pattern id="pY6L" patternUnits="userSpaceOnUse" width="4.2" height="10"><rect width="4.2" height="10" fill="#62c497"/><rect x="0" width="1.3" height="10" fill="#0f8c55"/></pattern>
<pattern id="pY6F" patternUnits="userSpaceOnUse" width="4.2" height="10"><rect width="4.2" height="10" fill="#d183f2"/><rect x="0" width="1.3" height="10" fill="#bb44e8"/></pattern>
</defs>
<text x="1471.4" y="476.4" font-size="31.5" textLength="152.5" lengthAdjust="spacingAndGlyphs">Colon EpC</text>
<text x="1493.76" y="772.1" font-size="30" textLength="105.39" lengthAdjust="spacingAndGlyphs">Time (h)</text>
<line x1="1406" y1="478.9" x2="1406" y2="738" stroke="#000" stroke-width="2.2"/>
<line x1="1395.5" y1="694.8" x2="1685.2" y2="694.8" stroke="#000" stroke-width="2.2"/>
<line x1="1395.5" y1="694.8" x2="1406" y2="694.8" stroke="#000" stroke-width="2.2"/>
<text x="1375.07" y="704.4" font-size="30" textLength="15.52" lengthAdjust="spacingAndGlyphs">0</text>
<line x1="1395.5" y1="641.07" x2="1406" y2="641.07" stroke="#000" stroke-width="2.2"/>
<text x="1359.64" y="650.67" font-size="30" textLength="31.03" lengthAdjust="spacingAndGlyphs">25</text>
<line x1="1395.5" y1="587.35" x2="1406" y2="587.35" stroke="#000" stroke-width="2.2"/>
<text x="1359.56" y="596.95" font-size="30" textLength="31.03" lengthAdjust="spacingAndGlyphs">50</text>
<line x1="1395.5" y1="533.62" x2="1406" y2="533.62" stroke="#000" stroke-width="2.2"/>
<text x="1359.64" y="543.23" font-size="30" textLength="31.03" lengthAdjust="spacingAndGlyphs">75</text>
<line x1="1395.5" y1="479.9" x2="1406" y2="479.9" stroke="#000" stroke-width="2.2"/>
<text x="1344.04" y="489.5" font-size="30" textLength="46.55" lengthAdjust="spacingAndGlyphs">100</text>
<line x1="1450.6" y1="694.8" x2="1450.6" y2="705.3" stroke="#000" stroke-width="2.2"/>
<text x="1442.84" y="734.8" font-size="30" textLength="15.52" lengthAdjust="spacingAndGlyphs">8</text>
<line x1="1495.2" y1="694.8" x2="1495.2" y2="705.3" stroke="#000" stroke-width="2.2"/>
<text x="1479.23" y="734.8" font-size="30" textLength="31.03" lengthAdjust="spacingAndGlyphs">16</text>
<line x1="1539.8" y1="694.8" x2="1539.8" y2="705.3" stroke="#000" stroke-width="2.2"/>
<text x="1523.99" y="734.8" font-size="30" textLength="31.03" lengthAdjust="spacingAndGlyphs">24</text>
<line x1="1584.4" y1="694.8" x2="1584.4" y2="705.3" stroke="#000" stroke-width="2.2"/>
<text x="1569.05" y="734.8" font-size="30" textLength="31.03" lengthAdjust="spacingAndGlyphs">32</text>
<line x1="1629" y1="694.8" x2="1629" y2="705.3" stroke="#000" stroke-width="2.2"/>
<text x="1613.71" y="734.8" font-size="30" textLength="31.03" lengthAdjust="spacingAndGlyphs">40</text>
<line x1="1673.6" y1="694.8" x2="1673.6" y2="705.3" stroke="#000" stroke-width="2.2"/>
<text x="1658.37" y="734.8" font-size="30" textLength="31.03" lengthAdjust="spacingAndGlyphs">48</text>
<polygon points="1406.4,692.65 1409.19,692.38 1411.98,692.11 1414.76,691.85 1417.55,691.58 1420.34,691.31 1423.12,691.04 1425.91,690.77 1428.7,690.5 1431.49,690.23 1434.28,689.96 1437.06,689.7 1439.85,689.43 1442.64,689.16 1445.43,688.89 1448.21,688.62 1451,688.35 1453.79,687.95 1456.58,687.55 1459.36,687.14 1462.15,686.74 1464.94,686.34 1467.73,685.94 1470.51,685.53 1473.3,685.13 1476.09,684.73 1478.88,684.32 1481.66,683.92 1484.45,683.52 1487.24,683.11 1490.03,682.71 1492.81,682.31 1495.6,681.91 1498.39,681.1 1501.18,680.29 1503.96,679.49 1506.75,678.68 1509.54,677.88 1512.33,677.07 1515.11,676.26 1517.9,675.46 1520.69,674.12 1523.48,672.77 1526.26,671.43 1529.05,670.09 1531.84,668.74 1534.62,667.4 1537.41,666.06 1540.2,664.71 1542.99,664.31 1545.78,663.91 1548.56,663.51 1551.35,663.1 1554.14,662.7 1556.93,662.3 1559.71,661.89 1562.5,661.49 1565.29,661.09 1568.08,660.68 1570.86,660.28 1573.65,659.88 1576.44,659.48 1579.23,659.07 1582.01,658.67 1584.8,658.27 1587.59,657.86 1590.38,657.46 1593.16,657.06 1595.95,656.66 1598.74,656.25 1601.53,655.85 1604.31,655.45 1607.1,655.04 1609.89,654.64 1612.68,654.24 1615.46,653.83 1618.25,653.43 1621.04,653.03 1623.83,652.63 1626.61,652.22 1629.4,651.82 1632.19,650.83 1634.98,649.83 1637.76,648.84 1640.55,647.84 1643.34,646.85 1646.12,645.86 1648.91,644.86 1651.7,643.87 1654.49,643.87 1657.28,643.87 1660.06,643.87 1662.85,643.87 1665.64,643.87 1668.43,643.87 1671.21,643.87 1674,643.87 1674,694.8 1671.21,694.93 1668.43,695.07 1665.64,695.2 1662.85,695.34 1660.06,695.47 1657.28,695.61 1654.49,695.74 1651.7,695.87 1648.91,696.01 1646.12,696.14 1643.34,696.28 1640.55,696.41 1637.76,696.55 1634.98,696.68 1632.19,696.81 1629.4,696.95 1626.61,697.22 1623.83,697.49 1621.04,697.75 1618.25,698.02 1615.46,698.29 1612.68,698.56 1609.89,698.83 1607.1,699.1 1604.31,699.37 1601.53,699.64 1598.74,699.9 1595.95,700.17 1593.16,700.44 1590.38,700.71 1587.59,700.98 1584.8,701.25 1582.01,701.52 1579.23,701.78 1576.44,702.05 1573.65,702.32 1570.86,702.59 1568.08,702.86 1565.29,703.13 1562.5,703.4 1559.71,703.66 1556.93,703.93 1554.14,704.2 1551.35,704.47 1548.56,704.74 1545.78,705.01 1542.99,705.28 1540.2,705.54 1537.41,706.62 1534.62,707.69 1531.84,708.77 1529.05,709.84 1526.26,710.38 1523.48,710.92 1520.69,711.45 1517.9,711.99 1515.11,711.86 1512.33,711.72 1509.54,711.59 1506.75,711.45 1503.96,711.32 1501.18,711.19 1498.39,711.05 1495.6,710.92 1492.81,710.25 1490.03,709.57 1487.24,708.9 1484.45,708.23 1481.66,707.56 1478.88,706.89 1476.09,706.22 1473.3,705.54 1470.51,704.74 1467.73,703.93 1464.94,703.13 1462.15,702.32 1459.36,701.52 1456.58,700.71 1453.79,699.9 1451,699.1 1448.21,698.96 1445.43,698.83 1442.64,698.7 1439.85,698.56 1437.06,698.43 1434.28,698.29 1431.49,698.16 1428.7,698.02 1425.91,697.89 1423.12,697.75 1420.34,697.62 1417.55,697.49 1414.76,697.35 1411.98,697.22 1409.19,697.08 1406.4,696.95" fill="url(#pY6A)" stroke="#1e3cff" stroke-width="1.4" stroke-linejoin="round"/>
<polyline points="1406.4,694.8 1409.19,694.8 1411.98,694.8 1414.76,694.8 1417.55,694.8 1420.34,694.8 1423.12,694.8 1425.91,694.8 1428.7,694.8 1431.49,694.8 1434.28,694.8 1437.06,694.8 1439.85,694.8 1442.64,694.8 1445.43,694.8 1448.21,694.8 1451,694.8 1453.79,694.67 1456.58,694.53 1459.36,694.4 1462.15,694.26 1464.94,694.13 1467.73,693.99 1470.51,693.86 1473.3,693.73 1476.09,693.59 1478.88,693.46 1481.66,693.32 1484.45,693.19 1487.24,693.05 1490.03,692.92 1492.81,692.79 1495.6,692.65 1498.39,692.11 1501.18,691.58 1503.96,691.04 1506.75,690.5 1509.54,689.96 1512.33,689.43 1515.11,688.89 1517.9,688.35 1520.69,687.82 1523.48,687.28 1526.26,686.74 1529.05,686.2 1531.84,685.67 1534.62,685.13 1537.41,684.59 1540.2,684.05 1542.99,683.52 1545.78,682.98 1548.56,682.44 1551.35,681.91 1554.14,681.37 1556.93,680.83 1559.71,680.29 1562.5,679.76 1565.29,679.22 1568.08,678.68 1570.86,678.15 1573.65,677.61 1576.44,677.07 1579.23,676.53 1582.01,676 1584.8,675.46 1587.59,675.19 1590.38,674.92 1593.16,674.65 1595.95,674.38 1598.74,674.12 1601.53,673.85 1604.31,673.58 1607.1,673.31 1609.89,673.04 1612.68,672.77 1615.46,672.5 1618.25,672.24 1621.04,671.97 1623.83,671.7 1626.61,671.43 1629.4,671.16 1632.19,670.8 1634.98,670.44 1637.76,670.07 1640.55,669.71 1643.34,669.35 1646.12,668.99 1648.91,668.62 1651.7,668.26 1654.49,667.9 1657.28,667.53 1660.06,667.17 1662.85,666.81 1665.64,666.45 1668.43,666.08 1671.21,665.72 1674,665.36" fill="none" stroke="#1e3cff" stroke-width="3.2"/>
<polygon points="1406.4,692.65 1409.19,692.38 1411.98,692.11 1414.76,691.85 1417.55,691.58 1420.34,691.31 1423.12,691.04 1425.91,690.77 1428.7,690.5 1431.49,690.23 1434.28,689.96 1437.06,689.7 1439.85,689.43 1442.64,689.16 1445.43,688.89 1448.21,688.62 1451,688.35 1453.79,688.08 1456.58,687.82 1459.36,687.55 1462.15,687.28 1464.94,687.01 1467.73,686.74 1470.51,686.47 1473.3,686.2 1476.09,685.94 1478.88,685.67 1481.66,685.4 1484.45,685.13 1487.24,684.86 1490.03,684.59 1492.81,684.32 1495.6,684.05 1498.39,683.92 1501.18,683.79 1503.96,683.65 1506.75,683.52 1509.54,683.38 1512.33,683.25 1515.11,683.11 1517.9,682.98 1520.69,682.85 1523.48,682.71 1526.26,682.58 1529.05,682.44 1531.84,682.31 1534.62,682.17 1537.41,682.04 1540.2,681.91 1542.99,681.57 1545.78,681.23 1548.56,680.9 1551.35,680.56 1554.14,680.23 1556.93,679.89 1559.71,679.56 1562.5,679.22 1565.29,678.88 1568.08,678.55 1570.86,678.21 1573.65,677.88 1576.44,677.54 1579.23,677.21 1582.01,676.87 1584.8,676.53 1587.59,676.6 1590.38,676.67 1593.16,676.73 1595.95,676.8 1598.74,676.87 1601.53,676.94 1604.31,677 1607.1,677.07 1609.89,677.14 1612.68,677.21 1615.46,677.27 1618.25,677.34 1621.04,677.41 1623.83,677.47 1626.61,677.54 1629.4,677.61 1632.19,677.61 1634.98,677.61 1637.76,677.61 1640.55,677.61 1643.34,677.61 1646.12,677.61 1648.91,677.61 1651.7,677.61 1654.49,677.61 1657.28,677.61 1660.06,677.61 1662.85,677.61 1665.64,677.61 1668.43,677.61 1671.21,677.61 1674,677.61 1674,705.54 1671.21,705.68 1668.43,705.81 1665.64,705.95 1662.85,706.08 1660.06,706.22 1657.28,706.35 1654.49,706.49 1651.7,706.62 1648.91,706.75 1646.12,706.89 1643.34,707.02 1640.55,707.16 1637.76,707.29 1634.98,707.43 1632.19,707.56 1629.4,707.69 1626.61,707.56 1623.83,707.43 1621.04,707.29 1618.25,707.16 1615.46,707.02 1612.68,706.89 1609.89,706.75 1607.1,706.62 1604.31,706.49 1601.53,706.35 1598.74,706.22 1595.95,706.08 1593.16,705.95 1590.38,705.81 1587.59,705.68 1584.8,705.54 1582.01,705.41 1579.23,705.28 1576.44,705.14 1573.65,705.01 1570.86,704.87 1568.08,704.74 1565.29,704.6 1562.5,704.47 1559.71,704.34 1556.93,704.2 1554.14,704.07 1551.35,703.93 1548.56,703.8 1545.78,703.66 1542.99,703.53 1540.2,703.4 1537.41,703.26 1534.62,703.13 1531.84,702.99 1529.05,702.86 1526.26,702.72 1523.48,702.59 1520.69,702.46 1517.9,702.32 1515.11,702.19 1512.33,702.05 1509.54,701.92 1506.75,701.78 1503.96,701.65 1501.18,701.52 1498.39,701.38 1495.6,701.25 1492.81,701.11 1490.03,700.98 1487.24,700.84 1484.45,700.71 1481.66,700.58 1478.88,700.44 1476.09,700.31 1473.3,700.17 1470.51,700.04 1467.73,699.9 1464.94,699.77 1462.15,699.64 1459.36,699.5 1456.58,699.37 1453.79,699.23 1451,699.1 1448.21,698.96 1445.43,698.83 1442.64,698.7 1439.85,698.56 1437.06,698.43 1434.28,698.29 1431.49,698.16 1428.7,698.02 1425.91,697.89 1423.12,697.75 1420.34,697.62 1417.55,697.49 1414.76,697.35 1411.98,697.22 1409.19,697.08 1406.4,696.95" fill="url(#pY6L)" stroke="#008c50" stroke-width="1.4" stroke-linejoin="round"/>
<polyline points="1406.4,694.8 1409.19,694.67 1411.98,694.53 1414.76,694.4 1417.55,694.26 1420.34,694.13 1423.12,693.99 1425.91,693.86 1428.7,693.73 1431.49,693.59 1434.28,693.46 1437.06,693.32 1439.85,693.19 1442.64,693.05 1445.43,692.92 1448.21,692.79 1451,692.65 1453.79,692.52 1456.58,692.38 1459.36,692.25 1462.15,692.11 1464.94,691.98 1467.73,691.85 1470.51,691.71 1473.3,691.58 1476.09,691.44 1478.88,691.31 1481.66,691.17 1484.45,691.04 1487.24,690.9 1490.03,690.77 1492.81,690.64 1495.6,690.5 1498.39,690.37 1501.18,690.23 1503.96,690.1 1506.75,689.96 1509.54,689.83 1512.33,689.7 1515.11,689.56 1517.9,689.43 1520.69,689.29 1523.48,689.16 1526.26,689.02 1529.05,688.89 1531.84,688.76 1534.62,688.62 1537.41,688.49 1540.2,688.35 1542.99,688.22 1545.78,688.08 1548.56,687.95 1551.35,687.82 1554.14,687.68 1556.93,687.55 1559.71,687.41 1562.5,687.28 1565.29,687.14 1568.08,687.01 1570.86,686.88 1573.65,686.74 1576.44,686.61 1579.23,686.47 1582.01,686.34 1584.8,686.2 1587.59,686.34 1590.38,686.47 1593.16,686.61 1595.95,686.74 1598.74,686.88 1601.53,687.01 1604.31,687.14 1607.1,687.28 1609.89,687.41 1612.68,687.55 1615.46,687.68 1618.25,687.82 1621.04,687.95 1623.83,688.08 1626.61,688.22 1629.4,688.35 1632.19,688.35 1634.98,688.35 1637.76,688.35 1640.55,688.35 1643.34,688.35 1646.12,688.35 1648.91,688.35 1651.7,688.35 1654.49,688.35 1657.28,688.35 1660.06,688.35 1662.85,688.35 1665.64,688.35 1668.43,688.35 1671.21,688.35 1674,688.35" fill="none" stroke="#008c50" stroke-width="3.2"/>
<polygon points="1406.4,690.5 1409.19,690.37 1411.98,690.23 1414.76,690.1 1417.55,689.96 1420.34,689.83 1423.12,689.7 1425.91,689.56 1428.7,689.43 1431.49,689.29 1434.28,689.16 1437.06,689.02 1439.85,688.89 1442.64,688.76 1445.43,688.62 1448.21,688.49 1451,688.35 1453.79,688.04 1456.58,687.74 1459.36,687.43 1462.15,687.12 1464.94,686.81 1467.73,686.5 1470.51,686.19 1473.3,685.88 1476.09,685.57 1478.88,685.26 1481.66,684.95 1484.45,684.65 1487.24,684.34 1490.03,684.03 1492.81,683.72 1495.6,683.41 1498.39,683.32 1501.18,683.22 1503.96,683.13 1506.75,683.03 1509.54,682.94 1512.33,682.85 1515.11,682.75 1517.9,682.66 1520.69,682.56 1523.48,682.47 1526.26,682.38 1529.05,682.28 1531.84,682.19 1534.62,682.09 1537.41,682 1540.2,681.91 1542.99,681.91 1545.78,681.91 1548.56,681.91 1551.35,681.91 1554.14,681.91 1556.93,681.91 1559.71,681.91 1562.5,681.91 1565.29,681.91 1568.08,681.91 1570.86,681.91 1573.65,681.91 1576.44,681.91 1579.23,681.91 1582.01,681.91 1584.8,681.91 1587.59,682.04 1590.38,682.17 1593.16,682.31 1595.95,682.44 1598.74,682.58 1601.53,682.71 1604.31,682.85 1607.1,682.98 1609.89,683.11 1612.68,683.25 1615.46,683.38 1618.25,683.52 1621.04,683.65 1623.83,683.79 1626.61,683.92 1629.4,684.05 1632.19,684.05 1634.98,684.05 1637.76,684.05 1640.55,684.05 1643.34,684.05 1646.12,684.05 1648.91,684.05 1651.7,684.05 1654.49,684.05 1657.28,684.05 1660.06,684.05 1662.85,684.05 1665.64,684.05 1668.43,684.05 1671.21,684.05 1674,684.05 1674,705.54 1671.21,705.54 1668.43,705.54 1665.64,705.54 1662.85,705.54 1660.06,705.54 1657.28,705.54 1654.49,705.54 1651.7,705.54 1648.91,705.54 1646.12,705.54 1643.34,705.54 1640.55,705.54 1637.76,705.54 1634.98,705.54 1632.19,705.54 1629.4,705.54 1626.61,705.68 1623.83,705.81 1621.04,705.95 1618.25,706.08 1615.46,706.22 1612.68,706.35 1609.89,706.49 1607.1,706.62 1604.31,706.75 1601.53,706.89 1598.74,707.02 1595.95,707.16 1593.16,707.29 1590.38,707.43 1587.59,707.56 1584.8,707.69 1582.01,707.96 1579.23,708.23 1576.44,708.5 1573.65,708.77 1570.86,709.04 1568.08,709.31 1565.29,709.57 1562.5,709.84 1559.71,709.57 1556.93,709.31 1554.14,709.04 1551.35,708.77 1548.56,708.5 1545.78,708.23 1542.99,707.96 1540.2,707.69 1537.41,707.56 1534.62,707.43 1531.84,707.29 1529.05,707.16 1526.26,707.02 1523.48,706.89 1520.69,706.75 1517.9,706.62 1515.11,706.49 1512.33,706.35 1509.54,706.22 1506.75,706.08 1503.96,705.95 1501.18,705.81 1498.39,705.68 1495.6,705.54 1492.81,705.28 1490.03,705.01 1487.24,704.74 1484.45,704.47 1481.66,704.2 1478.88,703.93 1476.09,703.66 1473.3,703.4 1470.51,703.13 1467.73,702.86 1464.94,702.59 1462.15,702.32 1459.36,702.05 1456.58,701.78 1453.79,701.52 1451,701.25 1448.21,701.11 1445.43,700.98 1442.64,700.84 1439.85,700.71 1437.06,700.58 1434.28,700.44 1431.49,700.31 1428.7,700.17 1425.91,700.04 1423.12,699.9 1420.34,699.77 1417.55,699.64 1414.76,699.5 1411.98,699.37 1409.19,699.23 1406.4,699.1" fill="url(#pNT)" stroke="#646464" stroke-width="1.4" stroke-linejoin="round"/>
<polyline points="1406.4,694.8 1409.19,694.8 1411.98,694.8 1414.76,694.8 1417.55,694.8 1420.34,694.8 1423.12,694.8 1425.91,694.8 1428.7,694.8 1431.49,694.8 1434.28,694.8 1437.06,694.8 1439.85,694.8 1442.64,694.8 1445.43,694.8 1448.21,694.8 1451,694.8 1453.79,694.8 1456.58,694.8 1459.36,694.8 1462.15,694.8 1464.94,694.8 1467.73,694.8 1470.51,694.8 1473.3,694.8 1476.09,694.8 1478.88,694.8 1481.66,694.8 1484.45,694.8 1487.24,694.8 1490.03,694.8 1492.81,694.8 1495.6,694.8 1498.39,694.8 1501.18,694.8 1503.96,694.8 1506.75,694.8 1509.54,694.8 1512.33,694.8 1515.11,694.8 1517.9,694.8 1520.69,694.8 1523.48,694.8 1526.26,694.8 1529.05,694.8 1531.84,694.8 1534.62,694.8 1537.41,694.8 1540.2,694.8 1542.99,694.8 1545.78,694.8 1548.56,694.8 1551.35,694.8 1554.14,694.8 1556.93,694.8 1559.71,694.8 1562.5,694.8 1565.29,694.8 1568.08,694.8 1570.86,694.8 1573.65,694.8 1576.44,694.8 1579.23,694.8 1582.01,694.8 1584.8,694.8 1587.59,694.8 1590.38,694.8 1593.16,694.8 1595.95,694.8 1598.74,694.8 1601.53,694.8 1604.31,694.8 1607.1,694.8 1609.89,694.8 1612.68,694.8 1615.46,694.8 1618.25,694.8 1621.04,694.8 1623.83,694.8 1626.61,694.8 1629.4,694.8 1632.19,694.8 1634.98,694.8 1637.76,694.8 1640.55,694.8 1643.34,694.8 1646.12,694.8 1648.91,694.8 1651.7,694.8 1654.49,694.8 1657.28,694.8 1660.06,694.8 1662.85,694.8 1665.64,694.8 1668.43,694.8 1671.21,694.8 1674,694.8" fill="none" stroke="#808080" stroke-width="4"/>
<polygon points="1406.4,692.65 1409.19,691.98 1411.98,691.31 1414.76,690.64 1417.55,689.96 1420.34,689.29 1423.12,688.62 1425.91,687.95 1428.7,687.28 1431.49,686.61 1434.28,685.94 1437.06,685.26 1439.85,684.59 1442.64,683.92 1445.43,683.25 1448.21,682.58 1451,681.91 1453.79,681.32 1456.58,680.74 1459.36,680.16 1462.15,679.58 1464.94,678.99 1467.73,678.41 1470.51,677.83 1473.3,677.25 1476.09,676.66 1478.88,676.08 1481.66,675.5 1484.45,674.92 1487.24,674.33 1490.03,673.75 1492.81,673.17 1495.6,672.59 1498.39,672.24 1501.18,672.24 1503.96,672.24 1506.75,672.24 1509.54,672.24 1512.33,672.24 1515.11,672.24 1517.9,672.24 1520.69,672.24 1523.48,672.24 1526.26,671.34 1529.05,670.44 1531.84,669.55 1534.62,668.65 1537.41,667.76 1540.2,666.86 1542.99,665.59 1545.78,664.32 1548.56,663.05 1551.35,661.78 1554.14,660.5 1556.93,659.23 1559.71,657.96 1562.5,656.69 1565.29,655.42 1568.08,654.31 1570.86,653.88 1573.65,653.45 1576.44,653.02 1579.23,652.59 1582.01,652.16 1584.8,651.73 1587.59,651.3 1590.38,650.87 1593.16,650.44 1595.95,650.08 1598.74,649.95 1601.53,649.82 1604.31,649.69 1607.1,649.56 1609.89,649.43 1612.68,649.3 1615.46,649.17 1618.25,649.04 1621.04,648.91 1623.83,648.84 1626.61,648.97 1629.4,649.1 1632.19,649.23 1634.98,649.36 1637.76,649.5 1640.55,649.63 1643.34,649.76 1646.12,649.89 1648.91,650.02 1651.7,650.01 1654.49,649.78 1657.28,649.55 1660.06,649.32 1662.85,649.09 1665.64,648.86 1668.43,648.63 1671.21,648.4 1674,648.17 1674,684.7 1671.21,684.62 1668.43,684.55 1665.64,684.47 1662.85,684.39 1660.06,684.32 1657.28,684.24 1654.49,684.16 1651.7,684.09 1648.91,683.84 1646.12,683.49 1643.34,683.14 1640.55,682.79 1637.76,682.44 1634.98,682.09 1632.19,681.74 1629.4,681.39 1626.61,681.04 1623.83,680.69 1621.04,680.39 1618.25,680.11 1615.46,679.83 1612.68,679.55 1609.89,679.28 1607.1,679 1604.31,678.72 1601.53,678.44 1598.74,678.16 1595.95,677.88 1593.16,677.6 1590.38,677.32 1587.59,677.04 1584.8,676.76 1582.01,676.48 1579.23,676.2 1576.44,675.92 1573.65,675.64 1570.86,675.36 1568.08,675.09 1565.29,675.36 1562.5,675.78 1559.71,676.2 1556.93,676.61 1554.14,677.03 1551.35,677.45 1548.56,677.86 1545.78,678.28 1542.99,678.7 1540.2,679.11 1537.41,679.58 1534.62,680.04 1531.84,680.51 1529.05,680.97 1526.26,681.44 1523.48,681.91 1520.69,682.07 1517.9,682.23 1515.11,682.39 1512.33,682.55 1509.54,682.71 1506.75,682.87 1503.96,683.03 1501.18,683.19 1498.39,683.35 1495.6,683.67 1492.81,684.09 1490.03,684.52 1487.24,684.95 1484.45,685.38 1481.66,685.8 1478.88,686.23 1476.09,686.66 1473.3,687.08 1470.51,687.51 1467.73,687.94 1464.94,688.37 1462.15,688.79 1459.36,689.22 1456.58,689.65 1453.79,690.07 1451,690.5 1448.21,690.9 1445.43,691.31 1442.64,691.71 1439.85,692.11 1437.06,692.52 1434.28,692.92 1431.49,693.32 1428.7,693.73 1425.91,694.13 1423.12,694.53 1420.34,694.93 1417.55,695.34 1414.76,695.74 1411.98,696.14 1409.19,696.55 1406.4,696.95" fill="url(#pY6V)" stroke="#965000" stroke-width="1.4" stroke-linejoin="round"/>
<polyline points="1406.4,694.8 1409.19,694.26 1411.98,693.73 1414.76,693.19 1417.55,692.65 1420.34,692.11 1423.12,691.58 1425.91,691.04 1428.7,690.5 1431.49,689.96 1434.28,689.43 1437.06,688.89 1439.85,688.35 1442.64,687.82 1445.43,687.28 1448.21,686.74 1451,686.2 1453.79,685.55 1456.58,684.9 1459.36,684.25 1462.15,683.6 1464.94,682.95 1467.73,682.3 1470.51,681.63 1473.3,680.94 1476.09,680.26 1478.88,679.57 1481.66,678.88 1484.45,678.19 1487.24,677.5 1490.03,676.82 1492.81,676.13 1495.6,675.44 1498.39,675.09 1501.18,675.24 1503.96,675.4 1506.75,675.55 1509.54,675.7 1512.33,675.86 1515.11,676.01 1517.9,676.17 1520.69,676.32 1523.48,676.47 1526.26,676.23 1529.05,675.74 1531.84,675.24 1534.62,674.74 1537.41,674.24 1540.2,673.74 1542.99,673.3 1545.78,672.86 1548.56,672.42 1551.35,671.99 1554.14,671.55 1556.93,671.11 1559.71,670.67 1562.5,670.23 1565.29,669.79 1568.08,669.37 1570.86,669.03 1573.65,668.69 1576.44,668.34 1579.23,668 1582.01,667.65 1584.8,667.31 1587.59,666.97 1590.38,666.62 1593.16,666.28 1595.95,666 1598.74,666 1601.53,666 1604.31,666 1607.1,666 1609.89,666 1612.68,666 1615.46,666 1618.25,666 1621.04,666 1623.83,666.07 1626.61,666.42 1629.4,666.78 1632.19,667.13 1634.98,667.48 1637.76,667.83 1640.55,668.18 1643.34,668.53 1646.12,668.88 1648.91,669.23 1651.7,669.28 1654.49,668.87 1657.28,668.46 1660.06,668.05 1662.85,667.64 1665.64,667.23 1668.43,666.82 1671.21,666.41 1674,666" fill="none" stroke="#965000" stroke-width="3.2"/>
<polygon points="1406.4,688.35 1407.79,686.88 1409.19,685.41 1410.58,683.94 1411.98,682.46 1413.37,680.99 1414.76,679.54 1416.16,678.1 1417.55,676.66 1418.94,675.22 1420.34,673.77 1421.73,672.33 1423.12,670.89 1424.52,669.45 1425.91,668 1427.31,666.56 1428.7,665.1 1430.09,663.64 1431.49,662.17 1432.88,660.71 1434.28,659.24 1435.67,657.78 1437.06,656.32 1438.46,654.85 1439.85,653.39 1441.24,651.92 1442.64,650.15 1444.03,648.3 1445.43,646.45 1446.82,644.6 1448.21,642.75 1449.61,640.9 1451,639.05 1452.39,637.2 1453.79,635.34 1455.18,633.49 1456.58,631.75 1457.97,630.02 1459.36,628.3 1460.76,626.58 1462.15,624.86 1463.54,623.14 1464.94,621.41 1466.33,619.69 1467.73,617.97 1469.12,616.25 1470.51,614.53 1471.91,612.81 1473.3,611.08 1474.69,609.47 1476.09,607.86 1477.48,606.25 1478.88,604.64 1480.27,603.03 1481.66,601.42 1483.06,599.81 1484.45,598.41 1485.84,597.06 1487.24,595.71 1488.63,594.35 1490.03,593 1491.42,591.65 1492.81,590.3 1494.21,588.95 1495.6,587.59 1496.99,586.24 1498.39,585.13 1499.78,584.08 1501.18,583.03 1502.57,581.98 1503.96,580.93 1505.36,579.87 1506.75,578.82 1508.14,577.77 1509.54,576.72 1510.93,575.67 1512.33,574.8 1513.72,573.97 1515.11,573.14 1516.51,572.31 1517.9,571.48 1519.29,570.65 1520.69,569.83 1522.08,569 1523.48,568.17 1524.87,567.32 1526.26,566.41 1527.66,565.5 1529.05,564.58 1530.44,563.67 1531.84,562.75 1533.23,561.84 1534.62,560.92 1536.02,560.01 1537.41,559.09 1538.81,558.18 1540.2,557.26 1541.59,556.14 1542.99,555.02 1544.38,553.9 1545.78,552.78 1547.17,551.66 1548.56,550.54 1549.96,549.42 1551.35,548.3 1552.74,547.18 1554.14,546.06 1555.53,544.94 1556.93,543.82 1558.32,542.7 1559.71,541.58 1561.11,540.46 1562.5,539.34 1563.89,538.22 1565.29,537.1 1566.68,535.98 1568.08,535.01 1569.47,534.27 1570.86,533.53 1572.26,532.78 1573.65,532.04 1575.04,531.3 1576.44,530.56 1577.83,529.81 1579.23,529.07 1580.62,528.33 1582.01,527.58 1583.41,526.84 1584.8,526.1 1586.19,525.36 1587.59,524.61 1588.98,523.87 1590.38,523.13 1591.77,522.39 1593.16,521.64 1594.56,520.9 1595.95,520.22 1597.34,519.63 1598.74,519.03 1600.13,518.44 1601.53,517.85 1602.92,517.26 1604.31,516.66 1605.71,516.07 1607.1,515.48 1608.49,514.89 1609.89,514.29 1611.28,513.7 1612.68,513.11 1614.07,512.52 1615.46,511.92 1616.86,511.33 1618.25,510.74 1619.64,510.15 1621.04,509.56 1622.43,508.96 1623.83,508.46 1625.22,508.08 1626.61,507.71 1628.01,507.33 1629.4,506.96 1630.79,506.59 1632.19,506.21 1633.58,505.84 1634.98,505.46 1636.37,505.09 1637.76,504.71 1639.16,504.34 1640.55,503.96 1641.94,503.59 1643.34,503.21 1644.73,502.84 1646.12,502.47 1647.52,502.09 1648.91,501.72 1650.31,501.34 1651.7,501.09 1653.09,500.87 1654.49,500.64 1655.88,500.42 1657.28,500.2 1658.67,499.97 1660.06,499.75 1661.46,499.53 1662.85,499.3 1664.24,499.08 1665.64,498.86 1667.03,498.64 1668.43,498.41 1669.82,498.19 1671.21,497.97 1672.61,497.74 1674,497.52 1674,508.7 1672.61,508.96 1671.21,509.22 1669.82,509.49 1668.43,509.75 1667.03,510.01 1665.64,510.28 1664.24,510.54 1662.85,510.8 1661.46,511.07 1660.06,511.33 1658.67,511.59 1657.28,511.85 1655.88,512.12 1654.49,512.38 1653.09,512.64 1651.7,512.91 1650.31,513.2 1648.91,513.62 1647.52,514.03 1646.12,514.45 1644.73,514.86 1643.34,515.28 1641.94,515.69 1640.55,516.11 1639.16,516.52 1637.76,516.93 1636.37,517.35 1634.98,517.76 1633.58,518.18 1632.19,518.59 1630.79,519.01 1629.4,519.42 1628.01,519.84 1626.61,520.25 1625.22,520.67 1623.83,521.08 1622.43,521.63 1621.04,522.26 1619.64,522.89 1618.25,523.53 1616.86,524.16 1615.46,524.79 1614.07,525.42 1612.68,526.06 1611.28,526.69 1609.89,527.32 1608.49,527.96 1607.1,528.59 1605.71,529.22 1604.31,529.85 1602.92,530.49 1601.53,531.12 1600.13,531.75 1598.74,532.38 1597.34,533.02 1595.95,533.65 1594.56,534.37 1593.16,535.15 1591.77,535.94 1590.38,536.72 1588.98,537.5 1587.59,538.29 1586.19,539.07 1584.8,539.85 1583.41,540.64 1582.01,541.42 1580.62,542.2 1579.23,542.98 1577.83,543.77 1576.44,544.55 1575.04,545.33 1573.65,546.12 1572.26,546.9 1570.86,547.68 1569.47,548.47 1568.08,549.25 1566.68,550.26 1565.29,551.42 1563.89,552.58 1562.5,553.74 1561.11,554.9 1559.71,556.06 1558.32,557.22 1556.93,558.38 1555.53,559.54 1554.14,560.7 1552.74,561.86 1551.35,563.02 1549.96,564.18 1548.56,565.34 1547.17,566.5 1545.78,567.67 1544.38,568.83 1542.99,569.99 1541.59,571.15 1540.2,572.31 1538.81,573.31 1537.41,574.32 1536.02,575.32 1534.62,576.32 1533.23,577.33 1531.84,578.33 1530.44,579.34 1529.05,580.34 1527.66,581.34 1526.26,582.35 1524.87,583.35 1523.48,584.29 1522.08,585.21 1520.69,586.12 1519.29,587.04 1517.9,587.96 1516.51,588.88 1515.11,589.79 1513.72,590.71 1512.33,591.63 1510.93,592.59 1509.54,593.73 1508.14,594.87 1506.75,596.01 1505.36,597.16 1503.96,598.3 1502.57,599.44 1501.18,600.58 1499.78,601.72 1498.39,602.86 1496.99,604.06 1495.6,605.5 1494.21,606.94 1492.81,608.39 1491.42,609.83 1490.03,611.27 1488.63,612.71 1487.24,614.15 1485.84,615.59 1484.45,617.03 1483.06,618.53 1481.66,620.23 1480.27,621.93 1478.88,623.63 1477.48,625.33 1476.09,627.03 1474.69,628.73 1473.3,630.42 1471.91,632.01 1470.51,633.6 1469.12,635.19 1467.73,636.77 1466.33,638.36 1464.94,639.95 1463.54,641.54 1462.15,643.13 1460.76,644.71 1459.36,646.3 1457.97,647.89 1456.58,649.48 1455.18,651.09 1453.79,652.81 1452.39,654.52 1451,656.24 1449.61,657.95 1448.21,659.67 1446.82,661.39 1445.43,663.1 1444.03,664.82 1442.64,666.54 1441.24,668.18 1439.85,669.51 1438.46,670.84 1437.06,672.17 1435.67,673.5 1434.28,674.83 1432.88,676.15 1431.49,677.48 1430.09,678.81 1428.7,680.14 1427.31,681.47 1425.91,682.78 1424.52,684.09 1423.12,685.39 1421.73,686.7 1420.34,688.01 1418.94,689.32 1417.55,690.63 1416.16,691.93 1414.76,693.24 1413.37,694.56 1411.98,695.9 1410.58,697.23 1409.19,698.57 1407.79,699.91 1406.4,701.25" fill="url(#pY6F)" stroke="#be46e6" stroke-width="1.2"/>
<polyline points="1406.4,694.8 1407.79,693.39 1409.19,691.99 1410.58,690.58 1411.98,689.18 1413.37,687.77 1414.76,686.39 1416.16,685.02 1417.55,683.64 1418.94,682.27 1420.34,680.89 1421.73,679.52 1423.12,678.14 1424.52,676.77 1425.91,675.39 1427.31,674.01 1428.7,672.62 1430.09,671.23 1431.49,669.83 1432.88,668.43 1434.28,667.03 1435.67,665.64 1437.06,664.24 1438.46,662.84 1439.85,661.45 1441.24,660.05 1442.64,658.34 1444.03,656.56 1445.43,654.78 1446.82,652.99 1448.21,651.21 1449.61,649.43 1451,647.64 1452.39,645.86 1453.79,644.08 1455.18,642.29 1456.58,640.61 1457.97,638.96 1459.36,637.3 1460.76,635.65 1462.15,633.99 1463.54,632.34 1464.94,630.68 1466.33,629.03 1467.73,627.37 1469.12,625.72 1470.51,624.06 1471.91,622.41 1473.3,620.75 1474.69,619.1 1476.09,617.44 1477.48,615.79 1478.88,614.14 1480.27,612.48 1481.66,610.83 1483.06,609.17 1484.45,607.72 1485.84,606.33 1487.24,604.93 1488.63,603.53 1490.03,602.14 1491.42,600.74 1492.81,599.34 1494.21,597.94 1495.6,596.55 1496.99,595.15 1498.39,593.99 1499.78,592.9 1501.18,591.8 1502.57,590.71 1503.96,589.61 1505.36,588.51 1506.75,587.42 1508.14,586.32 1509.54,585.23 1510.93,584.13 1512.33,583.21 1513.72,582.34 1515.11,581.47 1516.51,580.59 1517.9,579.72 1519.29,578.85 1520.69,577.97 1522.08,577.1 1523.48,576.23 1524.87,575.34 1526.26,574.38 1527.66,573.42 1529.05,572.46 1530.44,571.5 1531.84,570.54 1533.23,569.58 1534.62,568.62 1536.02,567.66 1537.41,566.7 1538.81,565.74 1540.2,564.79 1541.59,563.65 1542.99,562.5 1544.38,561.36 1545.78,560.22 1547.17,559.08 1548.56,557.94 1549.96,556.8 1551.35,555.66 1552.74,554.52 1554.14,553.38 1555.53,552.24 1556.93,551.1 1558.32,549.96 1559.71,548.82 1561.11,547.68 1562.5,546.54 1563.89,545.4 1565.29,544.26 1566.68,543.12 1568.08,542.13 1569.47,541.37 1570.86,540.6 1572.26,539.84 1573.65,539.08 1575.04,538.32 1576.44,537.55 1577.83,536.79 1579.23,536.03 1580.62,535.26 1582.01,534.5 1583.41,533.74 1584.8,532.98 1586.19,532.21 1587.59,531.45 1588.98,530.69 1590.38,529.92 1591.77,529.16 1593.16,528.4 1594.56,527.64 1595.95,526.93 1597.34,526.32 1598.74,525.71 1600.13,525.1 1601.53,524.48 1602.92,523.87 1604.31,523.26 1605.71,522.65 1607.1,522.03 1608.49,521.42 1609.89,520.81 1611.28,520.2 1612.68,519.58 1614.07,518.97 1615.46,518.36 1616.86,517.75 1618.25,517.13 1619.64,516.52 1621.04,515.91 1622.43,515.3 1623.83,514.77 1625.22,514.38 1626.61,513.98 1628.01,513.59 1629.4,513.19 1630.79,512.8 1632.19,512.4 1633.58,512.01 1634.98,511.61 1636.37,511.22 1637.76,510.82 1639.16,510.43 1640.55,510.03 1641.94,509.64 1643.34,509.24 1644.73,508.85 1646.12,508.46 1647.52,508.06 1648.91,507.67 1650.31,507.27 1651.7,507 1653.09,506.75 1654.49,506.51 1655.88,506.27 1657.28,506.03 1658.67,505.78 1660.06,505.54 1661.46,505.3 1662.85,505.05 1664.24,504.81 1665.64,504.57 1667.03,504.32 1668.43,504.08 1669.82,503.84 1671.21,503.6 1672.61,503.35 1674,503.11" fill="none" stroke="#be46e6" stroke-width="3.2"/>
<polygon points="1406.4,690.5 1407.79,689.52 1409.19,688.54 1410.58,687.56 1411.98,686.58 1413.37,685.6 1414.76,684.99 1416.16,684.47 1417.55,683.95 1418.94,683.43 1420.34,682.91 1421.73,682.39 1423.12,681.87 1424.52,681.35 1425.91,680.83 1427.31,680.31 1428.7,679.77 1430.09,679.23 1431.49,678.69 1432.88,678.15 1434.28,677.6 1435.67,677.06 1437.06,676.52 1438.46,675.98 1439.85,675.44 1441.24,674.9 1442.64,674.15 1444.03,673.35 1445.43,672.55 1446.82,671.75 1448.21,670.95 1449.61,670.15 1451,669.35 1452.39,668.55 1453.79,667.75 1455.18,666.95 1456.58,665.34 1457.97,663.53 1459.36,661.71 1460.76,659.9 1462.15,658.09 1463.54,655.83 1464.94,653.57 1466.33,651.31 1467.73,649.04 1469.12,646.78 1470.51,644.16 1471.91,641.46 1473.3,638.75 1474.69,636.17 1476.09,633.6 1477.48,631.22 1478.88,628.85 1480.27,626.47 1481.66,624.1 1483.06,621.73 1484.45,619.72 1485.84,617.81 1487.24,615.9 1488.63,613.99 1490.03,612.07 1491.42,610.16 1492.81,608.25 1494.21,606.34 1495.6,604.43 1496.99,602.52 1498.39,601.05 1499.78,599.7 1501.18,598.35 1502.57,596.99 1503.96,595.64 1505.36,594.29 1506.75,592.93 1508.14,591.58 1509.54,590.23 1510.93,588.87 1512.33,587.82 1513.72,586.83 1515.11,585.85 1516.51,584.86 1517.9,583.88 1519.29,582.89 1520.69,581.91 1522.08,580.92 1523.48,579.94 1524.87,578.99 1526.26,578.18 1527.66,577.38 1529.05,576.58 1530.44,575.78 1531.84,574.97 1533.23,574.17 1534.62,573.37 1536.02,572.57 1537.41,571.76 1538.81,570.96 1540.2,570.16 1541.59,569.27 1542.99,568.38 1544.38,567.5 1545.78,566.61 1547.17,565.72 1548.56,564.83 1549.96,563.95 1551.35,563.06 1552.74,562.17 1554.14,561.29 1555.53,560.4 1556.93,559.51 1558.32,558.62 1559.71,557.74 1561.11,556.85 1562.5,555.96 1563.89,555.08 1565.29,554.19 1566.68,553.3 1568.08,552.43 1569.47,551.57 1570.86,550.71 1572.26,549.85 1573.65,548.99 1575.04,548.14 1576.44,547.28 1577.83,546.42 1579.23,545.56 1580.62,544.71 1582.01,543.85 1583.41,542.99 1584.8,542.13 1586.19,541.27 1587.59,540.42 1588.98,539.56 1590.38,538.7 1591.77,537.84 1593.16,536.99 1594.56,536.13 1595.95,535.36 1597.34,534.71 1598.74,534.07 1600.13,533.43 1601.53,532.78 1602.92,532.14 1604.31,531.5 1605.71,530.86 1607.1,530.21 1608.49,529.57 1609.89,528.93 1611.28,528.28 1612.68,527.64 1614.07,527 1615.46,526.35 1616.86,525.71 1618.25,525.07 1619.64,524.43 1621.04,523.78 1622.43,523.14 1623.83,522.58 1625.22,522.13 1626.61,521.68 1628.01,521.23 1629.4,520.78 1630.79,520.33 1632.19,519.88 1633.58,519.43 1634.98,518.99 1636.37,518.54 1637.76,518.09 1639.16,517.64 1640.55,517.19 1641.94,516.74 1643.34,516.29 1644.73,515.85 1646.12,515.4 1647.52,514.95 1648.91,514.5 1650.31,514.05 1651.7,513.7 1653.09,513.37 1654.49,513.05 1655.88,512.72 1657.28,512.4 1658.67,512.07 1660.06,511.74 1661.46,511.42 1662.85,511.09 1664.24,510.77 1665.64,510.44 1667.03,510.11 1668.43,509.79 1669.82,509.46 1671.21,509.13 1672.61,508.81 1674,508.48 1674,517.08 1672.61,517.49 1671.21,517.91 1669.82,518.32 1668.43,518.74 1667.03,519.16 1665.64,519.57 1664.24,519.99 1662.85,520.4 1661.46,520.82 1660.06,521.23 1658.67,521.65 1657.28,522.07 1655.88,522.48 1654.49,522.9 1653.09,523.31 1651.7,523.73 1650.31,524.17 1648.91,524.71 1647.52,525.25 1646.12,525.78 1644.73,526.32 1643.34,526.86 1641.94,527.4 1640.55,527.94 1639.16,528.47 1637.76,529.01 1636.37,529.55 1634.98,530.09 1633.58,530.63 1632.19,531.17 1630.79,531.7 1629.4,532.24 1628.01,532.78 1626.61,533.32 1625.22,533.86 1623.83,534.39 1622.43,535.05 1621.04,535.78 1619.64,536.51 1618.25,537.25 1616.86,537.98 1615.46,538.71 1614.07,539.44 1612.68,540.18 1611.28,540.91 1609.89,541.64 1608.49,542.37 1607.1,543.11 1605.71,543.84 1604.31,544.57 1602.92,545.3 1601.53,546.04 1600.13,546.77 1598.74,547.5 1597.34,548.23 1595.95,548.97 1594.56,549.83 1593.16,550.77 1591.77,551.72 1590.38,552.67 1588.98,553.62 1587.59,554.56 1586.19,555.51 1584.8,556.46 1583.41,557.41 1582.01,558.35 1580.62,559.3 1579.23,560.25 1577.83,561.2 1576.44,562.14 1575.04,563.09 1573.65,564.04 1572.26,564.98 1570.86,565.93 1569.47,566.88 1568.08,567.83 1566.68,568.79 1565.29,569.77 1563.89,570.75 1562.5,571.72 1561.11,572.7 1559.71,573.68 1558.32,574.65 1556.93,575.63 1555.53,576.61 1554.14,577.58 1552.74,578.56 1551.35,579.54 1549.96,580.51 1548.56,581.49 1547.17,582.47 1545.78,583.44 1544.38,584.42 1542.99,585.4 1541.59,586.37 1540.2,587.35 1538.81,588.2 1537.41,589.04 1536.02,589.89 1534.62,590.74 1533.23,591.59 1531.84,592.43 1530.44,593.28 1529.05,594.13 1527.66,594.98 1526.26,595.82 1524.87,596.67 1523.48,597.67 1522.08,598.69 1520.69,599.72 1519.29,600.75 1517.9,601.78 1516.51,602.81 1515.11,603.84 1513.72,604.87 1512.33,605.9 1510.93,607.01 1509.54,608.4 1508.14,609.8 1506.75,611.2 1505.36,612.6 1503.96,614 1502.57,615.39 1501.18,616.79 1499.78,618.19 1498.39,619.59 1496.99,621.1 1495.6,623.05 1494.21,625.01 1492.81,626.97 1491.42,628.92 1490.03,630.88 1488.63,632.83 1487.24,634.79 1485.84,636.75 1484.45,638.7 1483.06,640.75 1481.66,643.17 1480.27,645.59 1478.88,648.01 1477.48,650.43 1476.09,652.85 1474.69,655.47 1473.3,658.09 1471.91,660.57 1470.51,663.06 1469.12,665.45 1467.73,667.49 1466.33,669.53 1464.94,671.56 1463.54,673.6 1462.15,675.64 1460.76,677.23 1459.36,678.82 1457.97,680.41 1456.58,682 1455.18,683.38 1453.79,683.96 1452.39,684.53 1451,685.11 1449.61,685.69 1448.21,686.26 1446.82,686.84 1445.43,687.41 1444.03,687.99 1442.64,688.56 1441.24,689.09 1439.85,689.41 1438.46,689.72 1437.06,690.04 1435.67,690.36 1434.28,690.68 1432.88,691 1431.49,691.31 1430.09,691.63 1428.7,691.95 1427.31,692.26 1425.91,692.56 1424.52,692.86 1423.12,693.15 1421.73,693.45 1420.34,693.74 1418.94,694.04 1417.55,694.34 1416.16,694.63 1414.76,694.93 1413.37,695.32 1411.98,696.07 1410.58,696.83 1409.19,697.59 1407.79,698.34 1406.4,699.1" fill="url(#pUBS54)" stroke="#b4190f" stroke-width="1.2"/>
<polyline points="1406.4,694.8 1407.79,693.93 1409.19,693.06 1410.58,692.2 1411.98,691.33 1413.37,690.46 1414.76,689.96 1416.16,689.55 1417.55,689.14 1418.94,688.74 1420.34,688.33 1421.73,687.92 1423.12,687.51 1424.52,687.1 1425.91,686.69 1427.31,686.29 1428.7,685.86 1430.09,685.43 1431.49,685 1432.88,684.57 1434.28,684.14 1435.67,683.71 1437.06,683.28 1438.46,682.85 1439.85,682.42 1441.24,681.99 1442.64,681.36 1444.03,680.67 1445.43,679.98 1446.82,679.29 1448.21,678.61 1449.61,677.92 1451,677.23 1452.39,676.54 1453.79,675.85 1455.18,675.17 1456.58,673.67 1457.97,671.97 1459.36,670.27 1460.76,668.56 1462.15,666.86 1463.54,664.71 1464.94,662.56 1466.33,660.42 1467.73,658.27 1469.12,656.12 1470.51,653.61 1471.91,651.01 1473.3,648.42 1474.69,645.82 1476.09,643.22 1477.48,640.83 1478.88,638.43 1480.27,636.03 1481.66,633.64 1483.06,631.24 1484.45,629.21 1485.84,627.28 1487.24,625.34 1488.63,623.41 1490.03,621.48 1491.42,619.54 1492.81,617.61 1494.21,615.67 1495.6,613.74 1496.99,611.81 1498.39,610.32 1499.78,608.94 1501.18,607.57 1502.57,606.19 1503.96,604.82 1505.36,603.44 1506.75,602.07 1508.14,600.69 1509.54,599.32 1510.93,597.94 1512.33,596.86 1513.72,595.85 1515.11,594.84 1516.51,593.84 1517.9,592.83 1519.29,591.82 1520.69,590.82 1522.08,589.81 1523.48,588.8 1524.87,587.83 1526.26,587 1527.66,586.18 1529.05,585.35 1530.44,584.53 1531.84,583.7 1533.23,582.88 1534.62,582.05 1536.02,581.23 1537.41,580.4 1538.81,579.58 1540.2,578.75 1541.59,577.82 1542.99,576.89 1544.38,575.96 1545.78,575.03 1547.17,574.09 1548.56,573.16 1549.96,572.23 1551.35,571.3 1552.74,570.37 1554.14,569.43 1555.53,568.5 1556.93,567.57 1558.32,566.64 1559.71,565.71 1561.11,564.77 1562.5,563.84 1563.89,562.91 1565.29,561.98 1566.68,561.05 1568.08,560.13 1569.47,559.22 1570.86,558.32 1572.26,557.42 1573.65,556.52 1575.04,555.61 1576.44,554.71 1577.83,553.81 1579.23,552.91 1580.62,552 1582.01,551.1 1583.41,550.2 1584.8,549.3 1586.19,548.39 1587.59,547.49 1588.98,546.59 1590.38,545.69 1591.77,544.78 1593.16,543.88 1594.56,542.98 1595.95,542.16 1597.34,541.47 1598.74,540.79 1600.13,540.1 1601.53,539.41 1602.92,538.72 1604.31,538.03 1605.71,537.35 1607.1,536.66 1608.49,535.97 1609.89,535.28 1611.28,534.6 1612.68,533.91 1614.07,533.22 1615.46,532.53 1616.86,531.85 1618.25,531.16 1619.64,530.47 1621.04,529.78 1622.43,529.09 1623.83,528.48 1625.22,527.99 1626.61,527.5 1628.01,527 1629.4,526.51 1630.79,526.02 1632.19,525.52 1633.58,525.03 1634.98,524.54 1636.37,524.04 1637.76,523.55 1639.16,523.06 1640.55,522.56 1641.94,522.07 1643.34,521.58 1644.73,521.08 1646.12,520.59 1647.52,520.1 1648.91,519.6 1650.31,519.11 1651.7,518.72 1653.09,518.34 1654.49,517.97 1655.88,517.6 1657.28,517.23 1658.67,516.86 1660.06,516.49 1661.46,516.12 1662.85,515.75 1664.24,515.38 1665.64,515.01 1667.03,514.63 1668.43,514.26 1669.82,513.89 1671.21,513.52 1672.61,513.15 1674,512.78" fill="none" stroke="#b4190f" stroke-width="3.2"/>
<text x="1765.61" y="476.4" font-size="31.5" textLength="166.9" lengthAdjust="spacingAndGlyphs">Kidney EpC</text>
<text x="1802.16" y="774.3" font-size="30" textLength="106.72" lengthAdjust="spacingAndGlyphs">Time (h)</text>
<line x1="1713.3" y1="477" x2="1713.3" y2="738" stroke="#000" stroke-width="2.2"/>
<line x1="1702.8" y1="695.3" x2="1997" y2="695.3" stroke="#000" stroke-width="2.2"/>
<line x1="1702.8" y1="695.3" x2="1713.3" y2="695.3" stroke="#000" stroke-width="2.2"/>
<line x1="1702.8" y1="640.97" x2="1713.3" y2="640.97" stroke="#000" stroke-width="2.2"/>
<line x1="1702.8" y1="586.65" x2="1713.3" y2="586.65" stroke="#000" stroke-width="2.2"/>
<line x1="1702.8" y1="532.33" x2="1713.3" y2="532.33" stroke="#000" stroke-width="2.2"/>
<line x1="1702.8" y1="478" x2="1713.3" y2="478" stroke="#000" stroke-width="2.2"/>
<line x1="1758.58" y1="695.3" x2="1758.58" y2="705.8" stroke="#000" stroke-width="2.2"/>
<text x="1750.82" y="734.8" font-size="30" textLength="15.52" lengthAdjust="spacingAndGlyphs">8</text>
<line x1="1803.86" y1="695.3" x2="1803.86" y2="705.8" stroke="#000" stroke-width="2.2"/>
<text x="1787.89" y="734.8" font-size="30" textLength="31.03" lengthAdjust="spacingAndGlyphs">16</text>
<line x1="1849.14" y1="695.3" x2="1849.14" y2="705.8" stroke="#000" stroke-width="2.2"/>
<text x="1833.33" y="734.8" font-size="30" textLength="31.03" lengthAdjust="spacingAndGlyphs">24</text>
<line x1="1894.42" y1="695.3" x2="1894.42" y2="705.8" stroke="#000" stroke-width="2.2"/>
<text x="1879.07" y="734.8" font-size="30" textLength="31.03" lengthAdjust="spacingAndGlyphs">32</text>
<line x1="1939.7" y1="695.3" x2="1939.7" y2="705.8" stroke="#000" stroke-width="2.2"/>
<text x="1924.41" y="734.8" font-size="30" textLength="31.03" lengthAdjust="spacingAndGlyphs">40</text>
<line x1="1984.98" y1="695.3" x2="1984.98" y2="705.8" stroke="#000" stroke-width="2.2"/>
<text x="1969.75" y="734.8" font-size="30" textLength="31.03" lengthAdjust="spacingAndGlyphs">48</text>
<polygon points="1713.7,693.13 1716.53,692.86 1719.36,692.58 1722.19,692.31 1725.02,692.04 1727.85,691.77 1730.68,691.5 1733.51,691.23 1736.34,690.95 1739.17,690.68 1742,690.41 1744.83,690.14 1747.66,689.87 1750.49,689.6 1753.32,689.32 1756.15,689.05 1758.98,688.78 1761.81,688.24 1764.64,687.69 1767.47,687.15 1770.3,686.61 1773.13,686.06 1775.96,685.52 1778.79,684.98 1781.62,684.43 1784.45,683.89 1787.28,683.35 1790.11,682.81 1792.94,682.26 1795.77,681.72 1798.6,681.18 1801.43,680.63 1804.26,680.09 1807.09,679.41 1809.92,678.73 1812.75,678.05 1815.58,677.37 1818.41,676.69 1821.24,676.01 1824.07,675.34 1826.9,674.66 1829.73,673.98 1832.56,673.3 1835.39,672.62 1838.22,671.94 1841.05,671.26 1843.88,670.58 1846.71,669.9 1849.54,669.22 1852.37,668.54 1855.2,667.87 1858.03,667.19 1860.86,666.51 1863.69,665.83 1866.52,665.15 1869.35,664.47 1872.18,663.79 1875.01,663.11 1877.84,662.43 1880.67,661.75 1883.5,661.08 1886.33,660.4 1889.16,659.72 1891.99,659.04 1894.82,658.36 1897.65,657.95 1900.48,657.54 1903.31,657.14 1906.14,656.73 1908.97,656.32 1911.8,655.91 1914.63,655.51 1917.46,655.1 1920.29,654.69 1923.12,654.28 1925.95,653.88 1928.78,653.47 1931.61,653.06 1934.44,652.65 1937.27,652.25 1940.1,651.84 1942.93,651.43 1945.76,651.03 1948.59,650.62 1951.42,650.21 1954.25,649.8 1957.08,649.4 1959.91,648.99 1962.74,648.58 1965.57,648.17 1968.4,647.77 1971.23,647.36 1974.06,646.95 1976.89,646.54 1979.72,646.14 1982.55,645.73 1985.38,645.32 1985.38,685.52 1982.55,685.52 1979.72,685.52 1976.89,685.52 1974.06,685.52 1971.23,685.52 1968.4,685.52 1965.57,685.52 1962.74,685.52 1959.91,685.52 1957.08,685.52 1954.25,685.52 1951.42,685.52 1948.59,685.52 1945.76,685.52 1942.93,685.52 1940.1,685.52 1937.27,685.59 1934.44,685.66 1931.61,685.73 1928.78,685.79 1925.95,685.86 1923.12,685.93 1920.29,686 1917.46,686.06 1914.63,686.13 1911.8,686.2 1908.97,686.27 1906.14,686.34 1903.31,686.4 1900.48,686.47 1897.65,686.54 1894.82,686.61 1891.99,686.88 1889.16,687.15 1886.33,687.42 1883.5,687.69 1880.67,687.97 1877.84,688.24 1875.01,688.51 1872.18,688.78 1869.35,689.05 1866.52,689.32 1863.69,689.6 1860.86,689.87 1858.03,690.14 1855.2,690.41 1852.37,690.68 1849.54,690.95 1846.71,691.09 1843.88,691.23 1841.05,691.36 1838.22,691.5 1835.39,691.63 1832.56,691.77 1829.73,691.9 1826.9,692.04 1824.07,692.18 1821.24,692.31 1818.41,692.45 1815.58,692.58 1812.75,692.72 1809.92,692.86 1807.09,692.99 1804.26,693.13 1801.43,693.26 1798.6,693.4 1795.77,693.53 1792.94,693.67 1790.11,693.81 1787.28,693.94 1784.45,694.08 1781.62,694.21 1778.79,694.35 1775.96,694.49 1773.13,694.62 1770.3,694.76 1767.47,694.89 1764.64,695.03 1761.81,695.16 1758.98,695.3 1756.15,695.44 1753.32,695.57 1750.49,695.71 1747.66,695.84 1744.83,695.98 1742,696.11 1739.17,696.25 1736.34,696.39 1733.51,696.52 1730.68,696.66 1727.85,696.79 1725.02,696.93 1722.19,697.07 1719.36,697.2 1716.53,697.34 1713.7,697.47" fill="url(#pY6L)" stroke="#008c50" stroke-width="1.4" stroke-linejoin="round"/>
<polyline points="1713.7,695.3 1716.53,695.03 1719.36,694.76 1722.19,694.49 1725.02,694.21 1727.85,693.94 1730.68,693.67 1733.51,693.4 1736.34,693.13 1739.17,692.86 1742,692.58 1744.83,692.31 1747.66,692.04 1750.49,691.77 1753.32,691.5 1756.15,691.23 1758.98,690.95 1761.81,690.52 1764.64,690.09 1767.47,689.66 1770.3,689.23 1773.13,688.8 1775.96,688.37 1778.79,687.94 1781.62,687.5 1784.45,687.07 1787.28,686.64 1790.11,686.21 1792.94,685.78 1795.77,685.36 1798.6,684.95 1801.43,684.54 1804.26,684.13 1807.09,683.72 1809.92,683.31 1812.75,682.9 1815.58,682.49 1818.41,682.08 1821.24,681.67 1824.07,681.26 1826.9,680.5 1829.73,679.65 1832.56,678.81 1835.39,677.96 1838.22,677.12 1841.05,676.38 1843.88,675.79 1846.71,675.21 1849.54,674.62 1852.37,674.04 1855.2,673.41 1858.03,672.6 1860.86,671.8 1863.69,670.99 1866.52,670.19 1869.35,669.38 1872.18,668.88 1875.01,668.45 1877.84,668.02 1880.67,667.59 1883.5,667.16 1886.33,666.73 1889.16,666.3 1891.99,665.87 1894.82,665.44 1897.65,665.01 1900.48,664.6 1903.31,664.32 1906.14,664.03 1908.97,663.74 1911.8,663.46 1914.63,663.17 1917.46,662.88 1920.29,662.59 1923.12,662.31 1925.95,662.02 1928.78,661.73 1931.61,661.7 1934.44,661.85 1937.27,661.99 1940.1,662.14 1942.93,662.28 1945.76,662.42 1948.59,662.57 1951.42,662.71 1954.25,662.85 1957.08,663 1959.91,663.14 1962.74,663.31 1965.57,663.48 1968.4,663.65 1971.23,663.82 1974.06,663.98 1976.89,664.15 1979.72,664.32 1982.55,664.49 1985.38,664.66" fill="none" stroke="#008c50" stroke-width="3.2"/>
<polygon points="1713.7,693.13 1716.53,692.86 1719.36,692.58 1722.19,692.31 1725.02,692.04 1727.85,691.77 1730.68,691.5 1733.51,691.23 1736.34,690.95 1739.17,690.71 1742,690.48 1744.83,690.24 1747.66,690 1750.49,689.76 1753.32,689.52 1756.15,689.28 1758.98,689.04 1761.81,688.8 1764.64,688.56 1767.47,687.99 1770.3,687.42 1773.13,686.84 1775.96,686.27 1778.79,685.69 1781.62,685.12 1784.45,684.55 1787.28,683.97 1790.11,683.4 1792.94,682.82 1795.77,682.32 1798.6,681.91 1801.43,681.5 1804.26,681.09 1807.09,680.68 1809.92,680.27 1812.75,679.86 1815.58,679.45 1818.41,679.04 1821.24,678.63 1824.07,678.22 1826.9,677.68 1829.73,677.12 1832.56,676.56 1835.39,675.99 1838.22,675.43 1841.05,674.86 1843.88,674.27 1846.71,673.69 1849.54,673.1 1852.37,672.52 1855.2,672.11 1858.03,672.39 1860.86,672.67 1863.69,672.95 1866.52,673.23 1869.35,673.51 1872.18,673.34 1875.01,673.05 1877.84,672.77 1880.67,672.48 1883.5,672.19 1886.33,671.91 1889.16,671.62 1891.99,671.33 1894.82,671.04 1897.65,670.76 1900.48,670.47 1903.31,670.21 1906.14,669.94 1908.97,669.67 1911.8,669.41 1914.63,669.14 1917.46,668.88 1920.29,668.61 1923.12,668.34 1925.95,668.08 1928.78,667.81 1931.61,667.86 1934.44,668.13 1937.27,668.4 1940.1,668.66 1942.93,668.93 1945.76,669.2 1948.59,669.46 1951.42,669.73 1954.25,669.99 1957.08,670.26 1959.91,670.53 1962.74,671.37 1965.57,672.22 1968.4,673.06 1971.23,673.91 1974.06,674.75 1976.89,675.6 1979.72,676.44 1982.55,677.29 1985.38,678.13 1985.38,710.95 1982.55,711.79 1979.72,712.64 1976.89,713.48 1974.06,714.33 1971.23,715.17 1968.4,716.02 1965.57,716.86 1962.74,717.71 1959.91,718.55 1957.08,719.1 1954.25,719.66 1951.42,720.21 1948.59,720.77 1945.76,721.32 1942.93,721.87 1940.1,722.43 1937.27,722.98 1934.44,723.53 1931.61,724.09 1928.78,724.3 1925.95,724.02 1923.12,723.73 1920.29,723.44 1917.46,723.16 1914.63,722.87 1911.8,722.58 1908.97,722.29 1906.14,722.01 1903.31,721.72 1900.48,721.43 1897.65,721.38 1894.82,721.38 1891.99,721.38 1889.16,721.38 1886.33,721.38 1883.5,721.38 1880.67,721.38 1877.84,721.38 1875.01,721.38 1872.18,721.38 1869.35,721.22 1866.52,720.41 1863.69,719.61 1860.86,718.8 1858.03,718 1855.2,717.19 1852.37,717.03 1849.54,717.03 1846.71,717.03 1843.88,717.03 1841.05,717.03 1838.22,716.18 1835.39,714.78 1832.56,713.37 1829.73,711.96 1826.9,710.55 1824.07,709.31 1821.24,708.76 1818.41,708.21 1815.58,707.65 1812.75,707.1 1809.92,706.55 1807.09,705.99 1804.26,705.44 1801.43,704.89 1798.6,704.33 1795.77,703.78 1792.94,703.3 1790.11,702.87 1787.28,702.44 1784.45,702.01 1781.62,701.58 1778.79,701.15 1775.96,700.72 1773.13,700.29 1770.3,699.86 1767.47,699.42 1764.64,698.99 1761.81,699.06 1758.98,699.12 1756.15,699.19 1753.32,699.25 1750.49,699.32 1747.66,699.39 1744.83,699.45 1742,699.52 1739.17,699.58 1736.34,699.65 1733.51,699.37 1730.68,699.1 1727.85,698.83 1725.02,698.56 1722.19,698.29 1719.36,698.02 1716.53,697.74 1713.7,697.47" fill="url(#pNT)" stroke="#646464" stroke-width="1.4" stroke-linejoin="round"/>
<polyline points="1713.7,695.3 1716.53,695.3 1719.36,695.3 1722.19,695.3 1725.02,695.3 1727.85,695.3 1730.68,695.3 1733.51,695.3 1736.34,695.3 1739.17,695.3 1742,695.3 1744.83,695.3 1747.66,695.3 1750.49,695.3 1753.32,695.3 1756.15,695.3 1758.98,695.3 1761.81,695.3 1764.64,695.3 1767.47,695.3 1770.3,695.3 1773.13,695.3 1775.96,695.3 1778.79,695.3 1781.62,695.3 1784.45,695.3 1787.28,695.3 1790.11,695.3 1792.94,695.3 1795.77,695.3 1798.6,695.3 1801.43,695.3 1804.26,695.3 1807.09,695.3 1809.92,695.3 1812.75,695.3 1815.58,695.3 1818.41,695.3 1821.24,695.3 1824.07,695.3 1826.9,695.3 1829.73,695.3 1832.56,695.3 1835.39,695.3 1838.22,695.3 1841.05,695.3 1843.88,695.3 1846.71,695.3 1849.54,695.3 1852.37,695.3 1855.2,695.3 1858.03,695.3 1860.86,695.3 1863.69,695.3 1866.52,695.3 1869.35,695.3 1872.18,695.3 1875.01,695.3 1877.84,695.3 1880.67,695.3 1883.5,695.3 1886.33,695.3 1889.16,695.3 1891.99,695.3 1894.82,695.3 1897.65,695.3 1900.48,695.3 1903.31,695.3 1906.14,695.3 1908.97,695.3 1911.8,695.3 1914.63,695.3 1917.46,695.3 1920.29,695.3 1923.12,695.3 1925.95,695.3 1928.78,695.3 1931.61,695.3 1934.44,695.3 1937.27,695.3 1940.1,695.3 1942.93,695.3 1945.76,695.3 1948.59,695.3 1951.42,695.3 1954.25,695.3 1957.08,695.3 1959.91,695.3 1962.74,695.3 1965.57,695.3 1968.4,695.3 1971.23,695.3 1974.06,695.3 1976.89,695.3 1979.72,695.3 1982.55,695.3 1985.38,695.3" fill="none" stroke="#808080" stroke-width="4"/>
<polygon points="1713.7,694.21 1716.53,693.61 1719.36,693.01 1722.19,692.4 1725.02,691.8 1727.85,691.2 1730.68,690.59 1733.51,689.99 1736.34,689.38 1739.17,688.78 1742,688.18 1744.83,687.57 1747.66,686.97 1750.49,686.37 1753.32,685.76 1756.15,685.16 1758.98,684.56 1761.81,683.95 1764.64,683.35 1767.47,682.73 1770.3,682.12 1773.13,681.5 1775.96,680.89 1778.79,680.27 1781.62,679.66 1784.45,679.04 1787.28,678.43 1790.11,677.81 1792.94,677.2 1795.77,676.58 1798.6,675.97 1801.43,675.35 1804.26,674.74 1807.09,674.12 1809.92,673.51 1812.75,672.89 1815.58,672.28 1818.41,671.66 1821.24,671.05 1824.07,670.43 1826.9,669.78 1829.73,669.12 1832.56,668.46 1835.39,667.8 1838.22,667.13 1841.05,666.47 1843.88,665.81 1846.71,665.15 1849.54,664.49 1852.37,663.83 1855.2,663.16 1858.03,662.5 1860.86,661.84 1863.69,661.18 1866.52,660.52 1869.35,659.86 1872.18,659.19 1875.01,658.53 1877.84,657.87 1880.67,657.21 1883.5,656.55 1886.33,655.89 1889.16,655.22 1891.99,654.56 1894.82,653.9 1897.65,653.24 1900.48,652.64 1903.31,652.29 1906.14,651.93 1908.97,651.58 1911.8,651.23 1914.63,650.88 1917.46,650.52 1920.29,650.17 1923.12,649.82 1925.95,649.47 1928.78,649.11 1931.61,648.76 1934.44,648.41 1937.27,648.06 1940.1,647.7 1942.93,647.35 1945.76,647 1948.59,646.64 1951.42,646.29 1954.25,645.94 1957.08,645.59 1959.91,645.23 1962.74,644.88 1965.57,644.53 1968.4,644.18 1971.23,643.82 1974.06,643.47 1976.89,643.12 1979.72,642.77 1982.55,642.41 1985.38,642.06 1985.38,651.19 1982.55,651.53 1979.72,651.86 1976.89,652.2 1974.06,652.54 1971.23,652.88 1968.4,653.22 1965.57,653.56 1962.74,653.89 1959.91,654.23 1957.08,654.57 1954.25,654.91 1951.42,655.25 1948.59,655.58 1945.76,655.92 1942.93,656.26 1940.1,656.6 1937.27,656.94 1934.44,657.28 1931.61,657.61 1928.78,657.95 1925.95,658.29 1923.12,658.63 1920.29,658.97 1917.46,659.3 1914.63,659.64 1911.8,659.98 1908.97,660.32 1906.14,660.66 1903.31,661 1900.48,661.33 1897.65,661.94 1894.82,662.62 1891.99,663.3 1889.16,663.98 1886.33,664.66 1883.5,665.33 1880.67,666.01 1877.84,666.69 1875.01,667.37 1872.18,668.05 1869.35,668.72 1866.52,669.4 1863.69,670.08 1860.86,670.76 1858.03,671.44 1855.2,672.11 1852.37,672.79 1849.54,673.47 1846.71,674.15 1843.88,674.83 1841.05,675.5 1838.22,676.18 1835.39,676.86 1832.56,677.54 1829.73,678.22 1826.9,678.89 1824.07,679.54 1821.24,680.06 1818.41,680.59 1815.58,681.11 1812.75,681.63 1809.92,682.16 1807.09,682.68 1804.26,683.2 1801.43,683.72 1798.6,684.25 1795.77,684.77 1792.94,685.29 1790.11,685.81 1787.28,686.34 1784.45,686.86 1781.62,687.38 1778.79,687.91 1775.96,688.43 1773.13,688.95 1770.3,689.47 1767.47,690 1764.64,690.52 1761.81,691.32 1758.98,692.13 1756.15,692.93 1753.32,693.74 1750.49,694.54 1747.66,695.34 1744.83,696.15 1742,696.95 1739.17,697.76 1736.34,698.56 1733.51,698.56 1730.68,698.56 1727.85,698.56 1725.02,698.56 1722.19,698.56 1719.36,698.56 1716.53,698.56 1713.7,698.56" fill="url(#pY6A)" stroke="#1e3cff" stroke-width="1.4" stroke-linejoin="round"/>
<polyline points="1713.7,695.3 1716.53,695.03 1719.36,694.76 1722.19,694.49 1725.02,694.21 1727.85,693.94 1730.68,693.67 1733.51,693.4 1736.34,693.13 1739.17,692.52 1742,691.91 1744.83,691.3 1747.66,690.69 1750.49,690.08 1753.32,689.48 1756.15,688.87 1758.98,688.26 1761.81,687.65 1764.64,687.04 1767.47,686.35 1770.3,685.65 1773.13,684.95 1775.96,684.25 1778.79,683.56 1781.62,682.86 1784.45,682.16 1787.28,681.47 1790.11,680.77 1792.94,680.07 1795.77,679.48 1798.6,679.05 1801.43,678.62 1804.26,678.19 1807.09,677.76 1809.92,677.33 1812.75,676.9 1815.58,676.47 1818.41,676.04 1821.24,675.61 1824.07,675.18 1826.9,674.64 1829.73,674.08 1832.56,673.51 1835.39,672.95 1838.22,672.39 1841.05,671.83 1843.88,671.29 1846.71,670.75 1849.54,670.2 1852.37,669.66 1855.2,669 1858.03,667.87 1860.86,666.75 1863.69,665.62 1866.52,664.49 1869.35,663.36 1872.18,662.68 1875.01,662.11 1877.84,661.53 1880.67,660.96 1883.5,660.38 1886.33,659.81 1889.16,659.24 1891.99,658.66 1894.82,658.09 1897.65,657.51 1900.48,657.03 1903.31,656.88 1906.14,656.74 1908.97,656.6 1911.8,656.45 1914.63,656.31 1917.46,656.17 1920.29,656.02 1923.12,655.88 1925.95,655.74 1928.78,655.59 1931.61,655.29 1934.44,654.88 1937.27,654.47 1940.1,654.06 1942.93,653.65 1945.76,653.24 1948.59,652.83 1951.42,652.42 1954.25,652.01 1957.08,651.6 1959.91,651.19 1962.74,650.68 1965.57,650.17 1968.4,649.67 1971.23,649.16 1974.06,648.65 1976.89,648.15 1979.72,647.64 1982.55,647.13 1985.38,646.62" fill="none" stroke="#1e3cff" stroke-width="3.2"/>
<polygon points="1713.7,693.13 1716.53,692.04 1719.36,690.95 1722.19,689.87 1725.02,688.78 1727.85,687.69 1730.68,686.61 1733.51,685.52 1736.34,684.43 1739.17,683.65 1742,682.87 1744.83,682.09 1747.66,681.31 1750.49,680.52 1753.32,679.74 1756.15,678.96 1758.98,678.18 1761.81,677.39 1764.64,676.61 1767.47,675.77 1770.3,674.93 1773.13,674.09 1775.96,673.25 1778.79,672.41 1781.62,671.57 1784.45,670.73 1787.28,669.89 1790.11,669.05 1792.94,668.21 1795.77,667.53 1798.6,667.1 1801.43,666.67 1804.26,666.24 1807.09,665.81 1809.92,665.38 1812.75,664.95 1815.58,664.52 1818.41,664.09 1821.24,663.66 1824.07,663.23 1826.9,661.37 1829.73,659.16 1832.56,656.94 1835.39,654.73 1838.22,652.52 1841.05,651.07 1843.88,650.78 1846.71,650.49 1849.54,650.19 1852.37,649.9 1855.2,649.34 1858.03,647.69 1860.86,646.04 1863.69,644.39 1866.52,642.74 1869.35,641.09 1872.18,639.86 1875.01,638.73 1877.84,637.6 1880.67,636.47 1883.5,635.35 1886.33,634.22 1889.16,633.09 1891.99,631.96 1894.82,630.84 1897.65,629.71 1900.48,628.66 1903.31,627.95 1906.14,627.23 1908.97,626.51 1911.8,625.79 1914.63,625.08 1917.46,624.36 1920.29,623.64 1923.12,622.92 1925.95,622.21 1928.78,621.49 1931.61,620.78 1934.44,620.09 1937.27,619.39 1940.1,618.69 1942.93,617.99 1945.76,617.3 1948.59,616.6 1951.42,615.9 1954.25,615.21 1957.08,614.51 1959.91,613.81 1962.74,612.63 1965.57,611.45 1968.4,610.26 1971.23,609.08 1974.06,607.9 1976.89,606.71 1979.72,605.53 1982.55,604.35 1985.38,603.16 1985.38,646.62 1982.55,646.96 1979.72,647.3 1976.89,647.64 1974.06,647.98 1971.23,648.31 1968.4,648.65 1965.57,648.99 1962.74,649.33 1959.91,649.67 1957.08,650.1 1954.25,650.53 1951.42,650.96 1948.59,651.39 1945.76,651.82 1942.93,652.25 1940.1,652.68 1937.27,653.11 1934.44,653.54 1931.61,653.97 1928.78,654.28 1925.95,654.4 1923.12,654.53 1920.29,654.65 1917.46,654.77 1914.63,654.89 1911.8,655.02 1908.97,655.14 1906.14,655.26 1903.31,655.39 1900.48,655.51 1897.65,656.11 1894.82,656.83 1891.99,657.54 1889.16,658.26 1886.33,658.98 1883.5,659.7 1880.67,660.41 1877.84,661.13 1875.01,661.85 1872.18,662.57 1869.35,663.31 1866.52,664.15 1863.69,665 1860.86,665.84 1858.03,666.69 1855.2,667.53 1852.37,668.14 1849.54,668.68 1846.71,669.22 1843.88,669.77 1841.05,670.31 1838.22,671.2 1835.39,672.33 1832.56,673.46 1829.73,674.58 1826.9,675.71 1824.07,676.67 1821.24,676.96 1818.41,677.24 1815.58,677.53 1812.75,677.82 1809.92,678.1 1807.09,678.39 1804.26,678.68 1801.43,678.97 1798.6,679.25 1795.77,679.54 1792.94,679.99 1790.11,680.54 1787.28,681.09 1784.45,681.65 1781.62,682.2 1778.79,682.75 1775.96,683.31 1773.13,683.86 1770.3,684.41 1767.47,684.97 1764.64,685.52 1761.81,686.28 1758.98,687.04 1756.15,687.8 1753.32,688.56 1750.49,689.32 1747.66,690.08 1744.83,690.85 1742,691.61 1739.17,692.37 1736.34,693.13 1733.51,693.67 1730.68,694.21 1727.85,694.76 1725.02,695.3 1722.19,695.84 1719.36,696.39 1716.53,696.93 1713.7,697.47" fill="url(#pY6V)" stroke="#965000" stroke-width="1.4" stroke-linejoin="round"/>
<polyline points="1713.7,695.3 1716.53,694.49 1719.36,693.67 1722.19,692.86 1725.02,692.04 1727.85,691.23 1730.68,690.41 1733.51,689.6 1736.34,688.78 1739.17,688.02 1742,687.26 1744.83,686.5 1747.66,685.74 1750.49,684.98 1753.32,684.22 1756.15,683.46 1758.98,682.7 1761.81,681.94 1764.64,681.18 1767.47,680.46 1770.3,679.74 1773.13,679.02 1775.96,678.31 1778.79,677.59 1781.62,676.87 1784.45,676.15 1787.28,675.44 1790.11,674.72 1792.94,674 1795.77,673.41 1798.6,673 1801.43,672.59 1804.26,672.18 1807.09,671.77 1809.92,671.36 1812.75,670.95 1815.58,670.54 1818.41,670.13 1821.24,669.72 1824.07,669.31 1826.9,668.55 1829.73,667.7 1832.56,666.86 1835.39,666.01 1838.22,665.17 1841.05,664.19 1843.88,663.02 1846.71,661.85 1849.54,660.68 1852.37,659.51 1855.2,658.42 1858.03,657.61 1860.86,656.81 1863.69,656 1866.52,655.2 1869.35,654.39 1872.18,653.54 1875.01,652.68 1877.84,651.82 1880.67,650.96 1883.5,650.1 1886.33,649.24 1889.16,648.38 1891.99,647.51 1894.82,646.65 1897.65,645.79 1900.48,644.96 1903.31,644.27 1906.14,643.57 1908.97,642.87 1911.8,642.18 1914.63,641.48 1917.46,640.78 1920.29,640.09 1923.12,639.39 1925.95,638.69 1928.78,637.99 1931.61,637.37 1934.44,636.8 1937.27,636.22 1940.1,635.65 1942.93,635.08 1945.76,634.5 1948.59,633.93 1951.42,633.35 1954.25,632.78 1957.08,632.21 1959.91,631.63 1962.74,630.81 1965.57,629.99 1968.4,629.17 1971.23,628.35 1974.06,627.53 1976.89,626.71 1979.72,625.88 1982.55,625.06 1985.38,624.24" fill="none" stroke="#965000" stroke-width="3.2"/>
<polygon points="1713.7,692.04 1715.12,691.13 1716.53,690.23 1717.94,689.32 1719.36,688.41 1720.78,687.58 1722.19,686.81 1723.61,686.04 1725.02,685.27 1726.43,684.5 1727.85,683.72 1729.27,682.95 1730.68,682.18 1732.1,681.41 1733.51,680.64 1734.92,679.86 1736.34,679.09 1737.76,678.31 1739.17,677.53 1740.59,676.75 1742,675.97 1743.41,675.19 1744.83,674.42 1746.25,673.64 1747.66,672.86 1749.08,672.08 1750.49,670.9 1751.9,669.12 1753.32,667.34 1754.74,665.56 1756.15,663.78 1757.57,661.82 1758.98,659.16 1760.39,656.5 1761.81,653.84 1763.23,651.18 1764.64,648.53 1766.06,646.1 1767.47,643.68 1768.88,641.26 1770.3,638.84 1771.72,636.42 1773.13,633.99 1774.55,631.57 1775.96,629.15 1777.38,626.73 1778.79,624.31 1780.2,621.95 1781.62,619.86 1783.04,617.84 1784.45,615.83 1785.87,613.82 1787.28,611.81 1788.7,609.8 1790.11,607.79 1791.53,605.77 1792.94,603.76 1794.36,601.75 1795.77,599.93 1797.18,598.15 1798.6,596.38 1800.02,594.6 1801.43,592.82 1802.85,591.05 1804.26,589.27 1805.67,587.5 1807.09,585.72 1808.51,583.95 1809.92,582.17 1811.34,580.6 1812.75,579.03 1814.16,577.45 1815.58,575.88 1817,574.31 1818.41,572.73 1819.83,571.16 1821.24,569.59 1822.65,568.02 1824.07,566.44 1825.49,565.19 1826.9,564.16 1828.32,563.13 1829.73,562.1 1831.14,561.07 1832.56,560.04 1833.98,559.01 1835.39,557.98 1836.81,556.95 1838.22,555.91 1839.63,554.88 1841.05,554.05 1842.47,553.27 1843.88,552.5 1845.3,551.72 1846.71,550.94 1848.12,550.16 1849.54,549.38 1850.95,548.6 1852.37,547.82 1853.79,547.04 1855.2,546.31 1856.62,545.64 1858.03,544.97 1859.45,544.3 1860.86,543.63 1862.28,542.96 1863.69,542.29 1865.11,541.63 1866.52,540.96 1867.93,540.29 1869.35,539.62 1870.77,538.85 1872.18,538.01 1873.6,537.18 1875.01,536.34 1876.42,535.51 1877.84,534.67 1879.26,533.84 1880.67,533 1882.09,532.16 1883.5,531.33 1884.91,530.49 1886.33,529.66 1887.75,528.82 1889.16,527.99 1890.58,527.15 1891.99,526.31 1893.4,525.48 1894.82,524.64 1896.24,523.81 1897.65,522.97 1899.07,522.14 1900.48,521.39 1901.89,520.77 1903.31,520.15 1904.73,519.53 1906.14,518.91 1907.56,518.28 1908.97,517.66 1910.38,517.04 1911.8,516.42 1913.22,515.8 1914.63,515.18 1916.05,514.56 1917.46,513.94 1918.88,513.32 1920.29,512.7 1921.7,512.08 1923.12,511.46 1924.54,510.84 1925.95,510.22 1927.37,509.6 1928.78,508.98 1930.2,508.39 1931.61,507.91 1933.03,507.43 1934.44,506.96 1935.86,506.48 1937.27,506 1938.68,505.53 1940.1,505.05 1941.52,504.57 1942.93,504.09 1944.35,503.62 1945.76,503.14 1947.17,502.66 1948.59,502.19 1950.01,501.71 1951.42,501.23 1952.84,500.76 1954.25,500.28 1955.66,499.8 1957.08,499.33 1958.5,498.85 1959.91,498.37 1961.33,498.05 1962.74,497.73 1964.15,497.4 1965.57,497.08 1966.99,496.76 1968.4,496.43 1969.82,496.11 1971.23,495.79 1972.64,495.47 1974.06,495.14 1975.48,494.82 1976.89,494.5 1978.31,494.17 1979.72,493.85 1981.13,493.53 1982.55,493.2 1983.97,492.88 1985.38,492.56 1985.38,501.25 1983.97,501.6 1982.55,501.96 1981.13,502.31 1979.72,502.66 1978.31,503.02 1976.89,503.37 1975.48,503.72 1974.06,504.08 1972.64,504.43 1971.23,504.78 1969.82,505.14 1968.4,505.49 1966.99,505.84 1965.57,506.19 1964.15,506.55 1962.74,506.9 1961.33,507.25 1959.91,507.61 1958.5,508.11 1957.08,508.62 1955.66,509.13 1954.25,509.64 1952.84,510.14 1951.42,510.65 1950.01,511.16 1948.59,511.66 1947.17,512.17 1945.76,512.68 1944.35,513.19 1942.93,513.69 1941.52,514.2 1940.1,514.71 1938.68,515.21 1937.27,515.72 1935.86,516.23 1934.44,516.73 1933.03,517.24 1931.61,517.75 1930.2,518.26 1928.78,518.88 1927.37,519.53 1925.95,520.18 1924.54,520.83 1923.12,521.48 1921.7,522.13 1920.29,522.78 1918.88,523.43 1917.46,524.08 1916.05,524.73 1914.63,525.38 1913.22,526.03 1911.8,526.68 1910.38,527.34 1908.97,527.99 1907.56,528.64 1906.14,529.29 1904.73,529.94 1903.31,530.59 1901.89,531.24 1900.48,531.89 1899.07,532.67 1897.65,533.54 1896.24,534.4 1894.82,535.27 1893.4,536.13 1891.99,537 1890.58,537.86 1889.16,538.73 1887.75,539.6 1886.33,540.46 1884.91,541.33 1883.5,542.19 1882.09,543.06 1880.67,543.93 1879.26,544.79 1877.84,545.66 1876.42,546.52 1875.01,547.39 1873.6,548.25 1872.18,549.12 1870.77,549.99 1869.35,550.79 1867.93,551.48 1866.52,552.18 1865.11,552.88 1863.69,553.58 1862.28,554.28 1860.86,554.98 1859.45,555.68 1858.03,556.38 1856.62,557.08 1855.2,557.78 1853.79,558.54 1852.37,559.35 1850.95,560.16 1849.54,560.97 1848.12,561.78 1846.71,562.59 1845.3,563.4 1843.88,564.21 1842.47,565.01 1841.05,565.82 1839.63,566.68 1838.22,567.74 1836.81,568.81 1835.39,569.87 1833.98,570.93 1832.56,571.99 1831.14,573.05 1829.73,574.11 1828.32,575.17 1826.9,576.24 1825.49,577.3 1824.07,578.58 1822.65,580.18 1821.24,581.78 1819.83,583.38 1818.41,584.99 1817,586.59 1815.58,588.19 1814.16,589.8 1812.75,591.4 1811.34,593 1809.92,594.61 1808.51,596.41 1807.09,598.22 1805.67,600.02 1804.26,601.83 1802.85,603.63 1801.43,605.44 1800.02,607.25 1798.6,609.05 1797.18,610.86 1795.77,612.66 1794.36,614.52 1792.94,616.56 1791.53,618.6 1790.11,620.64 1788.7,622.68 1787.28,624.73 1785.87,626.77 1784.45,628.81 1783.04,630.85 1781.62,632.89 1780.2,634.85 1778.79,637.07 1777.38,639.36 1775.96,641.65 1774.55,643.93 1773.13,646.22 1771.72,648.5 1770.3,650.79 1768.88,653.08 1767.47,655.36 1766.06,657.65 1764.64,659.93 1763.23,662.46 1761.81,664.98 1760.39,667.5 1758.98,670.03 1757.57,672.55 1756.15,674.37 1754.74,676.02 1753.32,677.66 1751.9,679.31 1750.49,680.95 1749.08,682 1747.66,682.64 1746.25,683.28 1744.83,683.92 1743.41,684.57 1742,685.21 1740.59,685.85 1739.17,686.49 1737.76,687.14 1736.34,687.78 1734.92,688.42 1733.51,689.06 1732.1,689.69 1730.68,690.33 1729.27,690.96 1727.85,691.6 1726.43,692.24 1725.02,692.87 1723.61,693.51 1722.19,694.15 1720.78,694.78 1719.36,695.47 1717.94,696.24 1716.53,697.02 1715.12,697.79 1713.7,698.56" fill="url(#pUBS54)" stroke="#b4190f" stroke-width="1.2"/>
<polyline points="1713.7,695.3 1715.12,694.46 1716.53,693.62 1717.94,692.78 1719.36,691.94 1720.78,691.18 1722.19,690.48 1723.61,689.77 1725.02,689.07 1726.43,688.37 1727.85,687.66 1729.27,686.96 1730.68,686.25 1732.1,685.55 1733.51,684.85 1734.92,684.14 1736.34,683.43 1737.76,682.72 1739.17,682.01 1740.59,681.3 1742,680.59 1743.41,679.88 1744.83,679.17 1746.25,678.46 1747.66,677.75 1749.08,677.04 1750.49,675.93 1751.9,674.21 1753.32,672.5 1754.74,670.79 1756.15,669.07 1757.57,667.18 1758.98,664.59 1760.39,662 1761.81,659.41 1763.23,656.82 1764.64,654.23 1766.06,651.88 1767.47,649.52 1768.88,647.17 1770.3,644.81 1771.72,642.46 1773.13,640.11 1774.55,637.75 1775.96,635.4 1777.38,633.04 1778.79,630.69 1780.2,628.4 1781.62,626.37 1783.04,624.35 1784.45,622.32 1785.87,620.29 1787.28,618.27 1788.7,616.24 1790.11,614.21 1791.53,612.19 1792.94,610.16 1794.36,608.13 1795.77,606.3 1797.18,604.5 1798.6,602.71 1800.02,600.92 1801.43,599.13 1802.85,597.34 1804.26,595.55 1805.67,593.76 1807.09,591.97 1808.51,590.18 1809.92,588.39 1811.34,586.8 1812.75,585.21 1814.16,583.62 1815.58,582.04 1817,580.45 1818.41,578.86 1819.83,577.27 1821.24,575.68 1822.65,574.1 1824.07,572.51 1825.49,571.25 1826.9,570.2 1828.32,569.15 1829.73,568.11 1831.14,567.06 1832.56,566.01 1833.98,564.97 1835.39,563.92 1836.81,562.88 1838.22,561.83 1839.63,560.78 1841.05,559.94 1842.47,559.14 1843.88,558.35 1845.3,557.56 1846.71,556.76 1848.12,555.97 1849.54,555.17 1850.95,554.38 1852.37,553.59 1853.79,552.79 1855.2,552.04 1856.62,551.36 1858.03,550.67 1859.45,549.99 1860.86,549.31 1862.28,548.62 1863.69,547.94 1865.11,547.25 1866.52,546.57 1867.93,545.89 1869.35,545.2 1870.77,544.42 1872.18,543.57 1873.6,542.72 1875.01,541.87 1876.42,541.01 1877.84,540.16 1879.26,539.31 1880.67,538.46 1882.09,537.61 1883.5,536.76 1884.91,535.91 1886.33,535.06 1887.75,534.21 1889.16,533.36 1890.58,532.51 1891.99,531.66 1893.4,530.81 1894.82,529.96 1896.24,529.1 1897.65,528.25 1899.07,527.4 1900.48,526.64 1901.89,526 1903.31,525.37 1904.73,524.73 1906.14,524.1 1907.56,523.46 1908.97,522.83 1910.38,522.19 1911.8,521.55 1913.22,520.92 1914.63,520.28 1916.05,519.65 1917.46,519.01 1918.88,518.38 1920.29,517.74 1921.7,517.11 1923.12,516.47 1924.54,515.83 1925.95,515.2 1927.37,514.56 1928.78,513.93 1930.2,513.32 1931.61,512.83 1933.03,512.34 1934.44,511.85 1935.86,511.35 1937.27,510.86 1938.68,510.37 1940.1,509.88 1941.52,509.39 1942.93,508.89 1944.35,508.4 1945.76,507.91 1947.17,507.42 1948.59,506.93 1950.01,506.43 1951.42,505.94 1952.84,505.45 1954.25,504.96 1955.66,504.47 1957.08,503.97 1958.5,503.48 1959.91,502.99 1961.33,502.65 1962.74,502.31 1964.15,501.98 1965.57,501.64 1966.99,501.3 1968.4,500.96 1969.82,500.62 1971.23,500.29 1972.64,499.95 1974.06,499.61 1975.48,499.27 1976.89,498.93 1978.31,498.6 1979.72,498.26 1981.13,497.92 1982.55,497.58 1983.97,497.24 1985.38,496.91" fill="none" stroke="#b4190f" stroke-width="3.2"/>
<polygon points="1713.7,690.95 1715.12,689.02 1716.53,687.09 1717.94,685.16 1719.36,683.23 1720.78,680.52 1722.19,677.29 1723.61,674.06 1725.02,670.83 1726.43,667.6 1727.85,665.11 1729.27,663.74 1730.68,662.36 1732.1,660.99 1733.51,659.62 1734.92,658.24 1736.34,657.22 1737.76,656.29 1739.17,655.36 1740.59,654.43 1742,653.49 1743.41,652.06 1744.83,650.29 1746.25,648.53 1747.66,646.76 1749.08,644.99 1750.49,643.05 1751.9,640.84 1753.32,638.63 1754.74,636.43 1756.15,634.22 1757.57,632.02 1758.98,629.81 1760.39,627.6 1761.81,625.4 1763.23,623.19 1764.64,620.98 1766.06,618.84 1767.47,616.69 1768.88,614.54 1770.3,612.4 1771.72,610.32 1773.13,608.25 1774.55,606.18 1775.96,604.11 1777.38,602.03 1778.79,599.96 1780.2,597.91 1781.62,595.92 1783.04,593.93 1784.45,591.95 1785.87,589.96 1787.28,587.98 1788.7,585.99 1790.11,584.01 1791.53,582.02 1792.94,580.03 1794.36,578.05 1795.77,576.33 1797.18,574.68 1798.6,573.03 1800.02,571.38 1801.43,569.73 1802.85,568.08 1804.26,566.43 1805.67,564.78 1807.09,563.13 1808.51,561.48 1809.92,559.83 1811.34,558.7 1812.75,557.57 1814.16,556.44 1815.58,555.31 1817,554.18 1818.41,553.06 1819.83,551.93 1821.24,550.8 1822.65,549.67 1824.07,548.54 1825.49,547.52 1826.9,546.57 1828.32,545.63 1829.73,544.68 1831.14,543.74 1832.56,542.79 1833.98,541.85 1835.39,540.9 1836.81,539.95 1838.22,539.01 1839.63,538.06 1841.05,537.2 1842.47,536.37 1843.88,535.53 1845.3,534.69 1846.71,533.86 1848.12,533.02 1849.54,532.18 1850.95,531.35 1852.37,530.51 1853.79,529.67 1855.2,528.84 1856.62,528.02 1858.03,527.19 1859.45,526.37 1860.86,525.54 1862.28,524.72 1863.69,523.89 1865.11,523.07 1866.52,522.24 1867.93,521.42 1869.35,520.59 1870.77,519.84 1872.18,519.15 1873.6,518.45 1875.01,517.75 1876.42,517.05 1877.84,516.36 1879.26,515.66 1880.67,514.96 1882.09,514.26 1883.5,513.57 1884.91,512.87 1886.33,512.17 1887.75,511.47 1889.16,510.78 1890.58,510.08 1891.99,509.38 1893.4,508.68 1894.82,507.99 1896.24,507.29 1897.65,506.59 1899.07,505.89 1900.48,505.29 1901.89,504.83 1903.31,504.37 1904.73,503.9 1906.14,503.44 1907.56,502.98 1908.97,502.52 1910.38,502.06 1911.8,501.6 1913.22,501.13 1914.63,500.67 1916.05,500.21 1917.46,499.75 1918.88,499.29 1920.29,498.83 1921.7,498.36 1923.12,497.9 1924.54,497.44 1925.95,496.98 1927.37,496.52 1928.78,496.06 1930.2,495.63 1931.61,495.38 1933.03,495.12 1934.44,494.86 1935.86,494.61 1937.27,494.35 1938.68,494.09 1940.1,493.84 1941.52,493.58 1942.93,493.32 1944.35,493.07 1945.76,492.81 1947.17,492.55 1948.59,492.3 1950.01,492.04 1951.42,491.78 1952.84,491.53 1954.25,491.27 1955.66,491.01 1957.08,490.76 1958.5,490.5 1959.91,490.24 1961.33,490.05 1962.74,489.85 1964.15,489.65 1965.57,489.45 1966.99,489.26 1968.4,489.06 1969.82,488.86 1971.23,488.66 1972.64,488.47 1974.06,488.27 1975.48,488.07 1976.89,487.88 1978.31,487.68 1979.72,487.48 1981.13,487.28 1982.55,487.09 1983.97,486.89 1985.38,486.69 1985.38,493.65 1983.97,493.88 1982.55,494.12 1981.13,494.36 1979.72,494.59 1978.31,494.83 1976.89,495.07 1975.48,495.31 1974.06,495.54 1972.64,495.78 1971.23,496.02 1969.82,496.26 1968.4,496.49 1966.99,496.73 1965.57,496.97 1964.15,497.21 1962.74,497.44 1961.33,497.68 1959.91,497.92 1958.5,498.21 1957.08,498.51 1955.66,498.81 1954.25,499.1 1952.84,499.4 1951.42,499.7 1950.01,499.99 1948.59,500.29 1947.17,500.59 1945.76,500.88 1944.35,501.18 1942.93,501.48 1941.52,501.78 1940.1,502.07 1938.68,502.37 1937.27,502.67 1935.86,502.96 1934.44,503.26 1933.03,503.56 1931.61,503.85 1930.2,504.15 1928.78,504.61 1927.37,505.11 1925.95,505.61 1924.54,506.12 1923.12,506.62 1921.7,507.12 1920.29,507.62 1918.88,508.12 1917.46,508.62 1916.05,509.13 1914.63,509.63 1913.22,510.13 1911.8,510.63 1910.38,511.13 1908.97,511.63 1907.56,512.14 1906.14,512.64 1904.73,513.14 1903.31,513.64 1901.89,514.14 1900.48,514.65 1899.07,515.29 1897.65,516.03 1896.24,516.76 1894.82,517.5 1893.4,518.24 1891.99,518.98 1890.58,519.71 1889.16,520.45 1887.75,521.19 1886.33,521.93 1884.91,522.66 1883.5,523.4 1882.09,524.14 1880.67,524.88 1879.26,525.61 1877.84,526.35 1876.42,527.09 1875.01,527.83 1873.6,528.56 1872.18,529.3 1870.77,530.04 1869.35,530.83 1867.93,531.69 1866.52,532.56 1865.11,533.42 1863.69,534.29 1862.28,535.15 1860.86,536.02 1859.45,536.88 1858.03,537.75 1856.62,538.61 1855.2,539.48 1853.79,540.35 1852.37,541.23 1850.95,542.1 1849.54,542.98 1848.12,543.86 1846.71,544.73 1845.3,545.61 1843.88,546.49 1842.47,547.36 1841.05,548.24 1839.63,549.14 1838.22,550.12 1836.81,551.11 1835.39,552.1 1833.98,553.08 1832.56,554.07 1831.14,555.05 1829.73,556.04 1828.32,557.03 1826.9,558.01 1825.49,559 1824.07,560.06 1822.65,561.23 1821.24,562.39 1819.83,563.56 1818.41,564.73 1817,565.9 1815.58,567.07 1814.16,568.24 1812.75,569.41 1811.34,570.58 1809.92,571.75 1808.51,573.44 1807.09,575.13 1805.67,576.82 1804.26,578.51 1802.85,580.2 1801.43,581.89 1800.02,583.58 1798.6,585.27 1797.18,586.96 1795.77,588.65 1794.36,590.41 1792.94,592.43 1791.53,594.46 1790.11,596.48 1788.7,598.51 1787.28,600.53 1785.87,602.56 1784.45,604.59 1783.04,606.61 1781.62,608.64 1780.2,610.66 1778.79,612.76 1777.38,614.87 1775.96,616.98 1774.55,619.1 1773.13,621.21 1771.72,623.32 1770.3,625.43 1768.88,627.47 1767.47,629.51 1766.06,631.55 1764.64,633.59 1763.23,635.68 1761.81,637.78 1760.39,639.88 1758.98,641.98 1757.57,644.08 1756.15,646.17 1754.74,648.27 1753.32,650.37 1751.9,652.47 1750.49,654.56 1749.08,656.4 1747.66,658.06 1746.25,659.72 1744.83,661.38 1743.41,663.04 1742,664.36 1740.59,665.18 1739.17,666.01 1737.76,666.83 1736.34,667.65 1734.92,668.56 1733.51,669.83 1732.1,671.09 1730.68,672.36 1729.27,673.62 1727.85,674.89 1726.43,677.27 1725.02,680.39 1723.61,683.51 1722.19,686.63 1720.78,689.75 1719.36,692.36 1717.94,694.18 1716.53,696 1715.12,697.82 1713.7,699.65" fill="url(#pY6F)" stroke="#be46e6" stroke-width="1.2"/>
<polyline points="1713.7,695.3 1715.12,693.42 1716.53,691.55 1717.94,689.67 1719.36,687.79 1720.78,685.14 1722.19,681.96 1723.61,678.79 1725.02,675.61 1726.43,672.43 1727.85,670 1729.27,668.68 1730.68,667.36 1732.1,666.04 1733.51,664.72 1734.92,663.4 1736.34,662.44 1737.76,661.56 1739.17,660.68 1740.59,659.8 1742,658.93 1743.41,657.55 1744.83,655.83 1746.25,654.12 1747.66,652.41 1749.08,650.69 1750.49,648.81 1751.9,646.65 1753.32,644.5 1754.74,642.35 1756.15,640.2 1757.57,638.05 1758.98,635.89 1760.39,633.74 1761.81,631.59 1763.23,629.44 1764.64,627.29 1766.06,625.19 1767.47,623.1 1768.88,621.01 1770.3,618.92 1771.72,616.82 1773.13,614.73 1774.55,612.64 1775.96,610.54 1777.38,608.45 1778.79,606.36 1780.2,604.28 1781.62,602.28 1783.04,600.27 1784.45,598.27 1785.87,596.26 1787.28,594.26 1788.7,592.25 1790.11,590.24 1791.53,588.24 1792.94,586.23 1794.36,584.23 1795.77,582.49 1797.18,580.82 1798.6,579.15 1800.02,577.48 1801.43,575.81 1802.85,574.14 1804.26,572.47 1805.67,570.8 1807.09,569.13 1808.51,567.46 1809.92,565.79 1811.34,564.64 1812.75,563.49 1814.16,562.34 1815.58,561.19 1817,560.04 1818.41,558.89 1819.83,557.74 1821.24,556.6 1822.65,555.45 1824.07,554.3 1825.49,553.26 1826.9,552.29 1828.32,551.33 1829.73,550.36 1831.14,549.4 1832.56,548.43 1833.98,547.46 1835.39,546.5 1836.81,545.53 1838.22,544.57 1839.63,543.6 1841.05,542.72 1842.47,541.87 1843.88,541.01 1845.3,540.15 1846.71,539.3 1848.12,538.44 1849.54,537.58 1850.95,536.73 1852.37,535.87 1853.79,535.01 1855.2,534.16 1856.62,533.31 1858.03,532.47 1859.45,531.62 1860.86,530.78 1862.28,529.93 1863.69,529.09 1865.11,528.24 1866.52,527.4 1867.93,526.55 1869.35,525.71 1870.77,524.94 1872.18,524.22 1873.6,523.51 1875.01,522.79 1876.42,522.07 1877.84,521.35 1879.26,520.64 1880.67,519.92 1882.09,519.2 1883.5,518.48 1884.91,517.77 1886.33,517.05 1887.75,516.33 1889.16,515.61 1890.58,514.9 1891.99,514.18 1893.4,513.46 1894.82,512.74 1896.24,512.03 1897.65,511.31 1899.07,510.59 1900.48,509.97 1901.89,509.49 1903.31,509 1904.73,508.52 1906.14,508.04 1907.56,507.56 1908.97,507.08 1910.38,506.6 1911.8,506.11 1913.22,505.63 1914.63,505.15 1916.05,504.67 1917.46,504.19 1918.88,503.7 1920.29,503.22 1921.7,502.74 1923.12,502.26 1924.54,501.78 1925.95,501.3 1927.37,500.81 1928.78,500.33 1930.2,499.89 1931.61,499.62 1933.03,499.34 1934.44,499.06 1935.86,498.78 1937.27,498.51 1938.68,498.23 1940.1,497.95 1941.52,497.68 1942.93,497.4 1944.35,497.12 1945.76,496.85 1947.17,496.57 1948.59,496.29 1950.01,496.02 1951.42,495.74 1952.84,495.46 1954.25,495.19 1955.66,494.91 1957.08,494.63 1958.5,494.36 1959.91,494.08 1961.33,493.86 1962.74,493.65 1964.15,493.43 1965.57,493.21 1966.99,492.99 1968.4,492.78 1969.82,492.56 1971.23,492.34 1972.64,492.12 1974.06,491.91 1975.48,491.69 1976.89,491.47 1978.31,491.26 1979.72,491.04 1981.13,490.82 1982.55,490.6 1983.97,490.39 1985.38,490.17" fill="none" stroke="#be46e6" stroke-width="3.2"/>
<text transform="translate(1339,645) rotate(-90)" x="-0.98" y="0" font-size="30" textLength="86.77" lengthAdjust="spacingAndGlyphs">%Lysis</text>
<line x1="711.2" y1="818.5" x2="742.4" y2="818.5" stroke="#646464" stroke-width="2"/>
<circle cx="726.8" cy="818.5" r="8" fill="none" stroke="#646464" stroke-width="2"/>
<text x="757.03" y="828.4" font-size="31.7" textLength="41.68" lengthAdjust="spacingAndGlyphs">NT</text>
<line x1="837.6" y1="818.5" x2="868.8" y2="818.5" stroke="#b4190f" stroke-width="2"/>
<rect x="845" y="810.3" width="16.4" height="16.4" fill="none" stroke="#b4190f" stroke-width="2"/>
<text x="884.47" y="828.4" font-size="31.7" textLength="95.61" lengthAdjust="spacingAndGlyphs">UBS54</text>
<line x1="1011.5" y1="818.5" x2="1042.3" y2="818.5" stroke="#1e3cff" stroke-width="2"/>
<polygon points="1026.9,809.89 1035.1,825.06 1018.7,825.06" fill="none" stroke="#1e3cff" stroke-width="2"/>
<text x="1057.74" y="828.4" font-size="31.7" textLength="56.62" lengthAdjust="spacingAndGlyphs">Y6A</text>
<line x1="1165.2" y1="818.5" x2="1196.9" y2="818.5" stroke="#965000" stroke-width="2"/>
<polygon points="1181.05,827.11 1189.25,811.94 1172.85,811.94" fill="none" stroke="#965000" stroke-width="2"/>
<text x="1211.93" y="828.4" font-size="31.7" textLength="57.3" lengthAdjust="spacingAndGlyphs">Y6V</text>
<line x1="1321.3" y1="818.5" x2="1352.9" y2="818.5" stroke="#008c50" stroke-width="2"/>
<polygon points="1337.1,809.89 1344.89,818.5 1337.1,827.11 1329.31,818.5" fill="none" stroke="#008c50" stroke-width="2"/>
<text x="1367.83" y="828.4" font-size="31.7" textLength="54.59" lengthAdjust="spacingAndGlyphs">Y6L</text>
<line x1="1474.7" y1="818.5" x2="1506.5" y2="818.5" stroke="#be46e6" stroke-width="2"/>
<polygon points="1483.22,818.5 1486.75,812.27 1494.45,812.27 1497.98,818.5 1494.45,824.73 1486.75,824.73" fill="none" stroke="#be46e6" stroke-width="2"/>
<text x="1521.43" y="828.4" font-size="31.7" textLength="55.79" lengthAdjust="spacingAndGlyphs">Y6F</text>
<text x="16.75" y="890.3" font-size="41" font-weight="bold" textLength="23.49" lengthAdjust="spacingAndGlyphs">e</text>
<text x="158.45" y="907.4" font-size="31" textLength="188.37" lengthAdjust="spacingAndGlyphs">MDA-MB-231</text>
<line x1="143.3" y1="928" x2="143.3" y2="1039.6" stroke="#231f20" stroke-width="2"/>
<line x1="135.8" y1="1039.6" x2="150.3" y2="1039.6" stroke="#231f20" stroke-width="2"/>
<line x1="129.8" y1="928.1" x2="143.3" y2="928.1" stroke="#231f20" stroke-width="2"/>
<line x1="129.8" y1="971.1" x2="143.3" y2="971.1" stroke="#231f20" stroke-width="2"/>
<line x1="129.8" y1="1014.1" x2="143.3" y2="1014.1" stroke="#231f20" stroke-width="2"/>
<line x1="143.3" y1="1060.8" x2="143.3" y2="1171.6" stroke="#231f20" stroke-width="2"/>
<line x1="135.8" y1="1060.8" x2="150.3" y2="1060.8" stroke="#231f20" stroke-width="2"/>
<line x1="133.3" y1="1088.5" x2="143.3" y2="1088.5" stroke="#231f20" stroke-width="2"/>
<line x1="133.3" y1="1116.2" x2="143.3" y2="1116.2" stroke="#231f20" stroke-width="2"/>
<line x1="133.3" y1="1143.9" x2="143.3" y2="1143.9" stroke="#231f20" stroke-width="2"/>
<line x1="133.3" y1="1171.6" x2="143.3" y2="1171.6" stroke="#231f20" stroke-width="2"/>
<line x1="133.3" y1="1171.6" x2="358.3" y2="1171.6" stroke="#231f20" stroke-width="2"/>
<line x1="165.3" y1="1171.6" x2="165.3" y2="1181.7" stroke="#231f20" stroke-width="2"/>
<line x1="199.4" y1="1171.6" x2="199.4" y2="1181.7" stroke="#231f20" stroke-width="2"/>
<line x1="233.5" y1="1171.6" x2="233.5" y2="1181.7" stroke="#231f20" stroke-width="2"/>
<line x1="267.6" y1="1171.6" x2="267.6" y2="1181.7" stroke="#231f20" stroke-width="2"/>
<line x1="301.7" y1="1171.6" x2="301.7" y2="1181.7" stroke="#231f20" stroke-width="2"/>
<line x1="335.8" y1="1171.6" x2="335.8" y2="1181.7" stroke="#231f20" stroke-width="2"/>
<line x1="143.3" y1="1197.8" x2="143.3" y2="1442.3" stroke="#231f20" stroke-width="2"/>
<line x1="133.3" y1="1197.8" x2="143.3" y2="1197.8" stroke="#231f20" stroke-width="2"/>
<line x1="133.3" y1="1246.7" x2="143.3" y2="1246.7" stroke="#231f20" stroke-width="2"/>
<line x1="133.3" y1="1295.6" x2="143.3" y2="1295.6" stroke="#231f20" stroke-width="2"/>
<line x1="133.3" y1="1344.5" x2="143.3" y2="1344.5" stroke="#231f20" stroke-width="2"/>
<line x1="133.3" y1="1393.4" x2="143.3" y2="1393.4" stroke="#231f20" stroke-width="2"/>
<line x1="133.3" y1="1442.3" x2="143.3" y2="1442.3" stroke="#231f20" stroke-width="2"/>
<line x1="133.3" y1="1442.3" x2="358.3" y2="1442.3" stroke="#231f20" stroke-width="2"/>
<line x1="165.3" y1="1442.3" x2="165.3" y2="1452.4" stroke="#231f20" stroke-width="2"/>
<line x1="199.4" y1="1442.3" x2="199.4" y2="1452.4" stroke="#231f20" stroke-width="2"/>
<line x1="233.5" y1="1442.3" x2="233.5" y2="1452.4" stroke="#231f20" stroke-width="2"/>
<line x1="267.6" y1="1442.3" x2="267.6" y2="1452.4" stroke="#231f20" stroke-width="2"/>
<line x1="301.7" y1="1442.3" x2="301.7" y2="1452.4" stroke="#231f20" stroke-width="2"/>
<line x1="335.8" y1="1442.3" x2="335.8" y2="1452.4" stroke="#231f20" stroke-width="2"/>
<line x1="143.3" y1="1469.6" x2="143.3" y2="1715" stroke="#231f20" stroke-width="2"/>
<line x1="133.3" y1="1510.2" x2="143.3" y2="1510.2" stroke="#231f20" stroke-width="2"/>
<line x1="133.3" y1="1578.47" x2="143.3" y2="1578.47" stroke="#231f20" stroke-width="2"/>
<line x1="133.3" y1="1646.73" x2="143.3" y2="1646.73" stroke="#231f20" stroke-width="2"/>
<line x1="133.3" y1="1715" x2="143.3" y2="1715" stroke="#231f20" stroke-width="2"/>
<line x1="133.3" y1="1715" x2="358.3" y2="1715" stroke="#231f20" stroke-width="2"/>
<line x1="165.3" y1="1715" x2="165.3" y2="1725.5" stroke="#231f20" stroke-width="2"/>
<line x1="199.4" y1="1715" x2="199.4" y2="1725.5" stroke="#231f20" stroke-width="2"/>
<line x1="233.5" y1="1715" x2="233.5" y2="1725.5" stroke="#231f20" stroke-width="2"/>
<line x1="267.6" y1="1715" x2="267.6" y2="1725.5" stroke="#231f20" stroke-width="2"/>
<line x1="301.7" y1="1715" x2="301.7" y2="1725.5" stroke="#231f20" stroke-width="2"/>
<line x1="335.8" y1="1715" x2="335.8" y2="1725.5" stroke="#231f20" stroke-width="2"/>
<circle cx="158.7" cy="1171.6" r="4.4" fill="#fff" stroke="#000000" stroke-width="2.3"/>
<circle cx="165.3" cy="1171.6" r="4.4" fill="#fff" stroke="#000000" stroke-width="2.3"/>
<circle cx="171.9" cy="1171.6" r="4.4" fill="#fff" stroke="#000000" stroke-width="2.3"/>
<rect x="189.1" y="1159.13" width="20.6" height="12.46" fill="#e6878c" stroke="#231f20" stroke-width="2"/>
<line x1="199.4" y1="1159.13" x2="199.4" y2="1145.28" stroke="#231f20" stroke-width="2"/>
<line x1="193.4" y1="1145.28" x2="205.4" y2="1145.28" stroke="#231f20" stroke-width="2"/>
<rect x="188.5" y="1143.15" width="9.8" height="9.8" fill="#fff" stroke="#b2222a" stroke-width="2"/>
<rect x="201.5" y="1149.25" width="9.8" height="9.8" fill="#fff" stroke="#b2222a" stroke-width="2"/>
<rect x="194.5" y="1166.7" width="9.8" height="9.8" fill="#fff" stroke="#b2222a" stroke-width="2"/>
<polygon points="226.9,1166.45 231.8,1175.52 222,1175.52" fill="#fff" stroke="#0a32ff" stroke-width="2"/>
<polygon points="233.5,1166.45 238.4,1175.52 228.6,1175.52" fill="#fff" stroke="#0a32ff" stroke-width="2"/>
<polygon points="240.1,1166.45 245,1175.52 235.2,1175.52" fill="#fff" stroke="#0a32ff" stroke-width="2"/>
<polygon points="261,1176.74 265.9,1167.68 256.1,1167.68" fill="#fff" stroke="#a8700f" stroke-width="2"/>
<polygon points="267.6,1176.74 272.5,1167.68 262.7,1167.68" fill="#fff" stroke="#a8700f" stroke-width="2"/>
<polygon points="274.2,1176.74 279.1,1167.68 269.3,1167.68" fill="#fff" stroke="#a8700f" stroke-width="2"/>
<polygon points="295.1,1166.45 299.75,1171.6 295.1,1176.74 290.45,1171.6" fill="#fff" stroke="#006e32" stroke-width="2"/>
<polygon points="301.7,1166.45 306.36,1171.6 301.7,1176.74 297.05,1171.6" fill="#fff" stroke="#006e32" stroke-width="2"/>
<polygon points="308.3,1166.45 312.96,1171.6 308.3,1176.74 303.65,1171.6" fill="#fff" stroke="#006e32" stroke-width="2"/>
<polygon points="324.79,1171.6 326.9,1167.88 331.5,1167.88 333.61,1171.6 331.5,1175.32 326.9,1175.32" fill="#fff" stroke="#a832aa" stroke-width="2"/>
<polygon points="331.39,1171.6 333.5,1167.88 338.1,1167.88 340.21,1171.6 338.1,1175.32 333.5,1175.32" fill="#fff" stroke="#a832aa" stroke-width="2"/>
<polygon points="337.99,1171.6 340.1,1167.88 344.7,1167.88 346.81,1171.6 344.7,1175.32 340.1,1175.32" fill="#fff" stroke="#a832aa" stroke-width="2"/>
<circle cx="158.7" cy="1442.3" r="4.4" fill="#fff" stroke="#000000" stroke-width="2.3"/>
<circle cx="165.3" cy="1442.3" r="4.4" fill="#fff" stroke="#000000" stroke-width="2.3"/>
<circle cx="171.9" cy="1442.3" r="4.4" fill="#fff" stroke="#000000" stroke-width="2.3"/>
<rect x="189.1" y="1413.64" width="20.6" height="28.66" fill="#e6878c" stroke="#231f20" stroke-width="2"/>
<line x1="199.4" y1="1413.64" x2="199.4" y2="1399.95" stroke="#231f20" stroke-width="2"/>
<line x1="193.4" y1="1399.95" x2="205.4" y2="1399.95" stroke="#231f20" stroke-width="2"/>
<rect x="188.5" y="1399.84" width="9.8" height="9.8" fill="#fff" stroke="#b2222a" stroke-width="2"/>
<rect x="200.5" y="1399.84" width="9.8" height="9.8" fill="#fff" stroke="#b2222a" stroke-width="2"/>
<rect x="194.5" y="1422.34" width="9.8" height="9.8" fill="#fff" stroke="#b2222a" stroke-width="2"/>
<polygon points="226.9,1437.15 231.8,1446.22 222,1446.22" fill="#fff" stroke="#0a32ff" stroke-width="2"/>
<polygon points="233.5,1437.15 238.4,1446.22 228.6,1446.22" fill="#fff" stroke="#0a32ff" stroke-width="2"/>
<polygon points="240.1,1437.15 245,1446.22 235.2,1446.22" fill="#fff" stroke="#0a32ff" stroke-width="2"/>
<polygon points="261,1447.44 265.9,1438.38 256.1,1438.38" fill="#fff" stroke="#a8700f" stroke-width="2"/>
<polygon points="267.6,1447.44 272.5,1438.38 262.7,1438.38" fill="#fff" stroke="#a8700f" stroke-width="2"/>
<polygon points="274.2,1447.44 279.1,1438.38 269.3,1438.38" fill="#fff" stroke="#a8700f" stroke-width="2"/>
<polygon points="295.1,1437.15 299.75,1442.3 295.1,1447.44 290.45,1442.3" fill="#fff" stroke="#006e32" stroke-width="2"/>
<polygon points="301.7,1437.15 306.36,1442.3 301.7,1447.44 297.05,1442.3" fill="#fff" stroke="#006e32" stroke-width="2"/>
<polygon points="308.3,1437.15 312.96,1442.3 308.3,1447.44 303.65,1442.3" fill="#fff" stroke="#006e32" stroke-width="2"/>
<polygon points="325.39,1439.86 327.5,1436.13 332.1,1436.13 334.21,1439.86 332.1,1443.58 327.5,1443.58" fill="#fff" stroke="#a832aa" stroke-width="2"/>
<polygon points="331.39,1439.37 333.5,1435.64 338.1,1435.64 340.21,1439.37 338.1,1443.09 333.5,1443.09" fill="#fff" stroke="#a832aa" stroke-width="2"/>
<polygon points="337.39,1439.86 339.5,1436.13 344.1,1436.13 346.21,1439.86 344.1,1443.58 339.5,1443.58" fill="#fff" stroke="#a832aa" stroke-width="2"/>
<circle cx="158.7" cy="1715" r="4.4" fill="#fff" stroke="#000000" stroke-width="2.3"/>
<circle cx="165.3" cy="1715" r="4.4" fill="#fff" stroke="#000000" stroke-width="2.3"/>
<circle cx="171.9" cy="1715" r="4.4" fill="#fff" stroke="#000000" stroke-width="2.3"/>
<rect x="189.1" y="1679.02" width="20.6" height="35.98" fill="#e6878c" stroke="#231f20" stroke-width="2"/>
<line x1="199.4" y1="1679.02" x2="199.4" y2="1666.67" stroke="#231f20" stroke-width="2"/>
<line x1="193.4" y1="1666.67" x2="205.4" y2="1666.67" stroke="#231f20" stroke-width="2"/>
<rect x="187.5" y="1665.04" width="9.8" height="9.8" fill="#fff" stroke="#b2222a" stroke-width="2"/>
<rect x="200.5" y="1666.41" width="9.8" height="9.8" fill="#fff" stroke="#b2222a" stroke-width="2"/>
<rect x="194.5" y="1686.59" width="9.8" height="9.8" fill="#fff" stroke="#b2222a" stroke-width="2"/>
<polygon points="226.9,1709.86 231.8,1718.92 222,1718.92" fill="#fff" stroke="#0a32ff" stroke-width="2"/>
<polygon points="233.5,1709.86 238.4,1718.92 228.6,1718.92" fill="#fff" stroke="#0a32ff" stroke-width="2"/>
<polygon points="240.1,1709.86 245,1718.92 235.2,1718.92" fill="#fff" stroke="#0a32ff" stroke-width="2"/>
<polygon points="261,1720.14 265.9,1711.08 256.1,1711.08" fill="#fff" stroke="#a8700f" stroke-width="2"/>
<polygon points="267.6,1720.14 272.5,1711.08 262.7,1711.08" fill="#fff" stroke="#a8700f" stroke-width="2"/>
<polygon points="274.2,1720.14 279.1,1711.08 269.3,1711.08" fill="#fff" stroke="#a8700f" stroke-width="2"/>
<polygon points="295.1,1709.86 299.75,1715 295.1,1720.14 290.45,1715" fill="#fff" stroke="#006e32" stroke-width="2"/>
<polygon points="301.7,1709.86 306.36,1715 301.7,1720.14 297.05,1715" fill="#fff" stroke="#006e32" stroke-width="2"/>
<polygon points="308.3,1709.86 312.96,1715 308.3,1720.14 303.65,1715" fill="#fff" stroke="#006e32" stroke-width="2"/>
<polygon points="325.39,1712.95 327.5,1709.23 332.1,1709.23 334.21,1712.95 332.1,1716.68 327.5,1716.68" fill="#fff" stroke="#a832aa" stroke-width="2"/>
<polygon points="331.39,1711.59 333.5,1707.86 338.1,1707.86 340.21,1711.59 338.1,1715.31 333.5,1715.31" fill="#fff" stroke="#a832aa" stroke-width="2"/>
<polygon points="337.39,1712.95 339.5,1709.23 344.1,1709.23 346.21,1712.95 344.1,1716.68 339.5,1716.68" fill="#fff" stroke="#a832aa" stroke-width="2"/>
<text transform="translate(170.7,1747.1) rotate(-45)" x="-36.03" y="0" font-size="27.5">NT</text>
<text transform="translate(204.8,1747.1) rotate(-45)" x="-86.33" y="0" font-size="27.5">UBS54</text>
<text transform="translate(238.9,1747.1) rotate(-45)" x="-51.93" y="0" font-size="27.5">Y6A</text>
<text transform="translate(273,1747.1) rotate(-45)" x="-51.86" y="0" font-size="27.5">Y6V</text>
<text transform="translate(307.1,1747.1) rotate(-45)" x="-48.02" y="0" font-size="27.5">Y6L</text>
<text transform="translate(341.2,1747.1) rotate(-45)" x="-49.33" y="0" font-size="27.5">Y6F</text>
<text x="58.09" y="937.2" font-size="28" textLength="67.97" lengthAdjust="spacingAndGlyphs">3,000</text>
<text x="58.09" y="980.2" font-size="28" textLength="67.97" lengthAdjust="spacingAndGlyphs">2,000</text>
<text x="58.09" y="1023.2" font-size="28" textLength="67.97" lengthAdjust="spacingAndGlyphs">1,000</text>
<text x="83.25" y="1069.9" font-size="28" textLength="45.32" lengthAdjust="spacingAndGlyphs">400</text>
<text x="83.25" y="1097.6" font-size="28" textLength="45.32" lengthAdjust="spacingAndGlyphs">300</text>
<text x="83.25" y="1125.3" font-size="28" textLength="45.32" lengthAdjust="spacingAndGlyphs">200</text>
<text x="83.25" y="1153" font-size="28" textLength="45.32" lengthAdjust="spacingAndGlyphs">100</text>
<text x="113.46" y="1180.7" font-size="28" textLength="15.11" lengthAdjust="spacingAndGlyphs">0</text>
<text x="46.19" y="1206.9" font-size="28" textLength="83.07" lengthAdjust="spacingAndGlyphs">25,000</text>
<text x="46.19" y="1255.8" font-size="28" textLength="83.07" lengthAdjust="spacingAndGlyphs">20,000</text>
<text x="46.19" y="1304.7" font-size="28" textLength="83.07" lengthAdjust="spacingAndGlyphs">15,000</text>
<text x="46.19" y="1353.6" font-size="28" textLength="83.07" lengthAdjust="spacingAndGlyphs">10,000</text>
<text x="61.29" y="1402.5" font-size="28" textLength="67.97" lengthAdjust="spacingAndGlyphs">5,000</text>
<text x="114.16" y="1451.4" font-size="28" textLength="15.11" lengthAdjust="spacingAndGlyphs">0</text>
<text x="42.99" y="1519.3" font-size="28" textLength="83.07" lengthAdjust="spacingAndGlyphs">15,000</text>
<text x="42.99" y="1587.57" font-size="28" textLength="83.07" lengthAdjust="spacingAndGlyphs">10,000</text>
<text x="58.09" y="1655.83" font-size="28" textLength="67.97" lengthAdjust="spacingAndGlyphs">5,000</text>
<text x="110.96" y="1724.1" font-size="28" textLength="15.11" lengthAdjust="spacingAndGlyphs">0</text>
<text x="432.66" y="907.4" font-size="31" textLength="130.01" lengthAdjust="spacingAndGlyphs">SNU-638</text>
<line x1="388.5" y1="928" x2="388.5" y2="1039.6" stroke="#231f20" stroke-width="2"/>
<line x1="381" y1="1039.6" x2="395.5" y2="1039.6" stroke="#231f20" stroke-width="2"/>
<line x1="375" y1="928.1" x2="388.5" y2="928.1" stroke="#231f20" stroke-width="2"/>
<line x1="375" y1="971.1" x2="388.5" y2="971.1" stroke="#231f20" stroke-width="2"/>
<line x1="375" y1="1014.1" x2="388.5" y2="1014.1" stroke="#231f20" stroke-width="2"/>
<line x1="388.5" y1="1060.8" x2="388.5" y2="1171.6" stroke="#231f20" stroke-width="2"/>
<line x1="381" y1="1060.8" x2="395.5" y2="1060.8" stroke="#231f20" stroke-width="2"/>
<line x1="378.5" y1="1088.5" x2="388.5" y2="1088.5" stroke="#231f20" stroke-width="2"/>
<line x1="378.5" y1="1116.2" x2="388.5" y2="1116.2" stroke="#231f20" stroke-width="2"/>
<line x1="378.5" y1="1143.9" x2="388.5" y2="1143.9" stroke="#231f20" stroke-width="2"/>
<line x1="378.5" y1="1171.6" x2="388.5" y2="1171.6" stroke="#231f20" stroke-width="2"/>
<line x1="378.5" y1="1171.6" x2="603.5" y2="1171.6" stroke="#231f20" stroke-width="2"/>
<line x1="410.5" y1="1171.6" x2="410.5" y2="1181.7" stroke="#231f20" stroke-width="2"/>
<line x1="444.6" y1="1171.6" x2="444.6" y2="1181.7" stroke="#231f20" stroke-width="2"/>
<line x1="478.7" y1="1171.6" x2="478.7" y2="1181.7" stroke="#231f20" stroke-width="2"/>
<line x1="512.8" y1="1171.6" x2="512.8" y2="1181.7" stroke="#231f20" stroke-width="2"/>
<line x1="546.9" y1="1171.6" x2="546.9" y2="1181.7" stroke="#231f20" stroke-width="2"/>
<line x1="581" y1="1171.6" x2="581" y2="1181.7" stroke="#231f20" stroke-width="2"/>
<line x1="388.5" y1="1197.8" x2="388.5" y2="1442.3" stroke="#231f20" stroke-width="2"/>
<line x1="378.5" y1="1197.8" x2="388.5" y2="1197.8" stroke="#231f20" stroke-width="2"/>
<line x1="378.5" y1="1246.7" x2="388.5" y2="1246.7" stroke="#231f20" stroke-width="2"/>
<line x1="378.5" y1="1295.6" x2="388.5" y2="1295.6" stroke="#231f20" stroke-width="2"/>
<line x1="378.5" y1="1344.5" x2="388.5" y2="1344.5" stroke="#231f20" stroke-width="2"/>
<line x1="378.5" y1="1393.4" x2="388.5" y2="1393.4" stroke="#231f20" stroke-width="2"/>
<line x1="378.5" y1="1442.3" x2="388.5" y2="1442.3" stroke="#231f20" stroke-width="2"/>
<line x1="378.5" y1="1442.3" x2="603.5" y2="1442.3" stroke="#231f20" stroke-width="2"/>
<line x1="410.5" y1="1442.3" x2="410.5" y2="1452.4" stroke="#231f20" stroke-width="2"/>
<line x1="444.6" y1="1442.3" x2="444.6" y2="1452.4" stroke="#231f20" stroke-width="2"/>
<line x1="478.7" y1="1442.3" x2="478.7" y2="1452.4" stroke="#231f20" stroke-width="2"/>
<line x1="512.8" y1="1442.3" x2="512.8" y2="1452.4" stroke="#231f20" stroke-width="2"/>
<line x1="546.9" y1="1442.3" x2="546.9" y2="1452.4" stroke="#231f20" stroke-width="2"/>
<line x1="581" y1="1442.3" x2="581" y2="1452.4" stroke="#231f20" stroke-width="2"/>
<line x1="388.5" y1="1469.6" x2="388.5" y2="1715" stroke="#231f20" stroke-width="2"/>
<line x1="378.5" y1="1510.2" x2="388.5" y2="1510.2" stroke="#231f20" stroke-width="2"/>
<line x1="378.5" y1="1578.47" x2="388.5" y2="1578.47" stroke="#231f20" stroke-width="2"/>
<line x1="378.5" y1="1646.73" x2="388.5" y2="1646.73" stroke="#231f20" stroke-width="2"/>
<line x1="378.5" y1="1715" x2="388.5" y2="1715" stroke="#231f20" stroke-width="2"/>
<line x1="378.5" y1="1715" x2="603.5" y2="1715" stroke="#231f20" stroke-width="2"/>
<line x1="410.5" y1="1715" x2="410.5" y2="1725.5" stroke="#231f20" stroke-width="2"/>
<line x1="444.6" y1="1715" x2="444.6" y2="1725.5" stroke="#231f20" stroke-width="2"/>
<line x1="478.7" y1="1715" x2="478.7" y2="1725.5" stroke="#231f20" stroke-width="2"/>
<line x1="512.8" y1="1715" x2="512.8" y2="1725.5" stroke="#231f20" stroke-width="2"/>
<line x1="546.9" y1="1715" x2="546.9" y2="1725.5" stroke="#231f20" stroke-width="2"/>
<line x1="581" y1="1715" x2="581" y2="1725.5" stroke="#231f20" stroke-width="2"/>
<circle cx="403.9" cy="1171.6" r="4.4" fill="#fff" stroke="#000000" stroke-width="2.3"/>
<circle cx="410.5" cy="1171.6" r="4.4" fill="#fff" stroke="#000000" stroke-width="2.3"/>
<circle cx="417.1" cy="1171.6" r="4.4" fill="#fff" stroke="#000000" stroke-width="2.3"/>
<path d="M434.3,1171.6 V1060.8 M454.9,1060.8 V1171.6" fill="none" stroke="#231f20" stroke-width="2"/>
<rect x="434.3" y="1060.8" width="20.6" height="110.8" fill="#e6878c"/>
<path d="M434.3,1171.6 V1060.8 M454.9,1060.8 V1171.6" fill="none" stroke="#231f20" stroke-width="2"/>
<rect x="434.3" y="1024.42" width="20.6" height="15.18" fill="#e6878c"/>
<path d="M434.3,1039.6 V1024.42 H454.9 V1039.6" fill="none" stroke="#231f20" stroke-width="2"/>
<rect x="431.7" y="1021.37" width="9.8" height="9.8" fill="#fff" stroke="#b2222a" stroke-width="2"/>
<rect x="439.7" y="1013.2" width="9.8" height="9.8" fill="#fff" stroke="#b2222a" stroke-width="2"/>
<rect x="446.7" y="1014.1" width="9.8" height="9.8" fill="#fff" stroke="#b2222a" stroke-width="2"/>
<polygon points="472.7,1166.45 477.6,1175.52 467.8,1175.52" fill="#fff" stroke="#0a32ff" stroke-width="2"/>
<polygon points="478.7,1163.68 483.6,1172.75 473.8,1172.75" fill="#fff" stroke="#0a32ff" stroke-width="2"/>
<polygon points="484.7,1166.45 489.6,1175.52 479.8,1175.52" fill="#fff" stroke="#0a32ff" stroke-width="2"/>
<rect x="502.5" y="1140.85" width="20.6" height="30.75" fill="#e4b980" stroke="#231f20" stroke-width="2"/>
<line x1="512.8" y1="1140.85" x2="512.8" y2="1132.27" stroke="#231f20" stroke-width="2"/>
<line x1="506.8" y1="1132.27" x2="518.8" y2="1132.27" stroke="#231f20" stroke-width="2"/>
<line x1="512.8" y1="1140.85" x2="512.8" y2="1149.44" stroke="#231f20" stroke-width="2"/>
<line x1="506.8" y1="1149.44" x2="518.8" y2="1149.44" stroke="#231f20" stroke-width="2"/>
<polygon points="506.8,1138.8 511.7,1129.73 501.9,1129.73" fill="#fff" stroke="#a8700f" stroke-width="2"/>
<polygon points="519.8,1140.73 524.7,1131.67 514.9,1131.67" fill="#fff" stroke="#a8700f" stroke-width="2"/>
<polygon points="512.8,1154.58 517.7,1145.52 507.9,1145.52" fill="#fff" stroke="#a8700f" stroke-width="2"/>
<polygon points="540.9,1166.45 545.55,1171.6 540.9,1176.74 536.25,1171.6" fill="#fff" stroke="#006e32" stroke-width="2"/>
<polygon points="546.9,1163.13 551.55,1168.28 546.9,1173.42 542.25,1168.28" fill="#fff" stroke="#006e32" stroke-width="2"/>
<polygon points="552.9,1166.45 557.55,1171.6 552.9,1176.74 548.25,1171.6" fill="#fff" stroke="#006e32" stroke-width="2"/>
<path d="M570.7,1171.6 V1060.8 M591.3,1060.8 V1171.6" fill="none" stroke="#231f20" stroke-width="2"/>
<rect x="570.7" y="1060.8" width="20.6" height="110.8" fill="#eea5eb"/>
<path d="M570.7,1171.6 V1060.8 M591.3,1060.8 V1171.6" fill="none" stroke="#231f20" stroke-width="2"/>
<rect x="570.7" y="986.58" width="20.6" height="53.02" fill="#eea5eb"/>
<path d="M570.7,1039.6 V986.58 H591.3 V1039.6" fill="none" stroke="#231f20" stroke-width="2"/>
<polygon points="570.59,986.15 572.7,982.43 577.3,982.43 579.41,986.15 577.3,989.87 572.7,989.87" fill="#fff" stroke="#a832aa" stroke-width="2"/>
<polygon points="576.59,981.59 578.7,977.87 583.3,977.87 585.41,981.59 583.3,985.32 578.7,985.32" fill="#fff" stroke="#a832aa" stroke-width="2"/>
<polygon points="582.59,986.15 584.7,982.43 589.3,982.43 591.41,986.15 589.3,989.87 584.7,989.87" fill="#fff" stroke="#a832aa" stroke-width="2"/>
<circle cx="403.9" cy="1442.3" r="4.4" fill="#fff" stroke="#000000" stroke-width="2.3"/>
<circle cx="410.5" cy="1442.3" r="4.4" fill="#fff" stroke="#000000" stroke-width="2.3"/>
<circle cx="417.1" cy="1442.3" r="4.4" fill="#fff" stroke="#000000" stroke-width="2.3"/>
<rect x="434.3" y="1297.56" width="20.6" height="144.74" fill="#e6878c" stroke="#231f20" stroke-width="2"/>
<line x1="444.6" y1="1297.56" x2="444.6" y2="1276.72" stroke="#231f20" stroke-width="2"/>
<line x1="438.6" y1="1276.72" x2="450.6" y2="1276.72" stroke="#231f20" stroke-width="2"/>
<rect x="433.7" y="1278.28" width="9.8" height="9.8" fill="#fff" stroke="#b2222a" stroke-width="2"/>
<rect x="445.7" y="1281.6" width="9.8" height="9.8" fill="#fff" stroke="#b2222a" stroke-width="2"/>
<rect x="439.7" y="1315.54" width="9.8" height="9.8" fill="#fff" stroke="#b2222a" stroke-width="2"/>
<rect x="468.4" y="1430.86" width="20.6" height="11.44" fill="#8cafdc" stroke="#231f20" stroke-width="2"/>
<polygon points="478.7,1415.64 483.6,1424.7 473.8,1424.7" fill="#fff" stroke="#0a32ff" stroke-width="2"/>
<polygon points="472.7,1428.35 477.6,1437.42 467.8,1437.42" fill="#fff" stroke="#0a32ff" stroke-width="2"/>
<polygon points="484.7,1428.35 489.6,1437.42 479.8,1437.42" fill="#fff" stroke="#0a32ff" stroke-width="2"/>
<rect x="502.5" y="1381.76" width="20.6" height="60.54" fill="#e4b980" stroke="#231f20" stroke-width="2"/>
<line x1="512.8" y1="1381.76" x2="512.8" y2="1363.96" stroke="#231f20" stroke-width="2"/>
<line x1="506.8" y1="1363.96" x2="518.8" y2="1363.96" stroke="#231f20" stroke-width="2"/>
<line x1="512.8" y1="1381.76" x2="512.8" y2="1397.12" stroke="#231f20" stroke-width="2"/>
<line x1="506.8" y1="1397.12" x2="518.8" y2="1397.12" stroke="#231f20" stroke-width="2"/>
<polygon points="512.8,1368.32 517.7,1359.26 507.9,1359.26" fill="#fff" stroke="#a8700f" stroke-width="2"/>
<polygon points="512.8,1384.95 517.7,1375.89 507.9,1375.89" fill="#fff" stroke="#a8700f" stroke-width="2"/>
<polygon points="512.8,1401.09 517.7,1392.02 507.9,1392.02" fill="#fff" stroke="#a8700f" stroke-width="2"/>
<rect x="536.6" y="1424.5" width="20.6" height="17.8" fill="#64b48c" stroke="#231f20" stroke-width="2"/>
<polygon points="540.9,1417.6 545.55,1422.74 540.9,1427.88 536.25,1422.74" fill="#fff" stroke="#006e32" stroke-width="2"/>
<polygon points="546.9,1415.15 551.55,1420.29 546.9,1425.44 542.25,1420.29" fill="#fff" stroke="#006e32" stroke-width="2"/>
<polygon points="552.9,1416.62 557.55,1421.76 552.9,1426.91 548.25,1421.76" fill="#fff" stroke="#006e32" stroke-width="2"/>
<rect x="570.7" y="1271.15" width="20.6" height="171.15" fill="#eea5eb" stroke="#231f20" stroke-width="2"/>
<line x1="581" y1="1271.15" x2="581" y2="1268.61" stroke="#231f20" stroke-width="2"/>
<line x1="575" y1="1268.61" x2="587" y2="1268.61" stroke="#231f20" stroke-width="2"/>
<line x1="581" y1="1271.15" x2="581" y2="1276.04" stroke="#231f20" stroke-width="2"/>
<line x1="575" y1="1276.04" x2="587" y2="1276.04" stroke="#231f20" stroke-width="2"/>
<polygon points="576.59,1261.76 578.7,1258.04 583.3,1258.04 585.41,1261.76 583.3,1265.49 578.7,1265.49" fill="#fff" stroke="#a832aa" stroke-width="2"/>
<polygon points="570.59,1275.45 572.7,1271.73 577.3,1271.73 579.41,1275.45 577.3,1279.18 572.7,1279.18" fill="#fff" stroke="#a832aa" stroke-width="2"/>
<polygon points="582.59,1274.28 584.7,1270.56 589.3,1270.56 591.41,1274.28 589.3,1278 584.7,1278" fill="#fff" stroke="#a832aa" stroke-width="2"/>
<circle cx="403.9" cy="1715" r="4.4" fill="#fff" stroke="#000000" stroke-width="2.3"/>
<circle cx="410.5" cy="1715" r="4.4" fill="#fff" stroke="#000000" stroke-width="2.3"/>
<circle cx="417.1" cy="1715" r="4.4" fill="#fff" stroke="#000000" stroke-width="2.3"/>
<rect x="434.3" y="1618.61" width="20.6" height="96.39" fill="#e6878c" stroke="#231f20" stroke-width="2"/>
<line x1="444.6" y1="1618.61" x2="444.6" y2="1610.96" stroke="#231f20" stroke-width="2"/>
<line x1="438.6" y1="1610.96" x2="450.6" y2="1610.96" stroke="#231f20" stroke-width="2"/>
<rect x="433.7" y="1607.97" width="9.8" height="9.8" fill="#fff" stroke="#b2222a" stroke-width="2"/>
<rect x="445.7" y="1609.47" width="9.8" height="9.8" fill="#fff" stroke="#b2222a" stroke-width="2"/>
<rect x="439.7" y="1619.85" width="9.8" height="9.8" fill="#fff" stroke="#b2222a" stroke-width="2"/>
<rect x="468.4" y="1677.73" width="20.6" height="37.27" fill="#8cafdc" stroke="#231f20" stroke-width="2"/>
<line x1="478.7" y1="1677.73" x2="478.7" y2="1666.39" stroke="#231f20" stroke-width="2"/>
<line x1="472.7" y1="1666.39" x2="484.7" y2="1666.39" stroke="#231f20" stroke-width="2"/>
<polygon points="478.7,1660.29 483.6,1669.36 473.8,1669.36" fill="#fff" stroke="#0a32ff" stroke-width="2"/>
<polygon points="471.7,1679.27 476.6,1688.34 466.8,1688.34" fill="#fff" stroke="#0a32ff" stroke-width="2"/>
<polygon points="485.7,1679.27 490.6,1688.34 480.8,1688.34" fill="#fff" stroke="#0a32ff" stroke-width="2"/>
<rect x="502.5" y="1616.29" width="20.6" height="98.71" fill="#e4b980" stroke="#231f20" stroke-width="2"/>
<line x1="512.8" y1="1616.29" x2="512.8" y2="1597.31" stroke="#231f20" stroke-width="2"/>
<line x1="506.8" y1="1597.31" x2="518.8" y2="1597.31" stroke="#231f20" stroke-width="2"/>
<line x1="512.8" y1="1616.29" x2="512.8" y2="1633.08" stroke="#231f20" stroke-width="2"/>
<line x1="506.8" y1="1633.08" x2="518.8" y2="1633.08" stroke="#231f20" stroke-width="2"/>
<polygon points="512.8,1602.45 517.7,1593.39 507.9,1593.39" fill="#fff" stroke="#a8700f" stroke-width="2"/>
<polygon points="512.8,1618.15 517.7,1609.09 507.9,1609.09" fill="#fff" stroke="#a8700f" stroke-width="2"/>
<polygon points="512.8,1638.22 517.7,1629.16 507.9,1629.16" fill="#fff" stroke="#a8700f" stroke-width="2"/>
<rect x="536.6" y="1654.45" width="20.6" height="60.55" fill="#64b48c" stroke="#231f20" stroke-width="2"/>
<line x1="546.9" y1="1654.45" x2="546.9" y2="1644.14" stroke="#231f20" stroke-width="2"/>
<line x1="540.9" y1="1644.14" x2="552.9" y2="1644.14" stroke="#231f20" stroke-width="2"/>
<line x1="546.9" y1="1654.45" x2="546.9" y2="1671.86" stroke="#231f20" stroke-width="2"/>
<line x1="540.9" y1="1671.86" x2="552.9" y2="1671.86" stroke="#231f20" stroke-width="2"/>
<polygon points="540.9,1639.95 545.55,1645.09 540.9,1650.24 536.25,1645.09" fill="#fff" stroke="#006e32" stroke-width="2"/>
<polygon points="552.9,1644.73 557.55,1649.87 552.9,1655.02 548.25,1649.87" fill="#fff" stroke="#006e32" stroke-width="2"/>
<polygon points="546.9,1658.11 551.55,1663.25 546.9,1668.4 542.25,1663.25" fill="#fff" stroke="#006e32" stroke-width="2"/>
<rect x="570.7" y="1557.85" width="20.6" height="157.15" fill="#eea5eb" stroke="#231f20" stroke-width="2"/>
<line x1="581" y1="1557.85" x2="581" y2="1548.98" stroke="#231f20" stroke-width="2"/>
<line x1="575" y1="1548.98" x2="587" y2="1548.98" stroke="#231f20" stroke-width="2"/>
<line x1="581" y1="1557.85" x2="581" y2="1564.81" stroke="#231f20" stroke-width="2"/>
<line x1="575" y1="1564.81" x2="587" y2="1564.81" stroke="#231f20" stroke-width="2"/>
<polygon points="570.59,1548.98 572.7,1545.25 577.3,1545.25 579.41,1548.98 577.3,1552.7 572.7,1552.7" fill="#fff" stroke="#a832aa" stroke-width="2"/>
<polygon points="582.59,1557.58 584.7,1553.85 589.3,1553.85 591.41,1557.58 589.3,1561.3 584.7,1561.3" fill="#fff" stroke="#a832aa" stroke-width="2"/>
<polygon points="570.59,1564.81 572.7,1561.09 577.3,1561.09 579.41,1564.81 577.3,1568.54 572.7,1568.54" fill="#fff" stroke="#a832aa" stroke-width="2"/>
<text transform="translate(415.9,1747.1) rotate(-45)" x="-36.03" y="0" font-size="27.5">NT</text>
<text transform="translate(450,1747.1) rotate(-45)" x="-86.33" y="0" font-size="27.5">UBS54</text>
<text transform="translate(484.1,1747.1) rotate(-45)" x="-51.93" y="0" font-size="27.5">Y6A</text>
<text transform="translate(518.2,1747.1) rotate(-45)" x="-51.86" y="0" font-size="27.5">Y6V</text>
<text transform="translate(552.3,1747.1) rotate(-45)" x="-48.02" y="0" font-size="27.5">Y6L</text>
<text transform="translate(586.4,1747.1) rotate(-45)" x="-49.33" y="0" font-size="27.5">Y6F</text>
<text x="687.95" y="907.4" font-size="31" textLength="86.43" lengthAdjust="spacingAndGlyphs">HT-29</text>
<line x1="632.7" y1="928" x2="632.7" y2="1039.6" stroke="#231f20" stroke-width="2"/>
<line x1="625.2" y1="1039.6" x2="639.7" y2="1039.6" stroke="#231f20" stroke-width="2"/>
<line x1="619.2" y1="928.1" x2="632.7" y2="928.1" stroke="#231f20" stroke-width="2"/>
<line x1="619.2" y1="971.1" x2="632.7" y2="971.1" stroke="#231f20" stroke-width="2"/>
<line x1="619.2" y1="1014.1" x2="632.7" y2="1014.1" stroke="#231f20" stroke-width="2"/>
<line x1="632.7" y1="1060.8" x2="632.7" y2="1171.6" stroke="#231f20" stroke-width="2"/>
<line x1="625.2" y1="1060.8" x2="639.7" y2="1060.8" stroke="#231f20" stroke-width="2"/>
<line x1="622.7" y1="1088.5" x2="632.7" y2="1088.5" stroke="#231f20" stroke-width="2"/>
<line x1="622.7" y1="1116.2" x2="632.7" y2="1116.2" stroke="#231f20" stroke-width="2"/>
<line x1="622.7" y1="1143.9" x2="632.7" y2="1143.9" stroke="#231f20" stroke-width="2"/>
<line x1="622.7" y1="1171.6" x2="632.7" y2="1171.6" stroke="#231f20" stroke-width="2"/>
<line x1="622.7" y1="1171.6" x2="847.7" y2="1171.6" stroke="#231f20" stroke-width="2"/>
<line x1="654.7" y1="1171.6" x2="654.7" y2="1181.7" stroke="#231f20" stroke-width="2"/>
<line x1="688.8" y1="1171.6" x2="688.8" y2="1181.7" stroke="#231f20" stroke-width="2"/>
<line x1="722.9" y1="1171.6" x2="722.9" y2="1181.7" stroke="#231f20" stroke-width="2"/>
<line x1="757" y1="1171.6" x2="757" y2="1181.7" stroke="#231f20" stroke-width="2"/>
<line x1="791.1" y1="1171.6" x2="791.1" y2="1181.7" stroke="#231f20" stroke-width="2"/>
<line x1="825.2" y1="1171.6" x2="825.2" y2="1181.7" stroke="#231f20" stroke-width="2"/>
<line x1="632.7" y1="1197.8" x2="632.7" y2="1442.3" stroke="#231f20" stroke-width="2"/>
<line x1="622.7" y1="1197.8" x2="632.7" y2="1197.8" stroke="#231f20" stroke-width="2"/>
<line x1="622.7" y1="1246.7" x2="632.7" y2="1246.7" stroke="#231f20" stroke-width="2"/>
<line x1="622.7" y1="1295.6" x2="632.7" y2="1295.6" stroke="#231f20" stroke-width="2"/>
<line x1="622.7" y1="1344.5" x2="632.7" y2="1344.5" stroke="#231f20" stroke-width="2"/>
<line x1="622.7" y1="1393.4" x2="632.7" y2="1393.4" stroke="#231f20" stroke-width="2"/>
<line x1="622.7" y1="1442.3" x2="632.7" y2="1442.3" stroke="#231f20" stroke-width="2"/>
<line x1="622.7" y1="1442.3" x2="847.7" y2="1442.3" stroke="#231f20" stroke-width="2"/>
<line x1="654.7" y1="1442.3" x2="654.7" y2="1452.4" stroke="#231f20" stroke-width="2"/>
<line x1="688.8" y1="1442.3" x2="688.8" y2="1452.4" stroke="#231f20" stroke-width="2"/>
<line x1="722.9" y1="1442.3" x2="722.9" y2="1452.4" stroke="#231f20" stroke-width="2"/>
<line x1="757" y1="1442.3" x2="757" y2="1452.4" stroke="#231f20" stroke-width="2"/>
<line x1="791.1" y1="1442.3" x2="791.1" y2="1452.4" stroke="#231f20" stroke-width="2"/>
<line x1="825.2" y1="1442.3" x2="825.2" y2="1452.4" stroke="#231f20" stroke-width="2"/>
<line x1="632.7" y1="1469.6" x2="632.7" y2="1715" stroke="#231f20" stroke-width="2"/>
<line x1="622.7" y1="1510.2" x2="632.7" y2="1510.2" stroke="#231f20" stroke-width="2"/>
<line x1="622.7" y1="1578.47" x2="632.7" y2="1578.47" stroke="#231f20" stroke-width="2"/>
<line x1="622.7" y1="1646.73" x2="632.7" y2="1646.73" stroke="#231f20" stroke-width="2"/>
<line x1="622.7" y1="1715" x2="632.7" y2="1715" stroke="#231f20" stroke-width="2"/>
<line x1="622.7" y1="1715" x2="847.7" y2="1715" stroke="#231f20" stroke-width="2"/>
<line x1="654.7" y1="1715" x2="654.7" y2="1725.5" stroke="#231f20" stroke-width="2"/>
<line x1="688.8" y1="1715" x2="688.8" y2="1725.5" stroke="#231f20" stroke-width="2"/>
<line x1="722.9" y1="1715" x2="722.9" y2="1725.5" stroke="#231f20" stroke-width="2"/>
<line x1="757" y1="1715" x2="757" y2="1725.5" stroke="#231f20" stroke-width="2"/>
<line x1="791.1" y1="1715" x2="791.1" y2="1725.5" stroke="#231f20" stroke-width="2"/>
<line x1="825.2" y1="1715" x2="825.2" y2="1725.5" stroke="#231f20" stroke-width="2"/>
<circle cx="648.1" cy="1171.6" r="4.4" fill="#fff" stroke="#000000" stroke-width="2.3"/>
<circle cx="654.7" cy="1171.6" r="4.4" fill="#fff" stroke="#000000" stroke-width="2.3"/>
<circle cx="661.3" cy="1171.6" r="4.4" fill="#fff" stroke="#000000" stroke-width="2.3"/>
<path d="M678.5,1171.6 V1060.8 M699.1,1060.8 V1171.6" fill="none" stroke="#231f20" stroke-width="2"/>
<rect x="678.5" y="1060.8" width="20.6" height="110.8" fill="#e6878c"/>
<path d="M678.5,1171.6 V1060.8 M699.1,1060.8 V1171.6" fill="none" stroke="#231f20" stroke-width="2"/>
<rect x="678.5" y="1009.8" width="20.6" height="29.8" fill="#e6878c"/>
<path d="M678.5,1039.6 V1009.8 H699.1 V1039.6" fill="none" stroke="#231f20" stroke-width="2"/>
<line x1="688.8" y1="1009.8" x2="688.8" y2="1008.08" stroke="#231f20" stroke-width="2"/>
<line x1="682.8" y1="1008.08" x2="694.8" y2="1008.08" stroke="#231f20" stroke-width="2"/>
<rect x="675.9" y="1005.89" width="9.8" height="9.8" fill="#fff" stroke="#b2222a" stroke-width="2"/>
<rect x="683.9" y="995.83" width="9.8" height="9.8" fill="#fff" stroke="#b2222a" stroke-width="2"/>
<rect x="690.9" y="999.53" width="9.8" height="9.8" fill="#fff" stroke="#b2222a" stroke-width="2"/>
<polygon points="716.3,1166.45 721.2,1175.52 711.4,1175.52" fill="#fff" stroke="#0a32ff" stroke-width="2"/>
<polygon points="722.9,1166.45 727.8,1175.52 718,1175.52" fill="#fff" stroke="#0a32ff" stroke-width="2"/>
<polygon points="729.5,1166.45 734.4,1175.52 724.6,1175.52" fill="#fff" stroke="#0a32ff" stroke-width="2"/>
<rect x="746.7" y="1118.97" width="20.6" height="52.63" fill="#e4b980" stroke="#231f20" stroke-width="2"/>
<polygon points="751,1122.73 755.9,1113.66 746.1,1113.66" fill="#fff" stroke="#a8700f" stroke-width="2"/>
<polygon points="757,1119.96 761.9,1110.89 752.1,1110.89" fill="#fff" stroke="#a8700f" stroke-width="2"/>
<polygon points="763,1121.9 767.9,1112.83 758.1,1112.83" fill="#fff" stroke="#a8700f" stroke-width="2"/>
<polygon points="784.5,1166.45 789.15,1171.6 784.5,1176.74 779.85,1171.6" fill="#fff" stroke="#006e32" stroke-width="2"/>
<polygon points="791.1,1166.45 795.75,1171.6 791.1,1176.74 786.45,1171.6" fill="#fff" stroke="#006e32" stroke-width="2"/>
<polygon points="797.7,1166.45 802.36,1171.6 797.7,1176.74 793.05,1171.6" fill="#fff" stroke="#006e32" stroke-width="2"/>
<path d="M814.9,1171.6 V1060.8 M835.5,1060.8 V1171.6" fill="none" stroke="#231f20" stroke-width="2"/>
<rect x="814.9" y="1060.8" width="20.6" height="110.8" fill="#eea5eb"/>
<path d="M814.9,1171.6 V1060.8 M835.5,1060.8 V1171.6" fill="none" stroke="#231f20" stroke-width="2"/>
<rect x="814.9" y="955.06" width="20.6" height="84.54" fill="#eea5eb"/>
<path d="M814.9,1039.6 V955.06 H835.5 V1039.6" fill="none" stroke="#231f20" stroke-width="2"/>
<line x1="825.2" y1="955.06" x2="825.2" y2="935.41" stroke="#231f20" stroke-width="2"/>
<line x1="819.2" y1="935.41" x2="831.2" y2="935.41" stroke="#231f20" stroke-width="2"/>
<line x1="825.2" y1="955.06" x2="825.2" y2="971.53" stroke="#231f20" stroke-width="2"/>
<line x1="819.2" y1="971.53" x2="831.2" y2="971.53" stroke="#231f20" stroke-width="2"/>
<polygon points="820.79,934.55 822.9,930.83 827.5,930.83 829.61,934.55 827.5,938.27 822.9,938.27" fill="#fff" stroke="#a832aa" stroke-width="2"/>
<polygon points="814.79,965.94 816.9,962.22 821.5,962.22 823.61,965.94 821.5,969.66 816.9,969.66" fill="#fff" stroke="#a832aa" stroke-width="2"/>
<polygon points="826.79,963.36 828.9,959.64 833.5,959.64 835.61,963.36 833.5,967.08 828.9,967.08" fill="#fff" stroke="#a832aa" stroke-width="2"/>
<circle cx="648.1" cy="1442.3" r="4.4" fill="#fff" stroke="#000000" stroke-width="2.3"/>
<circle cx="654.7" cy="1442.3" r="4.4" fill="#fff" stroke="#000000" stroke-width="2.3"/>
<circle cx="661.3" cy="1442.3" r="4.4" fill="#fff" stroke="#000000" stroke-width="2.3"/>
<rect x="678.5" y="1292.08" width="20.6" height="150.22" fill="#e6878c" stroke="#231f20" stroke-width="2"/>
<line x1="688.8" y1="1292.08" x2="688.8" y2="1276.33" stroke="#231f20" stroke-width="2"/>
<line x1="682.8" y1="1276.33" x2="694.8" y2="1276.33" stroke="#231f20" stroke-width="2"/>
<rect x="677.9" y="1277.69" width="9.8" height="9.8" fill="#fff" stroke="#b2222a" stroke-width="2"/>
<rect x="689.9" y="1279.75" width="9.8" height="9.8" fill="#fff" stroke="#b2222a" stroke-width="2"/>
<rect x="683.9" y="1303.81" width="9.8" height="9.8" fill="#fff" stroke="#b2222a" stroke-width="2"/>
<rect x="712.6" y="1431.25" width="20.6" height="11.05" fill="#8cafdc" stroke="#231f20" stroke-width="2"/>
<polygon points="716.9,1425.42 721.8,1434.48 712,1434.48" fill="#fff" stroke="#0a32ff" stroke-width="2"/>
<polygon points="722.9,1420.53 727.8,1429.59 718,1429.59" fill="#fff" stroke="#0a32ff" stroke-width="2"/>
<polygon points="728.9,1420.53 733.8,1429.59 724,1429.59" fill="#fff" stroke="#0a32ff" stroke-width="2"/>
<rect x="746.7" y="1387.04" width="20.6" height="55.26" fill="#e4b980" stroke="#231f20" stroke-width="2"/>
<line x1="757" y1="1387.04" x2="757" y2="1381.47" stroke="#231f20" stroke-width="2"/>
<line x1="751" y1="1381.47" x2="763" y2="1381.47" stroke="#231f20" stroke-width="2"/>
<line x1="757" y1="1387.04" x2="757" y2="1390.95" stroke="#231f20" stroke-width="2"/>
<line x1="751" y1="1390.95" x2="763" y2="1390.95" stroke="#231f20" stroke-width="2"/>
<polygon points="751,1383.48 755.9,1374.42 746.1,1374.42" fill="#fff" stroke="#a8700f" stroke-width="2"/>
<polygon points="751,1395.02 755.9,1385.96 746.1,1385.96" fill="#fff" stroke="#a8700f" stroke-width="2"/>
<polygon points="763,1392.38 767.9,1383.32 758.1,1383.32" fill="#fff" stroke="#a8700f" stroke-width="2"/>
<rect x="780.8" y="1425.48" width="20.6" height="16.82" fill="#64b48c" stroke="#231f20" stroke-width="2"/>
<polygon points="785.1,1422.48 789.75,1427.63 785.1,1432.77 780.45,1427.63" fill="#fff" stroke="#006e32" stroke-width="2"/>
<polygon points="791.1,1418.57 795.75,1423.72 791.1,1428.86 786.45,1423.72" fill="#fff" stroke="#006e32" stroke-width="2"/>
<polygon points="797.1,1419.55 801.75,1424.7 797.1,1429.84 792.45,1424.7" fill="#fff" stroke="#006e32" stroke-width="2"/>
<rect x="814.9" y="1256.58" width="20.6" height="185.72" fill="#eea5eb" stroke="#231f20" stroke-width="2"/>
<line x1="825.2" y1="1256.58" x2="825.2" y2="1215.21" stroke="#231f20" stroke-width="2"/>
<line x1="819.2" y1="1215.21" x2="831.2" y2="1215.21" stroke="#231f20" stroke-width="2"/>
<line x1="825.2" y1="1256.58" x2="825.2" y2="1295.7" stroke="#231f20" stroke-width="2"/>
<line x1="819.2" y1="1295.7" x2="831.2" y2="1295.7" stroke="#231f20" stroke-width="2"/>
<polygon points="820.79,1209.63 822.9,1205.91 827.5,1205.91 829.61,1209.63 827.5,1213.36 822.9,1213.36" fill="#fff" stroke="#a832aa" stroke-width="2"/>
<polygon points="814.79,1281.61 816.9,1277.89 821.5,1277.89 823.61,1281.61 821.5,1285.34 816.9,1285.34" fill="#fff" stroke="#a832aa" stroke-width="2"/>
<polygon points="826.79,1275.16 828.9,1271.44 833.5,1271.44 835.61,1275.16 833.5,1278.88 828.9,1278.88" fill="#fff" stroke="#a832aa" stroke-width="2"/>
<circle cx="648.1" cy="1715" r="4.4" fill="#fff" stroke="#000000" stroke-width="2.3"/>
<circle cx="654.7" cy="1715" r="4.4" fill="#fff" stroke="#000000" stroke-width="2.3"/>
<circle cx="661.3" cy="1715" r="4.4" fill="#fff" stroke="#000000" stroke-width="2.3"/>
<rect x="678.5" y="1572.05" width="20.6" height="142.95" fill="#e6878c" stroke="#231f20" stroke-width="2"/>
<line x1="688.8" y1="1572.05" x2="688.8" y2="1552.39" stroke="#231f20" stroke-width="2"/>
<line x1="682.8" y1="1552.39" x2="694.8" y2="1552.39" stroke="#231f20" stroke-width="2"/>
<rect x="677.9" y="1555" width="9.8" height="9.8" fill="#fff" stroke="#b2222a" stroke-width="2"/>
<rect x="689.9" y="1556.36" width="9.8" height="9.8" fill="#fff" stroke="#b2222a" stroke-width="2"/>
<rect x="683.9" y="1588.04" width="9.8" height="9.8" fill="#fff" stroke="#b2222a" stroke-width="2"/>
<rect x="712.6" y="1647.28" width="20.6" height="67.72" fill="#8cafdc" stroke="#231f20" stroke-width="2"/>
<polygon points="716.9,1645.14 721.8,1654.2 712,1654.2" fill="#fff" stroke="#0a32ff" stroke-width="2"/>
<polygon points="722.9,1640.22 727.8,1649.29 718,1649.29" fill="#fff" stroke="#0a32ff" stroke-width="2"/>
<polygon points="728.9,1641.04 733.8,1650.11 724,1650.11" fill="#fff" stroke="#0a32ff" stroke-width="2"/>
<rect x="746.7" y="1567.68" width="20.6" height="147.32" fill="#e4b980" stroke="#231f20" stroke-width="2"/>
<line x1="757" y1="1567.68" x2="757" y2="1552.39" stroke="#231f20" stroke-width="2"/>
<line x1="751" y1="1552.39" x2="763" y2="1552.39" stroke="#231f20" stroke-width="2"/>
<line x1="757" y1="1567.68" x2="757" y2="1581.06" stroke="#231f20" stroke-width="2"/>
<line x1="751" y1="1581.06" x2="763" y2="1581.06" stroke="#231f20" stroke-width="2"/>
<polygon points="751,1562.59 755.9,1553.52 746.1,1553.52" fill="#fff" stroke="#a8700f" stroke-width="2"/>
<polygon points="764,1563 768.9,1553.93 759.1,1553.93" fill="#fff" stroke="#a8700f" stroke-width="2"/>
<polygon points="757,1588.12 761.9,1579.05 752.1,1579.05" fill="#fff" stroke="#a8700f" stroke-width="2"/>
<rect x="780.8" y="1615.88" width="20.6" height="99.12" fill="#64b48c" stroke="#231f20" stroke-width="2"/>
<line x1="791.1" y1="1615.88" x2="791.1" y2="1608.91" stroke="#231f20" stroke-width="2"/>
<line x1="785.1" y1="1608.91" x2="797.1" y2="1608.91" stroke="#231f20" stroke-width="2"/>
<line x1="791.1" y1="1615.88" x2="791.1" y2="1621.07" stroke="#231f20" stroke-width="2"/>
<line x1="785.1" y1="1621.07" x2="797.1" y2="1621.07" stroke="#231f20" stroke-width="2"/>
<polygon points="785.1,1604.72 789.75,1609.87 785.1,1615.01 780.45,1609.87" fill="#fff" stroke="#006e32" stroke-width="2"/>
<polygon points="797.1,1608.14 801.75,1613.28 797.1,1618.43 792.45,1613.28" fill="#fff" stroke="#006e32" stroke-width="2"/>
<polygon points="785.1,1617.01 789.75,1622.16 785.1,1627.3 780.45,1622.16" fill="#fff" stroke="#006e32" stroke-width="2"/>
<rect x="814.9" y="1528.36" width="20.6" height="186.64" fill="#eea5eb" stroke="#231f20" stroke-width="2"/>
<line x1="825.2" y1="1528.36" x2="825.2" y2="1504.47" stroke="#231f20" stroke-width="2"/>
<line x1="819.2" y1="1504.47" x2="831.2" y2="1504.47" stroke="#231f20" stroke-width="2"/>
<line x1="825.2" y1="1528.36" x2="825.2" y2="1550.07" stroke="#231f20" stroke-width="2"/>
<line x1="819.2" y1="1550.07" x2="831.2" y2="1550.07" stroke="#231f20" stroke-width="2"/>
<polygon points="820.79,1502.55 822.9,1498.83 827.5,1498.83 829.61,1502.55 827.5,1506.28 822.9,1506.28" fill="#fff" stroke="#a832aa" stroke-width="2"/>
<polygon points="820.79,1534.91 822.9,1531.19 827.5,1531.19 829.61,1534.91 827.5,1538.64 822.9,1538.64" fill="#fff" stroke="#a832aa" stroke-width="2"/>
<polygon points="820.79,1545.56 822.9,1541.84 827.5,1541.84 829.61,1545.56 827.5,1549.29 822.9,1549.29" fill="#fff" stroke="#a832aa" stroke-width="2"/>
<text transform="translate(660.1,1747.1) rotate(-45)" x="-36.03" y="0" font-size="27.5">NT</text>
<text transform="translate(694.2,1747.1) rotate(-45)" x="-86.33" y="0" font-size="27.5">UBS54</text>
<text transform="translate(728.3,1747.1) rotate(-45)" x="-51.93" y="0" font-size="27.5">Y6A</text>
<text transform="translate(762.4,1747.1) rotate(-45)" x="-51.86" y="0" font-size="27.5">Y6V</text>
<text transform="translate(796.5,1747.1) rotate(-45)" x="-48.02" y="0" font-size="27.5">Y6L</text>
<text transform="translate(830.6,1747.1) rotate(-45)" x="-49.33" y="0" font-size="27.5">Y6F</text>
<text x="914.7" y="907.4" font-size="31" textLength="151.99" lengthAdjust="spacingAndGlyphs">Colon EpC</text>
<line x1="877.8" y1="928" x2="877.8" y2="1039.6" stroke="#231f20" stroke-width="2"/>
<line x1="870.3" y1="1039.6" x2="884.8" y2="1039.6" stroke="#231f20" stroke-width="2"/>
<line x1="864.3" y1="928.1" x2="877.8" y2="928.1" stroke="#231f20" stroke-width="2"/>
<line x1="864.3" y1="971.1" x2="877.8" y2="971.1" stroke="#231f20" stroke-width="2"/>
<line x1="864.3" y1="1014.1" x2="877.8" y2="1014.1" stroke="#231f20" stroke-width="2"/>
<line x1="877.8" y1="1060.8" x2="877.8" y2="1171.6" stroke="#231f20" stroke-width="2"/>
<line x1="870.3" y1="1060.8" x2="884.8" y2="1060.8" stroke="#231f20" stroke-width="2"/>
<line x1="867.8" y1="1088.5" x2="877.8" y2="1088.5" stroke="#231f20" stroke-width="2"/>
<line x1="867.8" y1="1116.2" x2="877.8" y2="1116.2" stroke="#231f20" stroke-width="2"/>
<line x1="867.8" y1="1143.9" x2="877.8" y2="1143.9" stroke="#231f20" stroke-width="2"/>
<line x1="867.8" y1="1171.6" x2="877.8" y2="1171.6" stroke="#231f20" stroke-width="2"/>
<line x1="867.8" y1="1171.6" x2="1092.8" y2="1171.6" stroke="#231f20" stroke-width="2"/>
<line x1="899.8" y1="1171.6" x2="899.8" y2="1181.7" stroke="#231f20" stroke-width="2"/>
<line x1="933.9" y1="1171.6" x2="933.9" y2="1181.7" stroke="#231f20" stroke-width="2"/>
<line x1="968" y1="1171.6" x2="968" y2="1181.7" stroke="#231f20" stroke-width="2"/>
<line x1="1002.1" y1="1171.6" x2="1002.1" y2="1181.7" stroke="#231f20" stroke-width="2"/>
<line x1="1036.2" y1="1171.6" x2="1036.2" y2="1181.7" stroke="#231f20" stroke-width="2"/>
<line x1="1070.3" y1="1171.6" x2="1070.3" y2="1181.7" stroke="#231f20" stroke-width="2"/>
<line x1="877.8" y1="1197.8" x2="877.8" y2="1442.3" stroke="#231f20" stroke-width="2"/>
<line x1="867.8" y1="1197.8" x2="877.8" y2="1197.8" stroke="#231f20" stroke-width="2"/>
<line x1="867.8" y1="1246.7" x2="877.8" y2="1246.7" stroke="#231f20" stroke-width="2"/>
<line x1="867.8" y1="1295.6" x2="877.8" y2="1295.6" stroke="#231f20" stroke-width="2"/>
<line x1="867.8" y1="1344.5" x2="877.8" y2="1344.5" stroke="#231f20" stroke-width="2"/>
<line x1="867.8" y1="1393.4" x2="877.8" y2="1393.4" stroke="#231f20" stroke-width="2"/>
<line x1="867.8" y1="1442.3" x2="877.8" y2="1442.3" stroke="#231f20" stroke-width="2"/>
<line x1="867.8" y1="1442.3" x2="1092.8" y2="1442.3" stroke="#231f20" stroke-width="2"/>
<line x1="899.8" y1="1442.3" x2="899.8" y2="1452.4" stroke="#231f20" stroke-width="2"/>
<line x1="933.9" y1="1442.3" x2="933.9" y2="1452.4" stroke="#231f20" stroke-width="2"/>
<line x1="968" y1="1442.3" x2="968" y2="1452.4" stroke="#231f20" stroke-width="2"/>
<line x1="1002.1" y1="1442.3" x2="1002.1" y2="1452.4" stroke="#231f20" stroke-width="2"/>
<line x1="1036.2" y1="1442.3" x2="1036.2" y2="1452.4" stroke="#231f20" stroke-width="2"/>
<line x1="1070.3" y1="1442.3" x2="1070.3" y2="1452.4" stroke="#231f20" stroke-width="2"/>
<line x1="877.8" y1="1469.6" x2="877.8" y2="1715" stroke="#231f20" stroke-width="2"/>
<line x1="867.8" y1="1510.2" x2="877.8" y2="1510.2" stroke="#231f20" stroke-width="2"/>
<line x1="867.8" y1="1578.47" x2="877.8" y2="1578.47" stroke="#231f20" stroke-width="2"/>
<line x1="867.8" y1="1646.73" x2="877.8" y2="1646.73" stroke="#231f20" stroke-width="2"/>
<line x1="867.8" y1="1715" x2="877.8" y2="1715" stroke="#231f20" stroke-width="2"/>
<line x1="867.8" y1="1715" x2="1092.8" y2="1715" stroke="#231f20" stroke-width="2"/>
<line x1="899.8" y1="1715" x2="899.8" y2="1725.5" stroke="#231f20" stroke-width="2"/>
<line x1="933.9" y1="1715" x2="933.9" y2="1725.5" stroke="#231f20" stroke-width="2"/>
<line x1="968" y1="1715" x2="968" y2="1725.5" stroke="#231f20" stroke-width="2"/>
<line x1="1002.1" y1="1715" x2="1002.1" y2="1725.5" stroke="#231f20" stroke-width="2"/>
<line x1="1036.2" y1="1715" x2="1036.2" y2="1725.5" stroke="#231f20" stroke-width="2"/>
<line x1="1070.3" y1="1715" x2="1070.3" y2="1725.5" stroke="#231f20" stroke-width="2"/>
<circle cx="893.2" cy="1171.6" r="4.4" fill="#fff" stroke="#000000" stroke-width="2.3"/>
<circle cx="899.8" cy="1171.6" r="4.4" fill="#fff" stroke="#000000" stroke-width="2.3"/>
<circle cx="906.4" cy="1171.6" r="4.4" fill="#fff" stroke="#000000" stroke-width="2.3"/>
<rect x="923.6" y="1109.83" width="20.6" height="61.77" fill="#e6878c" stroke="#231f20" stroke-width="2"/>
<line x1="933.9" y1="1109.83" x2="933.9" y2="1096.53" stroke="#231f20" stroke-width="2"/>
<line x1="927.9" y1="1096.53" x2="939.9" y2="1096.53" stroke="#231f20" stroke-width="2"/>
<rect x="923" y="1096.06" width="9.8" height="9.8" fill="#fff" stroke="#b2222a" stroke-width="2"/>
<rect x="935" y="1098.28" width="9.8" height="9.8" fill="#fff" stroke="#b2222a" stroke-width="2"/>
<rect x="929" y="1117.39" width="9.8" height="9.8" fill="#fff" stroke="#b2222a" stroke-width="2"/>
<polygon points="962,1166.45 966.9,1175.52 957.1,1175.52" fill="#fff" stroke="#0a32ff" stroke-width="2"/>
<polygon points="968,1161.75 972.9,1170.81 963.1,1170.81" fill="#fff" stroke="#0a32ff" stroke-width="2"/>
<polygon points="974,1166.45 978.9,1175.52 969.1,1175.52" fill="#fff" stroke="#0a32ff" stroke-width="2"/>
<rect x="991.8" y="1164.12" width="20.6" height="7.48" fill="#e4b980" stroke="#231f20" stroke-width="2"/>
<line x1="1002.1" y1="1164.12" x2="1002.1" y2="1148.33" stroke="#231f20" stroke-width="2"/>
<line x1="996.1" y1="1148.33" x2="1008.1" y2="1148.33" stroke="#231f20" stroke-width="2"/>
<polygon points="1002.1,1149.88 1007,1140.81 997.2,1140.81" fill="#fff" stroke="#a8700f" stroke-width="2"/>
<polygon points="995.1,1176.74 1000,1167.68 990.2,1167.68" fill="#fff" stroke="#a8700f" stroke-width="2"/>
<polygon points="1009.1,1176.74 1014,1167.68 1004.2,1167.68" fill="#fff" stroke="#a8700f" stroke-width="2"/>
<polygon points="1029.2,1165.62 1033.86,1170.77 1029.2,1175.91 1024.55,1170.77" fill="#fff" stroke="#006e32" stroke-width="2"/>
<polygon points="1036.2,1162.3 1040.86,1167.44 1036.2,1172.59 1031.55,1167.44" fill="#fff" stroke="#006e32" stroke-width="2"/>
<polygon points="1043.2,1160.91 1047.86,1166.06 1043.2,1171.2 1038.55,1166.06" fill="#fff" stroke="#006e32" stroke-width="2"/>
<rect x="1060" y="1148.89" width="20.6" height="22.71" fill="#eea5eb" stroke="#231f20" stroke-width="2"/>
<line x1="1070.3" y1="1148.89" x2="1070.3" y2="1140.3" stroke="#231f20" stroke-width="2"/>
<line x1="1064.3" y1="1140.3" x2="1076.3" y2="1140.3" stroke="#231f20" stroke-width="2"/>
<line x1="1070.3" y1="1148.89" x2="1070.3" y2="1156.37" stroke="#231f20" stroke-width="2"/>
<line x1="1064.3" y1="1156.37" x2="1076.3" y2="1156.37" stroke="#231f20" stroke-width="2"/>
<polygon points="1065.89,1136.7 1068,1132.97 1072.6,1132.97 1074.71,1136.7 1072.6,1140.42 1068,1140.42" fill="#fff" stroke="#a832aa" stroke-width="2"/>
<polygon points="1059.89,1153.32 1062,1149.59 1066.6,1149.59 1068.71,1153.32 1066.6,1157.04 1062,1157.04" fill="#fff" stroke="#a832aa" stroke-width="2"/>
<polygon points="1071.89,1152.76 1074,1149.04 1078.6,1149.04 1080.71,1152.76 1078.6,1156.49 1074,1156.49" fill="#fff" stroke="#a832aa" stroke-width="2"/>
<circle cx="893.2" cy="1442.3" r="4.4" fill="#fff" stroke="#000000" stroke-width="2.3"/>
<circle cx="899.8" cy="1442.3" r="4.4" fill="#fff" stroke="#000000" stroke-width="2.3"/>
<circle cx="906.4" cy="1442.3" r="4.4" fill="#fff" stroke="#000000" stroke-width="2.3"/>
<rect x="923.6" y="1368.75" width="20.6" height="73.55" fill="#e6878c" stroke="#231f20" stroke-width="2"/>
<line x1="933.9" y1="1368.75" x2="933.9" y2="1357.7" stroke="#231f20" stroke-width="2"/>
<line x1="927.9" y1="1357.7" x2="939.9" y2="1357.7" stroke="#231f20" stroke-width="2"/>
<rect x="923" y="1356.62" width="9.8" height="9.8" fill="#fff" stroke="#b2222a" stroke-width="2"/>
<rect x="935" y="1357.99" width="9.8" height="9.8" fill="#fff" stroke="#b2222a" stroke-width="2"/>
<rect x="929" y="1374.03" width="9.8" height="9.8" fill="#fff" stroke="#b2222a" stroke-width="2"/>
<polygon points="961.4,1437.15 966.3,1446.22 956.5,1446.22" fill="#fff" stroke="#0a32ff" stroke-width="2"/>
<polygon points="968,1437.15 972.9,1446.22 963.1,1446.22" fill="#fff" stroke="#0a32ff" stroke-width="2"/>
<polygon points="974.6,1437.15 979.5,1446.22 969.7,1446.22" fill="#fff" stroke="#0a32ff" stroke-width="2"/>
<polygon points="995.5,1447.44 1000.4,1438.38 990.6,1438.38" fill="#fff" stroke="#a8700f" stroke-width="2"/>
<polygon points="1002.1,1447.44 1007,1438.38 997.2,1438.38" fill="#fff" stroke="#a8700f" stroke-width="2"/>
<polygon points="1008.7,1447.44 1013.6,1438.38 1003.8,1438.38" fill="#fff" stroke="#a8700f" stroke-width="2"/>
<polygon points="1029.6,1437.15 1034.26,1442.3 1029.6,1447.44 1024.95,1442.3" fill="#fff" stroke="#006e32" stroke-width="2"/>
<polygon points="1036.2,1437.15 1040.86,1442.3 1036.2,1447.44 1031.55,1442.3" fill="#fff" stroke="#006e32" stroke-width="2"/>
<polygon points="1042.8,1437.15 1047.45,1442.3 1042.8,1447.44 1038.14,1442.3" fill="#fff" stroke="#006e32" stroke-width="2"/>
<rect x="1060" y="1391.74" width="20.6" height="50.56" fill="#eea5eb" stroke="#231f20" stroke-width="2"/>
<line x1="1070.3" y1="1391.74" x2="1070.3" y2="1376.38" stroke="#231f20" stroke-width="2"/>
<line x1="1064.3" y1="1376.38" x2="1076.3" y2="1376.38" stroke="#231f20" stroke-width="2"/>
<line x1="1070.3" y1="1391.74" x2="1070.3" y2="1404.06" stroke="#231f20" stroke-width="2"/>
<line x1="1064.3" y1="1404.06" x2="1076.3" y2="1404.06" stroke="#231f20" stroke-width="2"/>
<polygon points="1065.89,1375.01 1068,1371.29 1072.6,1371.29 1074.71,1375.01 1072.6,1378.74 1068,1378.74" fill="#fff" stroke="#a832aa" stroke-width="2"/>
<polygon points="1059.89,1398.88 1062,1395.15 1066.6,1395.15 1068.71,1398.88 1066.6,1402.6 1062,1402.6" fill="#fff" stroke="#a832aa" stroke-width="2"/>
<polygon points="1071.89,1398.09 1074,1394.37 1078.6,1394.37 1080.71,1398.09 1078.6,1401.82 1074,1401.82" fill="#fff" stroke="#a832aa" stroke-width="2"/>
<circle cx="893.2" cy="1715" r="4.4" fill="#fff" stroke="#000000" stroke-width="2.3"/>
<circle cx="899.8" cy="1715" r="4.4" fill="#fff" stroke="#000000" stroke-width="2.3"/>
<circle cx="906.4" cy="1715" r="4.4" fill="#fff" stroke="#000000" stroke-width="2.3"/>
<rect x="923.6" y="1662.71" width="20.6" height="52.29" fill="#e6878c" stroke="#231f20" stroke-width="2"/>
<line x1="933.9" y1="1662.71" x2="933.9" y2="1653.7" stroke="#231f20" stroke-width="2"/>
<line x1="927.9" y1="1653.7" x2="939.9" y2="1653.7" stroke="#231f20" stroke-width="2"/>
<rect x="923" y="1649.48" width="9.8" height="9.8" fill="#fff" stroke="#b2222a" stroke-width="2"/>
<rect x="935" y="1654.39" width="9.8" height="9.8" fill="#fff" stroke="#b2222a" stroke-width="2"/>
<rect x="929" y="1665.45" width="9.8" height="9.8" fill="#fff" stroke="#b2222a" stroke-width="2"/>
<polygon points="968,1704.67 972.9,1713.73 963.1,1713.73" fill="#fff" stroke="#0a32ff" stroke-width="2"/>
<polygon points="962,1709.86 966.9,1718.92 957.1,1718.92" fill="#fff" stroke="#0a32ff" stroke-width="2"/>
<polygon points="974,1709.86 978.9,1718.92 969.1,1718.92" fill="#fff" stroke="#0a32ff" stroke-width="2"/>
<rect x="991.8" y="1709.81" width="20.6" height="5.19" fill="#e4b980" stroke="#231f20" stroke-width="2"/>
<polygon points="1002.1,1709.9 1007,1700.84 997.2,1700.84" fill="#fff" stroke="#a8700f" stroke-width="2"/>
<polygon points="996.1,1720.14 1001,1711.08 991.2,1711.08" fill="#fff" stroke="#a8700f" stroke-width="2"/>
<polygon points="1008.1,1720.14 1013,1711.08 1003.2,1711.08" fill="#fff" stroke="#a8700f" stroke-width="2"/>
<polygon points="1029.6,1709.86 1034.26,1715 1029.6,1720.14 1024.95,1715" fill="#fff" stroke="#006e32" stroke-width="2"/>
<polygon points="1036.2,1709.86 1040.86,1715 1036.2,1720.14 1031.55,1715" fill="#fff" stroke="#006e32" stroke-width="2"/>
<polygon points="1042.8,1709.86 1047.45,1715 1042.8,1720.14 1038.14,1715" fill="#fff" stroke="#006e32" stroke-width="2"/>
<rect x="1060" y="1652.47" width="20.6" height="62.53" fill="#eea5eb" stroke="#231f20" stroke-width="2"/>
<line x1="1070.3" y1="1652.47" x2="1070.3" y2="1637.59" stroke="#231f20" stroke-width="2"/>
<line x1="1064.3" y1="1637.59" x2="1076.3" y2="1637.59" stroke="#231f20" stroke-width="2"/>
<line x1="1070.3" y1="1652.47" x2="1070.3" y2="1665.17" stroke="#231f20" stroke-width="2"/>
<line x1="1064.3" y1="1665.17" x2="1076.3" y2="1665.17" stroke="#231f20" stroke-width="2"/>
<polygon points="1065.89,1635.26 1068,1631.54 1072.6,1631.54 1074.71,1635.26 1072.6,1638.99 1068,1638.99" fill="#fff" stroke="#a832aa" stroke-width="2"/>
<polygon points="1059.89,1660.8 1062,1657.07 1066.6,1657.07 1068.71,1660.8 1066.6,1664.52 1062,1664.52" fill="#fff" stroke="#a832aa" stroke-width="2"/>
<polygon points="1071.89,1658.34 1074,1654.61 1078.6,1654.61 1080.71,1658.34 1078.6,1662.06 1074,1662.06" fill="#fff" stroke="#a832aa" stroke-width="2"/>
<text transform="translate(905.2,1747.1) rotate(-45)" x="-36.03" y="0" font-size="27.5">NT</text>
<text transform="translate(939.3,1747.1) rotate(-45)" x="-86.33" y="0" font-size="27.5">UBS54</text>
<text transform="translate(973.4,1747.1) rotate(-45)" x="-51.93" y="0" font-size="27.5">Y6A</text>
<text transform="translate(1007.5,1747.1) rotate(-45)" x="-51.86" y="0" font-size="27.5">Y6V</text>
<text transform="translate(1041.6,1747.1) rotate(-45)" x="-48.02" y="0" font-size="27.5">Y6L</text>
<text transform="translate(1075.7,1747.1) rotate(-45)" x="-49.33" y="0" font-size="27.5">Y6F</text>
<text x="1147.4" y="907.4" font-size="31" textLength="167.61" lengthAdjust="spacingAndGlyphs">Kidney EpC</text>
<line x1="1122.3" y1="928" x2="1122.3" y2="1039.6" stroke="#231f20" stroke-width="2"/>
<line x1="1114.8" y1="1039.6" x2="1129.3" y2="1039.6" stroke="#231f20" stroke-width="2"/>
<line x1="1108.8" y1="928.1" x2="1122.3" y2="928.1" stroke="#231f20" stroke-width="2"/>
<line x1="1108.8" y1="971.1" x2="1122.3" y2="971.1" stroke="#231f20" stroke-width="2"/>
<line x1="1108.8" y1="1014.1" x2="1122.3" y2="1014.1" stroke="#231f20" stroke-width="2"/>
<line x1="1122.3" y1="1060.8" x2="1122.3" y2="1171.6" stroke="#231f20" stroke-width="2"/>
<line x1="1114.8" y1="1060.8" x2="1129.3" y2="1060.8" stroke="#231f20" stroke-width="2"/>
<line x1="1112.3" y1="1088.5" x2="1122.3" y2="1088.5" stroke="#231f20" stroke-width="2"/>
<line x1="1112.3" y1="1116.2" x2="1122.3" y2="1116.2" stroke="#231f20" stroke-width="2"/>
<line x1="1112.3" y1="1143.9" x2="1122.3" y2="1143.9" stroke="#231f20" stroke-width="2"/>
<line x1="1112.3" y1="1171.6" x2="1122.3" y2="1171.6" stroke="#231f20" stroke-width="2"/>
<line x1="1112.3" y1="1171.6" x2="1337.3" y2="1171.6" stroke="#231f20" stroke-width="2"/>
<line x1="1144.3" y1="1171.6" x2="1144.3" y2="1181.7" stroke="#231f20" stroke-width="2"/>
<line x1="1178.4" y1="1171.6" x2="1178.4" y2="1181.7" stroke="#231f20" stroke-width="2"/>
<line x1="1212.5" y1="1171.6" x2="1212.5" y2="1181.7" stroke="#231f20" stroke-width="2"/>
<line x1="1246.6" y1="1171.6" x2="1246.6" y2="1181.7" stroke="#231f20" stroke-width="2"/>
<line x1="1280.7" y1="1171.6" x2="1280.7" y2="1181.7" stroke="#231f20" stroke-width="2"/>
<line x1="1314.8" y1="1171.6" x2="1314.8" y2="1181.7" stroke="#231f20" stroke-width="2"/>
<line x1="1122.3" y1="1197.8" x2="1122.3" y2="1442.3" stroke="#231f20" stroke-width="2"/>
<line x1="1112.3" y1="1197.8" x2="1122.3" y2="1197.8" stroke="#231f20" stroke-width="2"/>
<line x1="1112.3" y1="1246.7" x2="1122.3" y2="1246.7" stroke="#231f20" stroke-width="2"/>
<line x1="1112.3" y1="1295.6" x2="1122.3" y2="1295.6" stroke="#231f20" stroke-width="2"/>
<line x1="1112.3" y1="1344.5" x2="1122.3" y2="1344.5" stroke="#231f20" stroke-width="2"/>
<line x1="1112.3" y1="1393.4" x2="1122.3" y2="1393.4" stroke="#231f20" stroke-width="2"/>
<line x1="1112.3" y1="1442.3" x2="1122.3" y2="1442.3" stroke="#231f20" stroke-width="2"/>
<line x1="1112.3" y1="1442.3" x2="1337.3" y2="1442.3" stroke="#231f20" stroke-width="2"/>
<line x1="1144.3" y1="1442.3" x2="1144.3" y2="1452.4" stroke="#231f20" stroke-width="2"/>
<line x1="1178.4" y1="1442.3" x2="1178.4" y2="1452.4" stroke="#231f20" stroke-width="2"/>
<line x1="1212.5" y1="1442.3" x2="1212.5" y2="1452.4" stroke="#231f20" stroke-width="2"/>
<line x1="1246.6" y1="1442.3" x2="1246.6" y2="1452.4" stroke="#231f20" stroke-width="2"/>
<line x1="1280.7" y1="1442.3" x2="1280.7" y2="1452.4" stroke="#231f20" stroke-width="2"/>
<line x1="1314.8" y1="1442.3" x2="1314.8" y2="1452.4" stroke="#231f20" stroke-width="2"/>
<line x1="1122.3" y1="1469.6" x2="1122.3" y2="1715" stroke="#231f20" stroke-width="2"/>
<line x1="1112.3" y1="1510.2" x2="1122.3" y2="1510.2" stroke="#231f20" stroke-width="2"/>
<line x1="1112.3" y1="1578.47" x2="1122.3" y2="1578.47" stroke="#231f20" stroke-width="2"/>
<line x1="1112.3" y1="1646.73" x2="1122.3" y2="1646.73" stroke="#231f20" stroke-width="2"/>
<line x1="1112.3" y1="1715" x2="1122.3" y2="1715" stroke="#231f20" stroke-width="2"/>
<line x1="1112.3" y1="1715" x2="1337.3" y2="1715" stroke="#231f20" stroke-width="2"/>
<line x1="1144.3" y1="1715" x2="1144.3" y2="1725.5" stroke="#231f20" stroke-width="2"/>
<line x1="1178.4" y1="1715" x2="1178.4" y2="1725.5" stroke="#231f20" stroke-width="2"/>
<line x1="1212.5" y1="1715" x2="1212.5" y2="1725.5" stroke="#231f20" stroke-width="2"/>
<line x1="1246.6" y1="1715" x2="1246.6" y2="1725.5" stroke="#231f20" stroke-width="2"/>
<line x1="1280.7" y1="1715" x2="1280.7" y2="1725.5" stroke="#231f20" stroke-width="2"/>
<line x1="1314.8" y1="1715" x2="1314.8" y2="1725.5" stroke="#231f20" stroke-width="2"/>
<circle cx="1137.7" cy="1171.6" r="4.4" fill="#fff" stroke="#000000" stroke-width="2.3"/>
<circle cx="1144.3" cy="1171.6" r="4.4" fill="#fff" stroke="#000000" stroke-width="2.3"/>
<circle cx="1150.9" cy="1171.6" r="4.4" fill="#fff" stroke="#000000" stroke-width="2.3"/>
<rect x="1168.1" y="1095.42" width="20.6" height="76.17" fill="#e6878c" stroke="#231f20" stroke-width="2"/>
<line x1="1178.4" y1="1095.42" x2="1178.4" y2="1081.3" stroke="#231f20" stroke-width="2"/>
<line x1="1172.4" y1="1081.3" x2="1184.4" y2="1081.3" stroke="#231f20" stroke-width="2"/>
<rect x="1167.5" y="1079.44" width="9.8" height="9.8" fill="#fff" stroke="#b2222a" stroke-width="2"/>
<rect x="1179.5" y="1085.54" width="9.8" height="9.8" fill="#fff" stroke="#b2222a" stroke-width="2"/>
<rect x="1173.5" y="1105.48" width="9.8" height="9.8" fill="#fff" stroke="#b2222a" stroke-width="2"/>
<polygon points="1205.9,1166.45 1210.8,1175.52 1201,1175.52" fill="#fff" stroke="#0a32ff" stroke-width="2"/>
<polygon points="1212.5,1166.45 1217.4,1175.52 1207.6,1175.52" fill="#fff" stroke="#0a32ff" stroke-width="2"/>
<polygon points="1219.1,1166.45 1224,1175.52 1214.2,1175.52" fill="#fff" stroke="#0a32ff" stroke-width="2"/>
<polygon points="1240,1176.74 1244.9,1167.68 1235.1,1167.68" fill="#fff" stroke="#a8700f" stroke-width="2"/>
<polygon points="1246.6,1176.74 1251.5,1167.68 1241.7,1167.68" fill="#fff" stroke="#a8700f" stroke-width="2"/>
<polygon points="1253.2,1176.74 1258.1,1167.68 1248.3,1167.68" fill="#fff" stroke="#a8700f" stroke-width="2"/>
<polygon points="1274.7,1166.45 1279.36,1171.6 1274.7,1176.74 1270.05,1171.6" fill="#fff" stroke="#006e32" stroke-width="2"/>
<polygon points="1280.7,1160.64 1285.36,1165.78 1280.7,1170.93 1276.05,1165.78" fill="#fff" stroke="#006e32" stroke-width="2"/>
<polygon points="1286.7,1166.45 1291.36,1171.6 1286.7,1176.74 1282.05,1171.6" fill="#fff" stroke="#006e32" stroke-width="2"/>
<rect x="1304.5" y="1134.2" width="20.6" height="37.39" fill="#eea5eb" stroke="#231f20" stroke-width="2"/>
<line x1="1314.8" y1="1134.2" x2="1314.8" y2="1117.31" stroke="#231f20" stroke-width="2"/>
<line x1="1308.8" y1="1117.31" x2="1320.8" y2="1117.31" stroke="#231f20" stroke-width="2"/>
<line x1="1314.8" y1="1134.2" x2="1314.8" y2="1148.61" stroke="#231f20" stroke-width="2"/>
<line x1="1308.8" y1="1148.61" x2="1320.8" y2="1148.61" stroke="#231f20" stroke-width="2"/>
<polygon points="1310.39,1116.2 1312.5,1112.48 1317.1,1112.48 1319.21,1116.2 1317.1,1119.92 1312.5,1119.92" fill="#fff" stroke="#a832aa" stroke-width="2"/>
<polygon points="1304.39,1143.9 1306.5,1140.18 1311.1,1140.18 1313.21,1143.9 1311.1,1147.62 1306.5,1147.62" fill="#fff" stroke="#a832aa" stroke-width="2"/>
<polygon points="1316.39,1138.64 1318.5,1134.91 1323.1,1134.91 1325.21,1138.64 1323.1,1142.36 1318.5,1142.36" fill="#fff" stroke="#a832aa" stroke-width="2"/>
<circle cx="1137.7" cy="1442.3" r="4.4" fill="#fff" stroke="#000000" stroke-width="2.3"/>
<circle cx="1144.3" cy="1442.3" r="4.4" fill="#fff" stroke="#000000" stroke-width="2.3"/>
<circle cx="1150.9" cy="1442.3" r="4.4" fill="#fff" stroke="#000000" stroke-width="2.3"/>
<rect x="1168.1" y="1356.43" width="20.6" height="85.87" fill="#e6878c" stroke="#231f20" stroke-width="2"/>
<line x1="1178.4" y1="1356.43" x2="1178.4" y2="1344.5" stroke="#231f20" stroke-width="2"/>
<line x1="1172.4" y1="1344.5" x2="1184.4" y2="1344.5" stroke="#231f20" stroke-width="2"/>
<rect x="1167.5" y="1343.9" width="9.8" height="9.8" fill="#fff" stroke="#b2222a" stroke-width="2"/>
<rect x="1179.5" y="1344.69" width="9.8" height="9.8" fill="#fff" stroke="#b2222a" stroke-width="2"/>
<rect x="1173.5" y="1362.58" width="9.8" height="9.8" fill="#fff" stroke="#b2222a" stroke-width="2"/>
<polygon points="1205.9,1437.15 1210.8,1446.22 1201,1446.22" fill="#fff" stroke="#0a32ff" stroke-width="2"/>
<polygon points="1212.5,1437.15 1217.4,1446.22 1207.6,1446.22" fill="#fff" stroke="#0a32ff" stroke-width="2"/>
<polygon points="1219.1,1437.15 1224,1446.22 1214.2,1446.22" fill="#fff" stroke="#0a32ff" stroke-width="2"/>
<polygon points="1240,1447.44 1244.9,1438.38 1235.1,1438.38" fill="#fff" stroke="#a8700f" stroke-width="2"/>
<polygon points="1246.6,1447.44 1251.5,1438.38 1241.7,1438.38" fill="#fff" stroke="#a8700f" stroke-width="2"/>
<polygon points="1253.2,1447.44 1258.1,1438.38 1248.3,1438.38" fill="#fff" stroke="#a8700f" stroke-width="2"/>
<polygon points="1274.1,1437.15 1278.76,1442.3 1274.1,1447.44 1269.45,1442.3" fill="#fff" stroke="#006e32" stroke-width="2"/>
<polygon points="1280.7,1437.15 1285.36,1442.3 1280.7,1447.44 1276.05,1442.3" fill="#fff" stroke="#006e32" stroke-width="2"/>
<polygon points="1287.3,1437.15 1291.95,1442.3 1287.3,1447.44 1282.64,1442.3" fill="#fff" stroke="#006e32" stroke-width="2"/>
<rect x="1304.5" y="1372.57" width="20.6" height="69.73" fill="#eea5eb" stroke="#231f20" stroke-width="2"/>
<line x1="1314.8" y1="1372.57" x2="1314.8" y2="1361.03" stroke="#231f20" stroke-width="2"/>
<line x1="1308.8" y1="1361.03" x2="1320.8" y2="1361.03" stroke="#231f20" stroke-width="2"/>
<line x1="1314.8" y1="1372.57" x2="1314.8" y2="1381.47" stroke="#231f20" stroke-width="2"/>
<line x1="1308.8" y1="1381.47" x2="1320.8" y2="1381.47" stroke="#231f20" stroke-width="2"/>
<polygon points="1310.39,1359.85 1312.5,1356.13 1317.1,1356.13 1319.21,1359.85 1317.1,1363.58 1312.5,1363.58" fill="#fff" stroke="#a832aa" stroke-width="2"/>
<polygon points="1304.39,1377.65 1306.5,1373.93 1311.1,1373.93 1313.21,1377.65 1311.1,1381.38 1306.5,1381.38" fill="#fff" stroke="#a832aa" stroke-width="2"/>
<polygon points="1316.39,1376.87 1318.5,1373.15 1323.1,1373.15 1325.21,1376.87 1323.1,1380.6 1318.5,1380.6" fill="#fff" stroke="#a832aa" stroke-width="2"/>
<circle cx="1137.7" cy="1715" r="4.4" fill="#fff" stroke="#000000" stroke-width="2.3"/>
<circle cx="1144.3" cy="1715" r="4.4" fill="#fff" stroke="#000000" stroke-width="2.3"/>
<circle cx="1150.9" cy="1715" r="4.4" fill="#fff" stroke="#000000" stroke-width="2.3"/>
<rect x="1168.1" y="1657.66" width="20.6" height="57.34" fill="#e6878c" stroke="#231f20" stroke-width="2"/>
<rect x="1167.5" y="1647.7" width="9.8" height="9.8" fill="#fff" stroke="#b2222a" stroke-width="2"/>
<rect x="1179.5" y="1650.03" width="9.8" height="9.8" fill="#fff" stroke="#b2222a" stroke-width="2"/>
<rect x="1173.5" y="1660.54" width="9.8" height="9.8" fill="#fff" stroke="#b2222a" stroke-width="2"/>
<polygon points="1205.9,1709.86 1210.8,1718.92 1201,1718.92" fill="#fff" stroke="#0a32ff" stroke-width="2"/>
<polygon points="1212.5,1709.86 1217.4,1718.92 1207.6,1718.92" fill="#fff" stroke="#0a32ff" stroke-width="2"/>
<polygon points="1219.1,1709.86 1224,1718.92 1214.2,1718.92" fill="#fff" stroke="#0a32ff" stroke-width="2"/>
<polygon points="1240.6,1718.1 1245.5,1709.03 1235.7,1709.03" fill="#fff" stroke="#a8700f" stroke-width="2"/>
<polygon points="1246.6,1718.1 1251.5,1709.03 1241.7,1709.03" fill="#fff" stroke="#a8700f" stroke-width="2"/>
<polygon points="1252.6,1718.1 1257.5,1709.03 1247.7,1709.03" fill="#fff" stroke="#a8700f" stroke-width="2"/>
<polygon points="1274.1,1709.86 1278.76,1715 1274.1,1720.14 1269.45,1715" fill="#fff" stroke="#006e32" stroke-width="2"/>
<polygon points="1280.7,1709.86 1285.36,1715 1280.7,1720.14 1276.05,1715" fill="#fff" stroke="#006e32" stroke-width="2"/>
<polygon points="1287.3,1709.86 1291.95,1715 1287.3,1720.14 1282.64,1715" fill="#fff" stroke="#006e32" stroke-width="2"/>
<rect x="1304.5" y="1637.18" width="20.6" height="77.82" fill="#eea5eb" stroke="#231f20" stroke-width="2"/>
<polygon points="1304.39,1636.49 1306.5,1632.77 1311.1,1632.77 1313.21,1636.49 1311.1,1640.22 1306.5,1640.22" fill="#fff" stroke="#a832aa" stroke-width="2"/>
<polygon points="1310.39,1633.08 1312.5,1629.36 1317.1,1629.36 1319.21,1633.08 1317.1,1636.8 1312.5,1636.8" fill="#fff" stroke="#a832aa" stroke-width="2"/>
<polygon points="1316.39,1636.49 1318.5,1632.77 1323.1,1632.77 1325.21,1636.49 1323.1,1640.22 1318.5,1640.22" fill="#fff" stroke="#a832aa" stroke-width="2"/>
<text transform="translate(1149.7,1747.1) rotate(-45)" x="-36.03" y="0" font-size="27.5">NT</text>
<text transform="translate(1183.8,1747.1) rotate(-45)" x="-86.33" y="0" font-size="27.5">UBS54</text>
<text transform="translate(1217.9,1747.1) rotate(-45)" x="-51.93" y="0" font-size="27.5">Y6A</text>
<text transform="translate(1252,1747.1) rotate(-45)" x="-51.86" y="0" font-size="27.5">Y6V</text>
<text transform="translate(1286.1,1747.1) rotate(-45)" x="-48.02" y="0" font-size="27.5">Y6L</text>
<text transform="translate(1320.2,1747.1) rotate(-45)" x="-49.33" y="0" font-size="27.5">Y6F</text>
<text transform="translate(46.8,1110.5) rotate(-90)" x="-2.45" y="0" font-size="28.6" textLength="135.49" lengthAdjust="spacingAndGlyphs">IL-2 (pg/ml)</text>
<text transform="translate(30.3,1389.1) rotate(-90)" x="-2.41" y="0" font-size="28.4" textLength="152.33" lengthAdjust="spacingAndGlyphs">IFN-<tspan font-family="Liberation Serif, serif">γ</tspan> (pg/ml)</text>
<text transform="translate(31.3,1705) rotate(-90)" x="-1.34" y="0" font-size="28.4" textLength="238.39" lengthAdjust="spacingAndGlyphs">Granzyme B (pg/ml)</text>
<text x="1383.4" y="907.1" font-size="40" font-weight="bold" textLength="13.62" lengthAdjust="spacingAndGlyphs">f</text>
<path d="M1423.25,923.4 C1421.34,922.9 1415.59,920.75 1411.75,920.41 C1407.92,920.08 1403.61,920.7 1400.25,921.39 C1396.9,922.08 1394.02,923.26 1391.63,924.55 C1389.23,925.85 1387.41,927.43 1385.88,929.15 C1384.34,930.88 1383.29,932.7 1382.43,934.9 C1381.56,937.11 1381.13,939.98 1380.7,942.38 C1380.27,944.77 1380.22,947.55 1379.84,949.28 C1379.46,951 1379.31,951.39 1378.4,952.73 C1377.49,954.07 1375.72,955.51 1374.38,957.33 C1373.03,959.15 1371.36,961.35 1370.35,963.65 C1369.34,965.95 1368.43,968.73 1368.34,971.13 C1368.24,973.53 1368.67,976.21 1369.78,978.03 C1370.88,979.85 1372.75,981 1374.95,982.06 C1377.16,983.11 1378.78,983.59 1383,984.36 C1387.22,985.12 1393.54,986.08 1400.25,986.66 C1406.96,987.23 1416.07,987.52 1423.25,987.81 C1430.44,988.09 1438.59,987.9 1443.38,988.38 C1448.17,988.86 1449.42,989.72 1452.01,990.68 C1454.59,991.64 1456.89,992.98 1458.91,994.13 C1460.92,995.28 1464.75,998.06 1464.08,997.58 C1463.41,997.1 1458.33,993.08 1454.88,991.26 C1451.43,989.44 1448.65,987.57 1443.38,986.66 C1438.11,985.75 1430.44,986.18 1423.25,985.79 C1416.07,985.41 1406.48,985.07 1400.25,984.36 C1394.02,983.64 1389.81,982.92 1385.88,981.48 C1381.95,980.04 1378.69,977.74 1376.68,975.73 C1374.66,973.72 1373.9,971.42 1373.8,969.4 C1373.71,967.39 1374.76,965.28 1376.1,963.65 C1377.44,962.03 1380.22,960.4 1381.85,959.63 C1383.48,958.86 1383.77,958.57 1385.88,959.05 C1387.99,959.53 1392.11,961.64 1394.5,962.5 C1396.9,963.37 1397.86,964.04 1400.25,964.23 C1402.65,964.42 1406,964.09 1408.88,963.65 C1411.75,963.22 1415.59,961.98 1417.5,961.64 C1419.42,961.31 1419.23,961.02 1420.38,961.64 C1421.53,962.26 1422.97,964.18 1424.4,965.38 C1425.84,966.58 1427.47,967.68 1429.01,968.83 C1430.54,969.98 1432.65,973.33 1433.61,972.28 C1434.56,971.23 1434.66,965.48 1434.76,962.5 C1434.85,959.53 1433.22,955.89 1434.18,954.45 C1435.14,953.02 1438.3,954.07 1440.51,953.88 C1442.71,953.69 1445.49,953.02 1447.41,953.3 C1449.32,953.59 1450.47,955.51 1452.01,955.6 C1453.54,955.7 1455.74,955.03 1456.61,953.88 C1457.47,952.73 1457.47,949.95 1457.18,948.7 C1456.89,947.46 1455.74,947.74 1454.88,946.4 C1454.02,945.06 1452.77,942.19 1452.01,940.65 C1451.24,939.12 1451.24,938.45 1450.28,937.2 C1449.32,935.96 1447.41,934.71 1446.26,933.18 C1445.11,931.64 1444.05,929.82 1443.38,928 C1442.71,926.18 1442.9,923.98 1442.23,922.25 C1441.56,920.53 1440.6,918.85 1439.36,917.65 C1438.11,916.45 1435.81,915.25 1434.76,915.06 C1433.7,914.87 1433.22,915.49 1433.03,916.5 C1432.84,917.51 1433.32,919.66 1433.61,921.1 C1433.89,922.54 1434.66,923.98 1434.76,925.13 C1434.85,926.28 1436.1,928.29 1434.18,928 C1432.26,927.71 1425.08,924.17 1423.25,923.4 Z" fill="#fbfdfd" stroke="none"/>
<path d="M1423.25,923.4 C1421.34,922.9 1415.59,920.75 1411.75,920.41 C1407.92,920.08 1403.61,920.7 1400.25,921.39 C1396.9,922.08 1394.02,923.26 1391.63,924.55 C1389.23,925.85 1387.41,927.43 1385.88,929.15 C1384.34,930.88 1383.29,932.7 1382.43,934.9 C1381.56,937.11 1381.13,939.98 1380.7,942.38 C1380.27,944.77 1380.22,947.55 1379.84,949.28 C1379.46,951 1379.31,951.39 1378.4,952.73 C1377.49,954.07 1375.72,955.51 1374.38,957.33 C1373.03,959.15 1371.36,961.35 1370.35,963.65 C1369.34,965.95 1368.43,968.73 1368.34,971.13 C1368.24,973.53 1368.67,976.21 1369.78,978.03 C1370.88,979.85 1372.75,981 1374.95,982.06 C1377.16,983.11 1378.78,983.59 1383,984.36 C1387.22,985.12 1393.54,986.08 1400.25,986.66 C1406.96,987.23 1416.07,987.52 1423.25,987.81 C1430.44,988.09 1438.59,987.9 1443.38,988.38 C1448.17,988.86 1449.42,989.72 1452.01,990.68 C1454.59,991.64 1456.89,992.98 1458.91,994.13 C1460.92,995.28 1463.22,997.01 1464.08,997.58" fill="none" stroke="#3d3d3d" stroke-width="1.3"/>
<path d="M1464.08,997.58 C1462.55,996.53 1458.33,993.08 1454.88,991.26 C1451.43,989.44 1448.65,987.57 1443.38,986.66 C1438.11,985.75 1430.44,986.18 1423.25,985.79 C1416.07,985.41 1406.48,985.07 1400.25,984.36 C1394.02,983.64 1389.81,982.92 1385.88,981.48 C1381.95,980.04 1378.69,977.74 1376.68,975.73 C1374.66,973.72 1373.9,971.42 1373.8,969.4 C1373.71,967.39 1374.76,965.28 1376.1,963.65 C1377.44,962.03 1380.22,960.4 1381.85,959.63 C1383.48,958.86 1383.77,958.57 1385.88,959.05 C1387.99,959.53 1392.11,961.64 1394.5,962.5 C1396.9,963.37 1397.86,964.04 1400.25,964.23 C1402.65,964.42 1406,964.09 1408.88,963.65 C1411.75,963.22 1415.59,961.98 1417.5,961.64 C1419.42,961.31 1419.9,961.64 1420.38,961.64" fill="none" stroke="#3d3d3d" stroke-width="1.3"/>
<path d="M1420.38,961.64 C1421.05,962.26 1422.97,964.18 1424.4,965.38 C1425.84,966.58 1427.47,967.68 1429.01,968.83 C1430.54,969.98 1432.84,971.71 1433.61,972.28" fill="none" stroke="#3d3d3d" stroke-width="1.3"/>
<path d="M1434.18,954.45 C1435.23,954.36 1438.3,954.07 1440.51,953.88 C1442.71,953.69 1445.49,953.02 1447.41,953.3 C1449.32,953.59 1450.47,955.51 1452.01,955.6 C1453.54,955.7 1455.74,955.03 1456.61,953.88 C1457.47,952.73 1457.47,949.95 1457.18,948.7 C1456.89,947.46 1455.74,947.74 1454.88,946.4 C1454.02,945.06 1452.77,942.19 1452.01,940.65 C1451.24,939.12 1451.24,938.45 1450.28,937.2 C1449.32,935.96 1447.41,934.71 1446.26,933.18 C1445.11,931.64 1444.05,929.82 1443.38,928 C1442.71,926.18 1442.9,923.98 1442.23,922.25 C1441.56,920.53 1440.6,918.85 1439.36,917.65 C1438.11,916.45 1435.81,915.25 1434.76,915.06 C1433.7,914.87 1433.22,915.49 1433.03,916.5 C1432.84,917.51 1433.32,919.66 1433.61,921.1 C1433.89,922.54 1434.66,923.98 1434.76,925.13 C1434.85,926.28 1434.28,927.52 1434.18,928" fill="none" stroke="#3d3d3d" stroke-width="1.3"/>
<path d="M1434.76,928 C1433.99,927.33 1431.88,924.65 1430.16,923.98 C1428.43,923.31 1425.94,923.31 1424.4,923.98 C1422.87,924.65 1421.53,926.56 1420.95,928 C1420.38,929.44 1420.38,931.07 1420.95,932.6 C1421.53,934.14 1422.68,935.86 1424.4,937.2 C1426.13,938.54 1430.16,940.08 1431.31,940.65" fill="#f0f0f0" stroke="#3d3d3d" stroke-width="1.3"/>
<path d="M1431.59,932.03 C1431.5,932.51 1431.02,934.04 1431.02,934.9 C1431.02,935.76 1431.5,936.82 1431.59,937.2" fill="none" stroke="#3d3d3d" stroke-width="1.1"/>
<circle cx="1443.67" cy="944.1" r="2.6" fill="#3d3d3d" stroke="#3d3d3d" stroke-width="0.5"/>
<path d="M1434.18,954.45 C1433.7,955.12 1431.88,956.66 1431.31,958.48 C1430.73,960.3 1430.35,963.18 1430.73,965.38 C1431.11,967.58 1432.65,970.36 1433.61,971.71 C1434.56,973.05 1436,973.14 1436.48,973.43" fill="none" stroke="#3d3d3d" stroke-width="1.3"/>
<path d="M1431.31,961.35 C1432.17,961.55 1435.23,961.74 1436.48,962.5 C1437.73,963.27 1438.4,965.38 1438.78,965.95" fill="none" stroke="#3d3d3d" stroke-width="1"/>
<path d="M1431.88,967.1 C1432.65,967.3 1435.23,967.58 1436.48,968.25 C1437.73,968.93 1438.88,970.65 1439.36,971.13" fill="none" stroke="#3d3d3d" stroke-width="1"/>
<path d="M1396.8,964.23 C1397.28,964.9 1399.2,967.58 1399.68,968.25" fill="none" stroke="#3d3d3d" stroke-width="1.6"/>
<path d="M1401.4,964.8 C1402.07,965.57 1404.76,968.64 1405.43,969.4" fill="none" stroke="#3d3d3d" stroke-width="1.6"/>
<path d="M1404.85,964.8 C1405.52,965.19 1408.21,966.72 1408.88,967.1" fill="none" stroke="#3d3d3d" stroke-width="1.6"/>
<line x1="1448.27" y1="954.45" x2="1439.36" y2="958.48" stroke="#3d3d3d" stroke-width="0.9"/>
<line x1="1448.27" y1="954.45" x2="1441.08" y2="961.07" stroke="#3d3d3d" stroke-width="0.9"/>
<line x1="1448.27" y1="954.45" x2="1443.38" y2="963.65" stroke="#3d3d3d" stroke-width="0.9"/>
<line x1="1448.27" y1="954.45" x2="1446.26" y2="964.8" stroke="#3d3d3d" stroke-width="0.9"/>
<line x1="1448.27" y1="954.45" x2="1447.69" y2="963.65" stroke="#3d3d3d" stroke-width="0.9"/>
<circle cx="1456.61" cy="947.84" r="1.3" fill="#3d3d3d" stroke="#3d3d3d" stroke-width="0.5"/>
<text x="1468.69" y="948.4" font-size="26.9" textLength="106.26" lengthAdjust="spacingAndGlyphs">Days: –7</text>
<text x="1780.12" y="948.4" font-size="26.9">0</text>
<text x="1859.6" y="907.1" font-size="26.9" textLength="91.4" lengthAdjust="spacingAndGlyphs">Monitor</text>
<text x="1866.04" y="938" font-size="26.9" textLength="80.41" lengthAdjust="spacingAndGlyphs">weekly</text>
<line x1="1554.1" y1="974.4" x2="1965" y2="974.4" stroke="#231f20" stroke-width="2"/>
<polygon points="1962.6,965.6 1985.4,974.4 1962.6,983.5 1966.5,974.4" fill="#231f20"/>
<line x1="1554.1" y1="954.9" x2="1554.1" y2="993.2" stroke="#231f20" stroke-width="2"/>
<line x1="1788.1" y1="954.9" x2="1788.1" y2="993.2" stroke="#231f20" stroke-width="2"/>
<line x1="1870" y1="954.9" x2="1870" y2="993.2" stroke="#231f20" stroke-width="2"/>
<line x1="1904.8" y1="954.9" x2="1904.8" y2="993.2" stroke="#231f20" stroke-width="2"/>
<line x1="1939.2" y1="954.9" x2="1939.2" y2="993.2" stroke="#231f20" stroke-width="2"/>
<text x="1439.56" y="1022" font-size="27" textLength="168.58" lengthAdjust="spacingAndGlyphs">Implant 1 × 10</text>
<text x="1610.86" y="1012.2" font-size="14.5">6</text>
<text x="1413.77" y="1053.4" font-size="26.5" textLength="240.1" lengthAdjust="spacingAndGlyphs">SNU-638 cells (s.c.)</text>
<text x="1695.9" y="1021.8" font-size="26.5" textLength="148.15" lengthAdjust="spacingAndGlyphs">Inject 1 × 10</text>
<text x="1844.26" y="1012.2" font-size="14.5">7</text>
<text x="1711.8" y="1053.4" font-size="26.5" textLength="135.44" lengthAdjust="spacingAndGlyphs">T cells (i.v.)</text>
<text x="1444.91" y="1171" font-size="42" font-weight="bold" textLength="26.72" lengthAdjust="spacingAndGlyphs">g</text>
<line x1="1580.1" y1="1160.6" x2="1610.8" y2="1160.6" stroke="#000000" stroke-width="2"/>
<circle cx="1595.5" cy="1160.6" r="8" fill="#000000" stroke="#000000" stroke-width="0.5"/>
<text x="1625.37" y="1170.6" font-size="31.8" textLength="64.21" lengthAdjust="spacingAndGlyphs">No T</text>
<line x1="1580.1" y1="1206.2" x2="1610.8" y2="1206.2" stroke="#b4190f" stroke-width="2"/>
<rect x="1587.1" y="1197.8" width="16.8" height="16.8" fill="none" stroke="#b4190f" stroke-width="2"/>
<text x="1625.52" y="1215.7" font-size="31.8" textLength="93.54" lengthAdjust="spacingAndGlyphs">UBS54</text>
<line x1="1580.1" y1="1250.5" x2="1610.8" y2="1250.5" stroke="#b8893a" stroke-width="2"/>
<polygon points="1595.5,1259.32 1603.9,1243.78 1587.1,1243.78" fill="none" stroke="#b8893a" stroke-width="2"/>
<text x="1627.18" y="1259.8" font-size="31.8" textLength="53.24" lengthAdjust="spacingAndGlyphs">Y6V</text>
<line x1="1580.1" y1="1292.6" x2="1610.8" y2="1292.6" stroke="#147814" stroke-width="2"/>
<polygon points="1595.5,1283.78 1603.48,1292.6 1595.5,1301.42 1587.52,1292.6" fill="none" stroke="#147814" stroke-width="2"/>
<text x="1627.16" y="1301.9" font-size="31.8" textLength="51.81" lengthAdjust="spacingAndGlyphs">Y6L</text>
<polyline points="1726.8,1157.7 1781.1,1157.7 1781.1,1204.7 1766.6,1204.7" fill="none" stroke="#333" stroke-width="2"/>
<polyline points="1762.2,1157.7 1762.2,1246.8 1747.1,1246.8" fill="none" stroke="#333" stroke-width="2"/>
<polyline points="1740.8,1157.7 1740.8,1292.6 1693.2,1292.6" fill="none" stroke="#333" stroke-width="2"/>
<text x="1787.29" y="1189.8" font-size="31.3" textLength="87" lengthAdjust="spacingAndGlyphs">0.0161</text>
<text x="1766.27" y="1238.1" font-size="31.3" textLength="88.75" lengthAdjust="spacingAndGlyphs">0.3801</text>
<text x="1745.95" y="1281" font-size="31.3" textLength="89.98" lengthAdjust="spacingAndGlyphs">0.3495</text>
<line x1="1572.3" y1="1314.5" x2="1572.3" y2="1585.7" stroke="#231f20" stroke-width="2"/>
<line x1="1561.5" y1="1585.7" x2="1917.4" y2="1585.7" stroke="#231f20" stroke-width="2"/>
<line x1="1561.5" y1="1350.1" x2="1572.3" y2="1350.1" stroke="#231f20" stroke-width="2"/>
<text x="1481.18" y="1361.1" font-size="31.5" textLength="74.89" lengthAdjust="spacingAndGlyphs">2,000</text>
<line x1="1561.5" y1="1409" x2="1572.3" y2="1409" stroke="#231f20" stroke-width="2"/>
<text x="1481.18" y="1420" font-size="31.5" textLength="74.89" lengthAdjust="spacingAndGlyphs">1,500</text>
<line x1="1561.5" y1="1467.9" x2="1572.3" y2="1467.9" stroke="#231f20" stroke-width="2"/>
<text x="1481.18" y="1478.9" font-size="31.5" textLength="74.89" lengthAdjust="spacingAndGlyphs">1,000</text>
<line x1="1561.5" y1="1526.8" x2="1572.3" y2="1526.8" stroke="#231f20" stroke-width="2"/>
<text x="1506.14" y="1537.8" font-size="31.5" textLength="49.93" lengthAdjust="spacingAndGlyphs">500</text>
<line x1="1561.5" y1="1585.7" x2="1572.3" y2="1585.7" stroke="#231f20" stroke-width="2"/>
<text x="1539.43" y="1596.7" font-size="31.5" textLength="16.64" lengthAdjust="spacingAndGlyphs">0</text>
<line x1="1594.9" y1="1585.7" x2="1594.9" y2="1596.4" stroke="#231f20" stroke-width="2"/>
<text x="1586.58" y="1627.7" font-size="31.5" textLength="16.64" lengthAdjust="spacingAndGlyphs">2</text>
<line x1="1640.9" y1="1585.7" x2="1640.9" y2="1596.4" stroke="#231f20" stroke-width="2"/>
<text x="1632.67" y="1627.7" font-size="31.5" textLength="16.64" lengthAdjust="spacingAndGlyphs">3</text>
<line x1="1686.9" y1="1585.7" x2="1686.9" y2="1596.4" stroke="#231f20" stroke-width="2"/>
<text x="1678.67" y="1627.7" font-size="31.5" textLength="16.64" lengthAdjust="spacingAndGlyphs">4</text>
<line x1="1732.9" y1="1585.7" x2="1732.9" y2="1596.4" stroke="#231f20" stroke-width="2"/>
<text x="1724.61" y="1627.7" font-size="31.5" textLength="16.64" lengthAdjust="spacingAndGlyphs">5</text>
<line x1="1778.9" y1="1585.7" x2="1778.9" y2="1596.4" stroke="#231f20" stroke-width="2"/>
<text x="1770.48" y="1627.7" font-size="31.5" textLength="16.64" lengthAdjust="spacingAndGlyphs">6</text>
<line x1="1824.9" y1="1585.7" x2="1824.9" y2="1596.4" stroke="#231f20" stroke-width="2"/>
<text x="1816.56" y="1627.7" font-size="31.5" textLength="16.64" lengthAdjust="spacingAndGlyphs">7</text>
<line x1="1870.9" y1="1585.7" x2="1870.9" y2="1596.4" stroke="#231f20" stroke-width="2"/>
<text x="1862.58" y="1627.7" font-size="31.5" textLength="16.64" lengthAdjust="spacingAndGlyphs">8</text>
<line x1="1916.9" y1="1585.7" x2="1916.9" y2="1596.4" stroke="#231f20" stroke-width="2"/>
<text x="1908.59" y="1627.7" font-size="31.5" textLength="16.64" lengthAdjust="spacingAndGlyphs">9</text>
<text x="1505.77" y="1663.3" font-size="31.2" textLength="477.31" lengthAdjust="spacingAndGlyphs">Weeks following T-cell administration</text>
<text transform="translate(1467.7,1579.9) rotate(-90)" x="-0.65" y="0" font-size="30" textLength="252.58" lengthAdjust="spacingAndGlyphs">Tumor volume (mm</text>
<text transform="translate(1456.6,1327.9) rotate(-90)" x="-0.84" y="0" font-size="21" textLength="12.32" lengthAdjust="spacingAndGlyphs">3</text>
<text transform="translate(1467.7,1315.2) rotate(-90)" x="-0.18" y="0" font-size="30">)</text>
<line x1="1640.9" y1="1568.27" x2="1640.9" y2="1563.55" stroke="#147814" stroke-width="2"/>
<line x1="1633.9" y1="1563.55" x2="1647.9" y2="1563.55" stroke="#147814" stroke-width="2"/>
<line x1="1640.9" y1="1568.27" x2="1640.9" y2="1572.98" stroke="#147814" stroke-width="2"/>
<line x1="1633.9" y1="1572.98" x2="1647.9" y2="1572.98" stroke="#147814" stroke-width="2"/>
<line x1="1686.9" y1="1548" x2="1686.9" y2="1536.22" stroke="#147814" stroke-width="2"/>
<line x1="1679.9" y1="1536.22" x2="1693.9" y2="1536.22" stroke="#147814" stroke-width="2"/>
<line x1="1686.9" y1="1548" x2="1686.9" y2="1559.78" stroke="#147814" stroke-width="2"/>
<line x1="1679.9" y1="1559.78" x2="1693.9" y2="1559.78" stroke="#147814" stroke-width="2"/>
<line x1="1732.9" y1="1530.69" x2="1732.9" y2="1516.55" stroke="#147814" stroke-width="2"/>
<line x1="1725.9" y1="1516.55" x2="1739.9" y2="1516.55" stroke="#147814" stroke-width="2"/>
<line x1="1732.9" y1="1530.69" x2="1732.9" y2="1544.82" stroke="#147814" stroke-width="2"/>
<line x1="1725.9" y1="1544.82" x2="1739.9" y2="1544.82" stroke="#147814" stroke-width="2"/>
<line x1="1778.9" y1="1530.69" x2="1778.9" y2="1520.09" stroke="#147814" stroke-width="2"/>
<line x1="1771.9" y1="1520.09" x2="1785.9" y2="1520.09" stroke="#147814" stroke-width="2"/>
<line x1="1778.9" y1="1530.69" x2="1778.9" y2="1541.29" stroke="#147814" stroke-width="2"/>
<line x1="1771.9" y1="1541.29" x2="1785.9" y2="1541.29" stroke="#147814" stroke-width="2"/>
<line x1="1824.9" y1="1516.9" x2="1824.9" y2="1495.7" stroke="#147814" stroke-width="2"/>
<line x1="1817.9" y1="1495.7" x2="1831.9" y2="1495.7" stroke="#147814" stroke-width="2"/>
<line x1="1824.9" y1="1516.9" x2="1824.9" y2="1538.11" stroke="#147814" stroke-width="2"/>
<line x1="1817.9" y1="1538.11" x2="1831.9" y2="1538.11" stroke="#147814" stroke-width="2"/>
<line x1="1870.9" y1="1475.56" x2="1870.9" y2="1437.86" stroke="#147814" stroke-width="2"/>
<line x1="1863.9" y1="1437.86" x2="1877.9" y2="1437.86" stroke="#147814" stroke-width="2"/>
<line x1="1870.9" y1="1475.56" x2="1870.9" y2="1513.25" stroke="#147814" stroke-width="2"/>
<line x1="1863.9" y1="1513.25" x2="1877.9" y2="1513.25" stroke="#147814" stroke-width="2"/>
<polyline points="1594.9,1578.63 1640.9,1568.27 1686.9,1548 1732.9,1530.69 1778.9,1530.69 1824.9,1516.9 1870.9,1475.56" fill="none" stroke="#147814" stroke-width="2"/>
<polygon points="1594.9,1570.86 1601.93,1578.63 1594.9,1586.4 1587.87,1578.63" fill="none" stroke="#147814" stroke-width="2"/>
<polygon points="1640.9,1560.5 1647.93,1568.27 1640.9,1576.04 1633.87,1568.27" fill="none" stroke="#147814" stroke-width="2"/>
<polygon points="1686.9,1540.23 1693.93,1548 1686.9,1555.77 1679.87,1548" fill="none" stroke="#147814" stroke-width="2"/>
<polygon points="1732.9,1522.92 1739.93,1530.69 1732.9,1538.46 1725.87,1530.69" fill="none" stroke="#147814" stroke-width="2"/>
<polygon points="1778.9,1522.92 1785.93,1530.69 1778.9,1538.46 1771.87,1530.69" fill="none" stroke="#147814" stroke-width="2"/>
<polygon points="1824.9,1509.13 1831.93,1516.9 1824.9,1524.67 1817.87,1516.9" fill="none" stroke="#147814" stroke-width="2"/>
<polygon points="1870.9,1467.79 1877.93,1475.56 1870.9,1483.33 1863.87,1475.56" fill="none" stroke="#147814" stroke-width="2"/>
<line x1="1640.9" y1="1566.85" x2="1640.9" y2="1562.14" stroke="#b8893a" stroke-width="2"/>
<line x1="1633.9" y1="1562.14" x2="1647.9" y2="1562.14" stroke="#b8893a" stroke-width="2"/>
<line x1="1640.9" y1="1566.85" x2="1640.9" y2="1571.56" stroke="#b8893a" stroke-width="2"/>
<line x1="1633.9" y1="1571.56" x2="1647.9" y2="1571.56" stroke="#b8893a" stroke-width="2"/>
<line x1="1686.9" y1="1553.89" x2="1686.9" y2="1533.87" stroke="#b8893a" stroke-width="2"/>
<line x1="1679.9" y1="1533.87" x2="1693.9" y2="1533.87" stroke="#b8893a" stroke-width="2"/>
<line x1="1686.9" y1="1553.89" x2="1686.9" y2="1573.92" stroke="#b8893a" stroke-width="2"/>
<line x1="1679.9" y1="1573.92" x2="1693.9" y2="1573.92" stroke="#b8893a" stroke-width="2"/>
<line x1="1732.9" y1="1543.65" x2="1732.9" y2="1520.09" stroke="#b8893a" stroke-width="2"/>
<line x1="1725.9" y1="1520.09" x2="1739.9" y2="1520.09" stroke="#b8893a" stroke-width="2"/>
<line x1="1732.9" y1="1543.65" x2="1732.9" y2="1574.27" stroke="#b8893a" stroke-width="2"/>
<line x1="1725.9" y1="1574.27" x2="1739.9" y2="1574.27" stroke="#b8893a" stroke-width="2"/>
<line x1="1778.9" y1="1518.08" x2="1778.9" y2="1495.7" stroke="#b8893a" stroke-width="2"/>
<line x1="1771.9" y1="1495.7" x2="1785.9" y2="1495.7" stroke="#b8893a" stroke-width="2"/>
<line x1="1778.9" y1="1518.08" x2="1778.9" y2="1540.46" stroke="#b8893a" stroke-width="2"/>
<line x1="1771.9" y1="1540.46" x2="1785.9" y2="1540.46" stroke="#b8893a" stroke-width="2"/>
<line x1="1824.9" y1="1517.49" x2="1824.9" y2="1491.58" stroke="#b8893a" stroke-width="2"/>
<line x1="1817.9" y1="1491.58" x2="1831.9" y2="1491.58" stroke="#b8893a" stroke-width="2"/>
<line x1="1824.9" y1="1517.49" x2="1824.9" y2="1543.41" stroke="#b8893a" stroke-width="2"/>
<line x1="1817.9" y1="1543.41" x2="1831.9" y2="1543.41" stroke="#b8893a" stroke-width="2"/>
<line x1="1870.9" y1="1472.61" x2="1870.9" y2="1431.38" stroke="#b8893a" stroke-width="2"/>
<line x1="1863.9" y1="1431.38" x2="1877.9" y2="1431.38" stroke="#b8893a" stroke-width="2"/>
<line x1="1870.9" y1="1472.61" x2="1870.9" y2="1516.2" stroke="#b8893a" stroke-width="2"/>
<line x1="1863.9" y1="1516.2" x2="1877.9" y2="1516.2" stroke="#b8893a" stroke-width="2"/>
<polyline points="1594.9,1585.7 1640.9,1566.85 1686.9,1553.89 1732.9,1543.65 1778.9,1518.08 1824.9,1517.49 1870.9,1472.61" fill="none" stroke="#b8893a" stroke-width="2"/>
<polygon points="1594.9,1593.47 1602.3,1579.78 1587.5,1579.78" fill="none" stroke="#b8893a" stroke-width="2"/>
<polygon points="1640.9,1574.62 1648.3,1560.93 1633.5,1560.93" fill="none" stroke="#b8893a" stroke-width="2"/>
<polygon points="1686.9,1561.66 1694.3,1547.97 1679.5,1547.97" fill="none" stroke="#b8893a" stroke-width="2"/>
<polygon points="1732.9,1551.42 1740.3,1537.73 1725.5,1537.73" fill="none" stroke="#b8893a" stroke-width="2"/>
<polygon points="1778.9,1525.85 1786.3,1512.16 1771.5,1512.16" fill="none" stroke="#b8893a" stroke-width="2"/>
<polygon points="1824.9,1525.26 1832.3,1511.57 1817.5,1511.57" fill="none" stroke="#b8893a" stroke-width="2"/>
<polygon points="1870.9,1480.38 1878.3,1466.69 1863.5,1466.69" fill="none" stroke="#b8893a" stroke-width="2"/>
<line x1="1824.9" y1="1576.98" x2="1824.9" y2="1564.02" stroke="#b4190f" stroke-width="2"/>
<line x1="1817.9" y1="1564.02" x2="1831.9" y2="1564.02" stroke="#b4190f" stroke-width="2"/>
<line x1="1870.9" y1="1572.04" x2="1870.9" y2="1544.23" stroke="#b4190f" stroke-width="2"/>
<line x1="1863.9" y1="1544.23" x2="1877.9" y2="1544.23" stroke="#b4190f" stroke-width="2"/>
<polyline points="1594.9,1585.7 1640.9,1585.7 1686.9,1585.7 1732.9,1582.76 1778.9,1581.34 1824.9,1576.98 1870.9,1572.04" fill="none" stroke="#b4190f" stroke-width="2"/>
<rect x="1587.5" y="1578.3" width="14.8" height="14.8" fill="none" stroke="#b4190f" stroke-width="2"/>
<rect x="1633.5" y="1578.3" width="14.8" height="14.8" fill="none" stroke="#b4190f" stroke-width="2"/>
<rect x="1679.5" y="1578.3" width="14.8" height="14.8" fill="none" stroke="#b4190f" stroke-width="2"/>
<rect x="1725.5" y="1575.36" width="14.8" height="14.8" fill="none" stroke="#b4190f" stroke-width="2"/>
<rect x="1771.5" y="1573.94" width="14.8" height="14.8" fill="none" stroke="#b4190f" stroke-width="2"/>
<rect x="1817.5" y="1569.58" width="14.8" height="14.8" fill="none" stroke="#b4190f" stroke-width="2"/>
<rect x="1863.5" y="1564.64" width="14.8" height="14.8" fill="none" stroke="#b4190f" stroke-width="2"/>
<line x1="1594.9" y1="1576.98" x2="1594.9" y2="1574.63" stroke="#000000" stroke-width="2"/>
<line x1="1587.9" y1="1574.63" x2="1601.9" y2="1574.63" stroke="#000000" stroke-width="2"/>
<line x1="1594.9" y1="1576.98" x2="1594.9" y2="1579.34" stroke="#000000" stroke-width="2"/>
<line x1="1587.9" y1="1579.34" x2="1601.9" y2="1579.34" stroke="#000000" stroke-width="2"/>
<line x1="1640.9" y1="1564.5" x2="1640.9" y2="1555.07" stroke="#000000" stroke-width="2"/>
<line x1="1633.9" y1="1555.07" x2="1647.9" y2="1555.07" stroke="#000000" stroke-width="2"/>
<line x1="1640.9" y1="1564.5" x2="1640.9" y2="1573.92" stroke="#000000" stroke-width="2"/>
<line x1="1633.9" y1="1573.92" x2="1647.9" y2="1573.92" stroke="#000000" stroke-width="2"/>
<line x1="1686.9" y1="1552.36" x2="1686.9" y2="1538.23" stroke="#000000" stroke-width="2"/>
<line x1="1679.9" y1="1538.23" x2="1693.9" y2="1538.23" stroke="#000000" stroke-width="2"/>
<line x1="1686.9" y1="1552.36" x2="1686.9" y2="1566.5" stroke="#000000" stroke-width="2"/>
<line x1="1679.9" y1="1566.5" x2="1693.9" y2="1566.5" stroke="#000000" stroke-width="2"/>
<line x1="1732.9" y1="1545.88" x2="1732.9" y2="1528.21" stroke="#000000" stroke-width="2"/>
<line x1="1725.9" y1="1528.21" x2="1739.9" y2="1528.21" stroke="#000000" stroke-width="2"/>
<line x1="1732.9" y1="1545.88" x2="1732.9" y2="1564.73" stroke="#000000" stroke-width="2"/>
<line x1="1725.9" y1="1564.73" x2="1739.9" y2="1564.73" stroke="#000000" stroke-width="2"/>
<line x1="1778.9" y1="1527.74" x2="1778.9" y2="1506.54" stroke="#000000" stroke-width="2"/>
<line x1="1771.9" y1="1506.54" x2="1785.9" y2="1506.54" stroke="#000000" stroke-width="2"/>
<line x1="1778.9" y1="1527.74" x2="1778.9" y2="1548.95" stroke="#000000" stroke-width="2"/>
<line x1="1771.9" y1="1548.95" x2="1785.9" y2="1548.95" stroke="#000000" stroke-width="2"/>
<line x1="1824.9" y1="1459.54" x2="1824.9" y2="1410.06" stroke="#000000" stroke-width="2"/>
<line x1="1817.9" y1="1410.06" x2="1831.9" y2="1410.06" stroke="#000000" stroke-width="2"/>
<line x1="1824.9" y1="1459.54" x2="1824.9" y2="1509.01" stroke="#000000" stroke-width="2"/>
<line x1="1817.9" y1="1509.01" x2="1831.9" y2="1509.01" stroke="#000000" stroke-width="2"/>
<line x1="1870.9" y1="1403.46" x2="1870.9" y2="1316.29" stroke="#000000" stroke-width="2"/>
<line x1="1863.9" y1="1316.29" x2="1877.9" y2="1316.29" stroke="#000000" stroke-width="2"/>
<line x1="1870.9" y1="1403.46" x2="1870.9" y2="1490.64" stroke="#000000" stroke-width="2"/>
<line x1="1863.9" y1="1490.64" x2="1877.9" y2="1490.64" stroke="#000000" stroke-width="2"/>
<polyline points="1594.9,1576.98 1640.9,1564.5 1686.9,1552.36 1732.9,1545.88 1778.9,1527.74 1824.9,1459.54 1870.9,1403.46" fill="none" stroke="#000000" stroke-width="2"/>
<circle cx="1594.9" cy="1576.98" r="8.2" fill="#000000" stroke="#000000" stroke-width="0.5"/>
<circle cx="1640.9" cy="1564.5" r="8.2" fill="#000000" stroke="#000000" stroke-width="0.5"/>
<circle cx="1686.9" cy="1552.36" r="8.2" fill="#000000" stroke="#000000" stroke-width="0.5"/>
<circle cx="1732.9" cy="1545.88" r="8.2" fill="#000000" stroke="#000000" stroke-width="0.5"/>
<circle cx="1778.9" cy="1527.74" r="8.2" fill="#000000" stroke="#000000" stroke-width="0.5"/>
<circle cx="1824.9" cy="1459.54" r="8.2" fill="#000000" stroke="#000000" stroke-width="0.5"/>
<circle cx="1870.9" cy="1403.46" r="8.2" fill="#000000" stroke="#000000" stroke-width="0.5"/>
</svg></body></html>
